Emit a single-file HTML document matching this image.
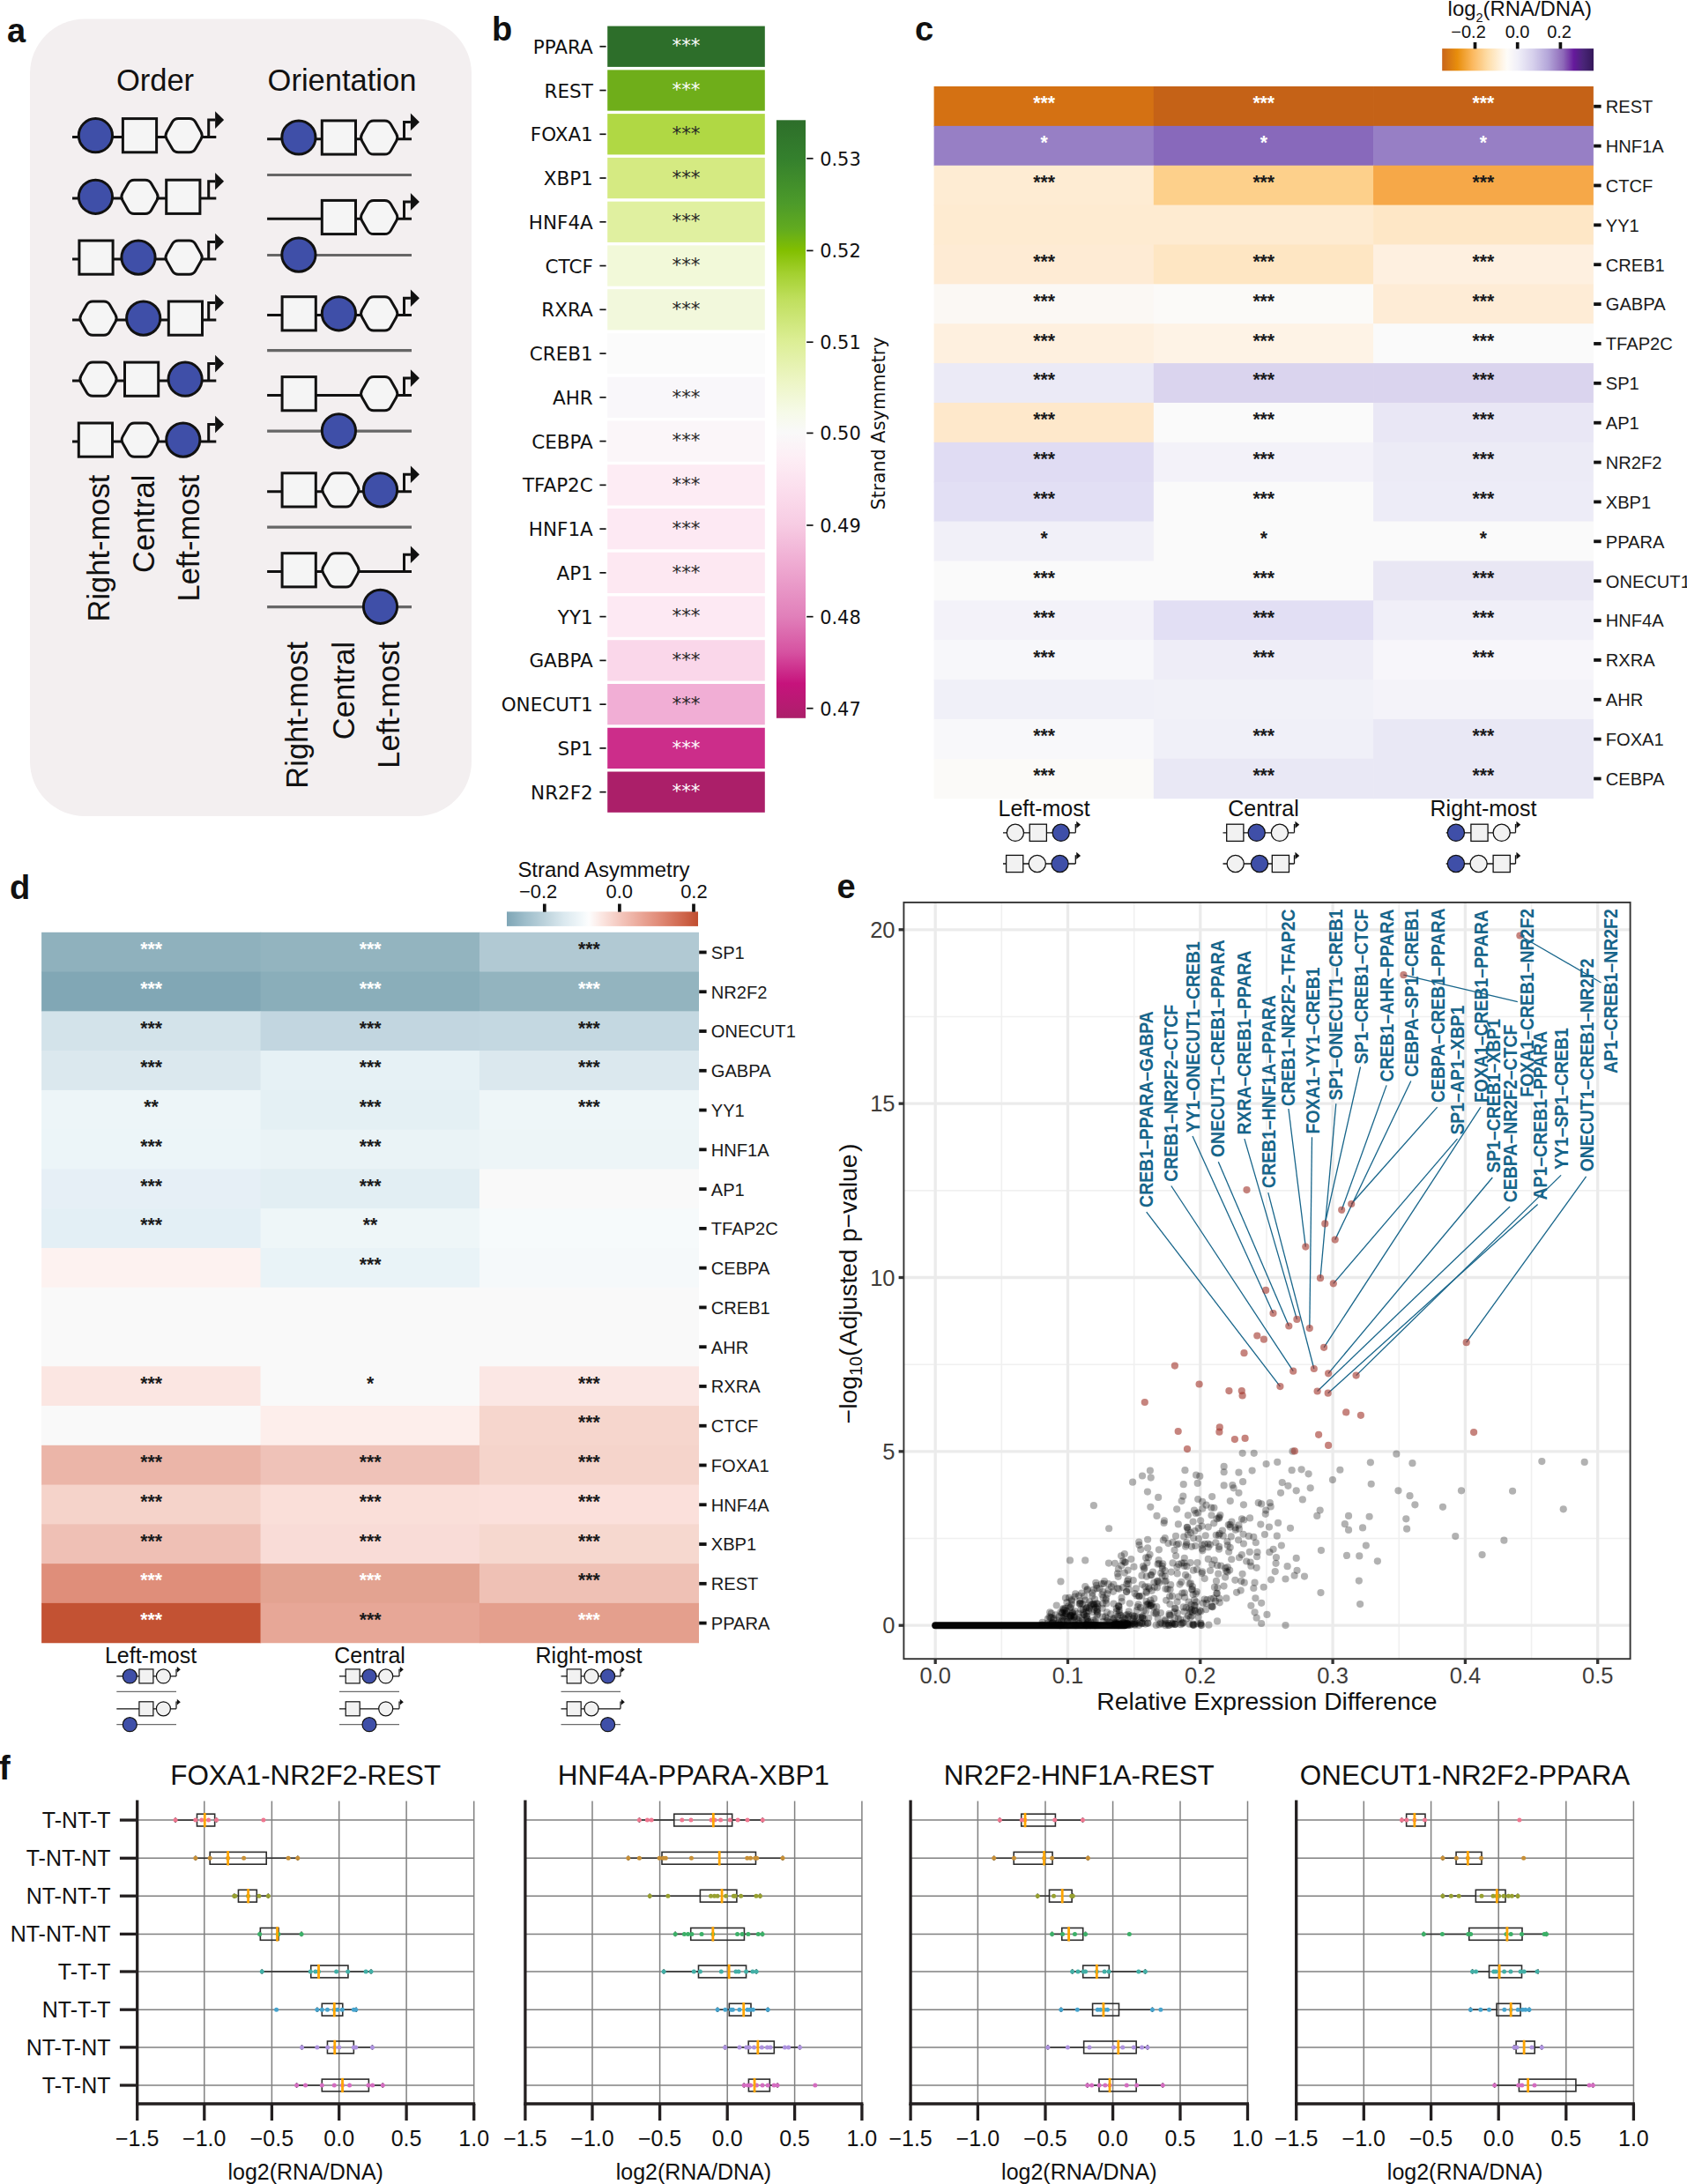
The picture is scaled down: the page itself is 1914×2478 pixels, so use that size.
<!DOCTYPE html>
<html lang="en"><head><meta charset="utf-8"><title>Figure</title>
<style>
html,body{margin:0;padding:0;background:#fff;}
svg{display:block;}
text{white-space:pre;}
</style></head><body>
<svg width="1914" height="2478" viewBox="0 0 1914 2478">
<rect width="1914" height="2478" fill="#fff"/>
<g id="panel_a">
<rect x="34" y="21.5" width="501" height="904.5" fill="#f3eff0" rx="62" ry="62"/>
<text x="8" y="47.8" font-size="38" font-family='"Liberation Sans", Arial, Helvetica, sans-serif' font-weight="bold" fill="#111">a</text>
<text x="176" y="103" font-size="34.5" font-family='"Liberation Sans", Arial, Helvetica, sans-serif' text-anchor="middle" fill="#111">Order</text>
<text x="388" y="103" font-size="34.5" font-family='"Liberation Sans", Arial, Helvetica, sans-serif' text-anchor="middle" fill="#111">Orientation</text>
<line x1="82" y1="155.5" x2="245.3" y2="155.5" stroke="#111" stroke-width="3"/><circle cx="108.4" cy="153.7" r="19.1" fill="#3f4fa8" stroke="#111" stroke-width="3"/><rect x="139.4" y="134.6" width="38.2" height="38.2" fill="#f5f5f5" stroke="#111" stroke-width="3"/><path d="M189.1 157.68 Q186.83 153.7 189.1 149.72 L195.44 138.58 Q197.71 134.6 202.3 134.6 L214.9 134.6 Q219.49 134.6 221.76 138.58 L228.1 149.72 Q230.37 153.7 228.1 157.68 L221.76 168.82 Q219.49 172.8 214.9 172.8 L202.3 172.8 Q197.71 172.8 195.44 168.82 Z" fill="#f5f5f5" stroke="#111" stroke-width="3" stroke-linejoin="round"/><path d="M236.7 155.5 V136.1 H244.1" fill="none" stroke="#111" stroke-width="3"/><path d="M244.1 126.3 L254.1 136.1 L244.1 145.9Z" fill="#111"/>
<line x1="82" y1="225.1" x2="245.3" y2="225.1" stroke="#111" stroke-width="3"/><circle cx="108.4" cy="223.3" r="19.1" fill="#3f4fa8" stroke="#111" stroke-width="3"/><path d="M139 227.28 Q136.73 223.3 139 219.32 L145.34 208.18 Q147.61 204.2 152.2 204.2 L164.8 204.2 Q169.39 204.2 171.66 208.18 L178 219.32 Q180.27 223.3 178 227.28 L171.66 238.42 Q169.39 242.4 164.8 242.4 L152.2 242.4 Q147.61 242.4 145.34 238.42 Z" fill="#f5f5f5" stroke="#111" stroke-width="3" stroke-linejoin="round"/><rect x="188.7" y="204.2" width="38.2" height="38.2" fill="#f5f5f5" stroke="#111" stroke-width="3"/><path d="M236.7 225.1 V205.7 H244.1" fill="none" stroke="#111" stroke-width="3"/><path d="M244.1 195.9 L254.1 205.7 L244.1 215.5Z" fill="#111"/>
<line x1="82" y1="293.9" x2="245.3" y2="293.9" stroke="#111" stroke-width="3"/><rect x="89.9" y="273" width="38.2" height="38.2" fill="#f5f5f5" stroke="#111" stroke-width="3"/><circle cx="157" cy="292.1" r="19.1" fill="#3f4fa8" stroke="#111" stroke-width="3"/><path d="M189.1 296.08 Q186.83 292.1 189.1 288.12 L195.44 276.98 Q197.71 273 202.3 273 L214.9 273 Q219.49 273 221.76 276.98 L228.1 288.12 Q230.37 292.1 228.1 296.08 L221.76 307.22 Q219.49 311.2 214.9 311.2 L202.3 311.2 Q197.71 311.2 195.44 307.22 Z" fill="#f5f5f5" stroke="#111" stroke-width="3" stroke-linejoin="round"/><path d="M236.7 293.9 V274.5 H244.1" fill="none" stroke="#111" stroke-width="3"/><path d="M244.1 264.7 L254.1 274.5 L244.1 284.3Z" fill="#111"/>
<line x1="82" y1="362.9" x2="245.3" y2="362.9" stroke="#111" stroke-width="3"/><path d="M92 365.08 Q89.73 361.1 92 357.12 L98.34 345.98 Q100.61 342 105.2 342 L117.8 342 Q122.39 342 124.66 345.98 L131 357.12 Q133.27 361.1 131 365.08 L124.66 376.22 Q122.39 380.2 117.8 380.2 L105.2 380.2 Q100.61 380.2 98.34 376.22 Z" fill="#f5f5f5" stroke="#111" stroke-width="3" stroke-linejoin="round"/><circle cx="162.7" cy="361.1" r="19.1" fill="#3f4fa8" stroke="#111" stroke-width="3"/><rect x="191.3" y="342" width="38.2" height="38.2" fill="#f5f5f5" stroke="#111" stroke-width="3"/><path d="M236.7 362.9 V343.5 H244.1" fill="none" stroke="#111" stroke-width="3"/><path d="M244.1 333.7 L254.1 343.5 L244.1 353.3Z" fill="#111"/>
<line x1="82" y1="432" x2="245.3" y2="432" stroke="#111" stroke-width="3"/><path d="M92 434.18 Q89.73 430.2 92 426.22 L98.34 415.08 Q100.61 411.1 105.2 411.1 L117.8 411.1 Q122.39 411.1 124.66 415.08 L131 426.22 Q133.27 430.2 131 434.18 L124.66 445.32 Q122.39 449.3 117.8 449.3 L105.2 449.3 Q100.61 449.3 98.34 445.32 Z" fill="#f5f5f5" stroke="#111" stroke-width="3" stroke-linejoin="round"/><rect x="141.5" y="411.1" width="38.2" height="38.2" fill="#f5f5f5" stroke="#111" stroke-width="3"/><circle cx="210.1" cy="430.2" r="19.1" fill="#3f4fa8" stroke="#111" stroke-width="3"/><path d="M236.7 432 V412.6 H244.1" fill="none" stroke="#111" stroke-width="3"/><path d="M244.1 402.8 L254.1 412.6 L244.1 422.4Z" fill="#111"/>
<line x1="82" y1="500.9" x2="245.3" y2="500.9" stroke="#111" stroke-width="3"/><rect x="89.3" y="480" width="38.2" height="38.2" fill="#f5f5f5" stroke="#111" stroke-width="3"/><path d="M139.3 503.08 Q137.03 499.1 139.3 495.12 L145.64 483.98 Q147.91 480 152.5 480 L165.1 480 Q169.69 480 171.96 483.98 L178.3 495.12 Q180.57 499.1 178.3 503.08 L171.96 514.22 Q169.69 518.2 165.1 518.2 L152.5 518.2 Q147.91 518.2 145.64 514.22 Z" fill="#f5f5f5" stroke="#111" stroke-width="3" stroke-linejoin="round"/><circle cx="207.8" cy="499.1" r="19.1" fill="#3f4fa8" stroke="#111" stroke-width="3"/><path d="M236.7 500.9 V481.5 H244.1" fill="none" stroke="#111" stroke-width="3"/><path d="M244.1 471.7 L254.1 481.5 L244.1 491.3Z" fill="#111"/>
<line x1="303.1" y1="157.8" x2="467" y2="157.8" stroke="#111" stroke-width="3"/><circle cx="338.9" cy="156" r="19.1" fill="#3f4fa8" stroke="#111" stroke-width="3"/><rect x="365.3" y="136.9" width="38.2" height="38.2" fill="#f5f5f5" stroke="#111" stroke-width="3"/><path d="M410.7 159.98 Q408.43 156 410.7 152.02 L417.04 140.88 Q419.31 136.9 423.9 136.9 L436.5 136.9 Q441.09 136.9 443.36 140.88 L449.7 152.02 Q451.97 156 449.7 159.98 L443.36 171.12 Q441.09 175.1 436.5 175.1 L423.9 175.1 Q419.31 175.1 417.04 171.12 Z" fill="#f5f5f5" stroke="#111" stroke-width="3" stroke-linejoin="round"/><path d="M458.5 157.8 V138.4 H465.9" fill="none" stroke="#111" stroke-width="3"/><path d="M465.9 128.6 L475.9 138.4 L465.9 148.2Z" fill="#111"/>
<line x1="303.1" y1="198.5" x2="467" y2="198.5" stroke="#666" stroke-width="3.2"/>
<line x1="303.1" y1="248.3" x2="467" y2="248.3" stroke="#111" stroke-width="3"/><rect x="365.3" y="227.4" width="38.2" height="38.2" fill="#f5f5f5" stroke="#111" stroke-width="3"/><path d="M410.7 250.48 Q408.43 246.5 410.7 242.52 L417.04 231.38 Q419.31 227.4 423.9 227.4 L436.5 227.4 Q441.09 227.4 443.36 231.38 L449.7 242.52 Q451.97 246.5 449.7 250.48 L443.36 261.62 Q441.09 265.6 436.5 265.6 L423.9 265.6 Q419.31 265.6 417.04 261.62 Z" fill="#f5f5f5" stroke="#111" stroke-width="3" stroke-linejoin="round"/><path d="M458.5 248.3 V228.9 H465.9" fill="none" stroke="#111" stroke-width="3"/><path d="M465.9 219.1 L475.9 228.9 L465.9 238.7Z" fill="#111"/>
<line x1="303.1" y1="289.5" x2="467" y2="289.5" stroke="#666" stroke-width="3.2"/><circle cx="338.9" cy="289.1" r="19.1" fill="#3f4fa8" stroke="#111" stroke-width="3"/>
<line x1="303.1" y1="357.6" x2="467" y2="357.6" stroke="#111" stroke-width="3"/><rect x="320.1" y="336.7" width="38.2" height="38.2" fill="#f5f5f5" stroke="#111" stroke-width="3"/><circle cx="384.4" cy="355.8" r="19.1" fill="#3f4fa8" stroke="#111" stroke-width="3"/><path d="M410.7 359.78 Q408.43 355.8 410.7 351.82 L417.04 340.68 Q419.31 336.7 423.9 336.7 L436.5 336.7 Q441.09 336.7 443.36 340.68 L449.7 351.82 Q451.97 355.8 449.7 359.78 L443.36 370.92 Q441.09 374.9 436.5 374.9 L423.9 374.9 Q419.31 374.9 417.04 370.92 Z" fill="#f5f5f5" stroke="#111" stroke-width="3" stroke-linejoin="round"/><path d="M458.5 357.6 V338.2 H465.9" fill="none" stroke="#111" stroke-width="3"/><path d="M465.9 328.4 L475.9 338.2 L465.9 348Z" fill="#111"/>
<line x1="303.1" y1="397.7" x2="467" y2="397.7" stroke="#666" stroke-width="3.2"/>
<line x1="303.1" y1="448.5" x2="467" y2="448.5" stroke="#111" stroke-width="3"/><rect x="320.1" y="427.6" width="38.2" height="38.2" fill="#f5f5f5" stroke="#111" stroke-width="3"/><path d="M410.7 450.68 Q408.43 446.7 410.7 442.72 L417.04 431.58 Q419.31 427.6 423.9 427.6 L436.5 427.6 Q441.09 427.6 443.36 431.58 L449.7 442.72 Q451.97 446.7 449.7 450.68 L443.36 461.82 Q441.09 465.8 436.5 465.8 L423.9 465.8 Q419.31 465.8 417.04 461.82 Z" fill="#f5f5f5" stroke="#111" stroke-width="3" stroke-linejoin="round"/><path d="M458.5 448.5 V429.1 H465.9" fill="none" stroke="#111" stroke-width="3"/><path d="M465.9 419.3 L475.9 429.1 L465.9 438.9Z" fill="#111"/>
<line x1="303.1" y1="489.2" x2="467" y2="489.2" stroke="#666" stroke-width="3.2"/><circle cx="384.4" cy="488.8" r="19.1" fill="#3f4fa8" stroke="#111" stroke-width="3"/>
<line x1="303.1" y1="557.7" x2="467" y2="557.7" stroke="#111" stroke-width="3"/><rect x="320.1" y="536.8" width="38.2" height="38.2" fill="#f5f5f5" stroke="#111" stroke-width="3"/><path d="M366.9 559.88 Q364.63 555.9 366.9 551.92 L373.24 540.78 Q375.51 536.8 380.1 536.8 L392.7 536.8 Q397.29 536.8 399.56 540.78 L405.9 551.92 Q408.17 555.9 405.9 559.88 L399.56 571.02 Q397.29 575 392.7 575 L380.1 575 Q375.51 575 373.24 571.02 Z" fill="#f5f5f5" stroke="#111" stroke-width="3" stroke-linejoin="round"/><circle cx="431.5" cy="555.9" r="19.1" fill="#3f4fa8" stroke="#111" stroke-width="3"/><path d="M458.5 557.7 V538.3 H465.9" fill="none" stroke="#111" stroke-width="3"/><path d="M465.9 528.5 L475.9 538.3 L465.9 548.1Z" fill="#111"/>
<line x1="303.1" y1="598.1" x2="467" y2="598.1" stroke="#666" stroke-width="3.2"/>
<line x1="303.1" y1="648.6" x2="467" y2="648.6" stroke="#111" stroke-width="3"/><rect x="320.1" y="627.7" width="38.2" height="38.2" fill="#f5f5f5" stroke="#111" stroke-width="3"/><path d="M366.9 650.78 Q364.63 646.8 366.9 642.82 L373.24 631.68 Q375.51 627.7 380.1 627.7 L392.7 627.7 Q397.29 627.7 399.56 631.68 L405.9 642.82 Q408.17 646.8 405.9 650.78 L399.56 661.92 Q397.29 665.9 392.7 665.9 L380.1 665.9 Q375.51 665.9 373.24 661.92 Z" fill="#f5f5f5" stroke="#111" stroke-width="3" stroke-linejoin="round"/><path d="M458.5 648.6 V629.2 H465.9" fill="none" stroke="#111" stroke-width="3"/><path d="M465.9 619.4 L475.9 629.2 L465.9 639Z" fill="#111"/>
<line x1="303.1" y1="688.7" x2="467" y2="688.7" stroke="#666" stroke-width="3.2"/><circle cx="431.5" cy="688.3" r="19.1" fill="#3f4fa8" stroke="#111" stroke-width="3"/>
<text x="124.4" y="538.7" font-size="34.5" font-family='"Liberation Sans", Arial, Helvetica, sans-serif' text-anchor="end" fill="#111" transform="rotate(-90 124.4 538.7)">Right-most</text>
<text x="175" y="538.7" font-size="34.5" font-family='"Liberation Sans", Arial, Helvetica, sans-serif' text-anchor="end" fill="#111" transform="rotate(-90 175 538.7)">Central</text>
<text x="225.7" y="538.7" font-size="34.5" font-family='"Liberation Sans", Arial, Helvetica, sans-serif' text-anchor="end" fill="#111" transform="rotate(-90 225.7 538.7)">Left-most</text>
<text x="349.5" y="727.9" font-size="34.5" font-family='"Liberation Sans", Arial, Helvetica, sans-serif' text-anchor="end" fill="#111" transform="rotate(-90 349.5 727.9)">Right-most</text>
<text x="401.7" y="727.9" font-size="34.5" font-family='"Liberation Sans", Arial, Helvetica, sans-serif' text-anchor="end" fill="#111" transform="rotate(-90 401.7 727.9)">Central</text>
<text x="453.1" y="727.9" font-size="34.5" font-family='"Liberation Sans", Arial, Helvetica, sans-serif' text-anchor="end" fill="#111" transform="rotate(-90 453.1 727.9)">Left-most</text>
</g>
<g id="panel_b">
<text x="558" y="45.5" font-size="38" font-family='"Liberation Sans", Arial, Helvetica, sans-serif' font-weight="bold" fill="#111">b</text>
<rect x="689.2" y="29.6" width="178.6" height="46.3" fill="#2d6e2a"/>
<line x1="680.4" y1="52.75" x2="687.6" y2="52.75" stroke="#111" stroke-width="1.7"/>
<text x="672.8" y="60.85" font-size="21.5" font-family='"DejaVu Sans", "Liberation Sans", sans-serif' text-anchor="end" fill="#111">PPARA</text>
<text x="778.5" y="59.45" font-size="21.3" font-family='"DejaVu Sans", "Liberation Sans", sans-serif' text-anchor="middle" fill="#fff">***</text>
<rect x="689.2" y="79.36" width="178.6" height="46.3" fill="#6fae1a"/>
<line x1="680.4" y1="102.51" x2="687.6" y2="102.51" stroke="#111" stroke-width="1.7"/>
<text x="672.8" y="110.61" font-size="21.5" font-family='"DejaVu Sans", "Liberation Sans", sans-serif' text-anchor="end" fill="#111">REST</text>
<text x="778.5" y="109.21" font-size="21.3" font-family='"DejaVu Sans", "Liberation Sans", sans-serif' text-anchor="middle" fill="#fff">***</text>
<rect x="689.2" y="129.12" width="178.6" height="46.3" fill="#b0d844"/>
<line x1="680.4" y1="152.27" x2="687.6" y2="152.27" stroke="#111" stroke-width="1.7"/>
<text x="672.8" y="160.37" font-size="21.5" font-family='"DejaVu Sans", "Liberation Sans", sans-serif' text-anchor="end" fill="#111">FOXA1</text>
<text x="778.5" y="158.97" font-size="21.3" font-family='"DejaVu Sans", "Liberation Sans", sans-serif' text-anchor="middle" fill="#262626">***</text>
<rect x="689.2" y="178.88" width="178.6" height="46.3" fill="#d5ea82"/>
<line x1="680.4" y1="202.03" x2="687.6" y2="202.03" stroke="#111" stroke-width="1.7"/>
<text x="672.8" y="210.13" font-size="21.5" font-family='"DejaVu Sans", "Liberation Sans", sans-serif' text-anchor="end" fill="#111">XBP1</text>
<text x="778.5" y="208.73" font-size="21.3" font-family='"DejaVu Sans", "Liberation Sans", sans-serif' text-anchor="middle" fill="#262626">***</text>
<rect x="689.2" y="228.64" width="178.6" height="46.3" fill="#e0f0a0"/>
<line x1="680.4" y1="251.79" x2="687.6" y2="251.79" stroke="#111" stroke-width="1.7"/>
<text x="672.8" y="259.89" font-size="21.5" font-family='"DejaVu Sans", "Liberation Sans", sans-serif' text-anchor="end" fill="#111">HNF4A</text>
<text x="778.5" y="258.49" font-size="21.3" font-family='"DejaVu Sans", "Liberation Sans", sans-serif' text-anchor="middle" fill="#262626">***</text>
<rect x="689.2" y="278.4" width="178.6" height="46.3" fill="#f2f9d9"/>
<line x1="680.4" y1="301.55" x2="687.6" y2="301.55" stroke="#111" stroke-width="1.7"/>
<text x="672.8" y="309.65" font-size="21.5" font-family='"DejaVu Sans", "Liberation Sans", sans-serif' text-anchor="end" fill="#111">CTCF</text>
<text x="778.5" y="308.25" font-size="21.3" font-family='"DejaVu Sans", "Liberation Sans", sans-serif' text-anchor="middle" fill="#262626">***</text>
<rect x="689.2" y="328.16" width="178.6" height="46.3" fill="#f2f8dc"/>
<line x1="680.4" y1="351.31" x2="687.6" y2="351.31" stroke="#111" stroke-width="1.7"/>
<text x="672.8" y="359.41" font-size="21.5" font-family='"DejaVu Sans", "Liberation Sans", sans-serif' text-anchor="end" fill="#111">RXRA</text>
<text x="778.5" y="358.01" font-size="21.3" font-family='"DejaVu Sans", "Liberation Sans", sans-serif' text-anchor="middle" fill="#262626">***</text>
<rect x="689.2" y="377.92" width="178.6" height="46.3" fill="#fbfbfb"/>
<line x1="680.4" y1="401.07" x2="687.6" y2="401.07" stroke="#111" stroke-width="1.7"/>
<text x="672.8" y="409.17" font-size="21.5" font-family='"DejaVu Sans", "Liberation Sans", sans-serif' text-anchor="end" fill="#111">CREB1</text>
<rect x="689.2" y="427.68" width="178.6" height="46.3" fill="#f9f7fa"/>
<line x1="680.4" y1="450.83" x2="687.6" y2="450.83" stroke="#111" stroke-width="1.7"/>
<text x="672.8" y="458.93" font-size="21.5" font-family='"DejaVu Sans", "Liberation Sans", sans-serif' text-anchor="end" fill="#111">AHR</text>
<text x="778.5" y="457.53" font-size="21.3" font-family='"DejaVu Sans", "Liberation Sans", sans-serif' text-anchor="middle" fill="#262626">***</text>
<rect x="689.2" y="477.44" width="178.6" height="46.3" fill="#fbf6f9"/>
<line x1="680.4" y1="500.59" x2="687.6" y2="500.59" stroke="#111" stroke-width="1.7"/>
<text x="672.8" y="508.69" font-size="21.5" font-family='"DejaVu Sans", "Liberation Sans", sans-serif' text-anchor="end" fill="#111">CEBPA</text>
<text x="778.5" y="507.29" font-size="21.3" font-family='"DejaVu Sans", "Liberation Sans", sans-serif' text-anchor="middle" fill="#262626">***</text>
<rect x="689.2" y="527.2" width="178.6" height="46.3" fill="#fdecf4"/>
<line x1="680.4" y1="550.35" x2="687.6" y2="550.35" stroke="#111" stroke-width="1.7"/>
<text x="672.8" y="558.45" font-size="21.5" font-family='"DejaVu Sans", "Liberation Sans", sans-serif' text-anchor="end" fill="#111">TFAP2C</text>
<text x="778.5" y="557.05" font-size="21.3" font-family='"DejaVu Sans", "Liberation Sans", sans-serif' text-anchor="middle" fill="#262626">***</text>
<rect x="689.2" y="576.96" width="178.6" height="46.3" fill="#fde9f3"/>
<line x1="680.4" y1="600.11" x2="687.6" y2="600.11" stroke="#111" stroke-width="1.7"/>
<text x="672.8" y="608.21" font-size="21.5" font-family='"DejaVu Sans", "Liberation Sans", sans-serif' text-anchor="end" fill="#111">HNF1A</text>
<text x="778.5" y="606.81" font-size="21.3" font-family='"DejaVu Sans", "Liberation Sans", sans-serif' text-anchor="middle" fill="#262626">***</text>
<rect x="689.2" y="626.72" width="178.6" height="46.3" fill="#fde8f2"/>
<line x1="680.4" y1="649.87" x2="687.6" y2="649.87" stroke="#111" stroke-width="1.7"/>
<text x="672.8" y="657.97" font-size="21.5" font-family='"DejaVu Sans", "Liberation Sans", sans-serif' text-anchor="end" fill="#111">AP1</text>
<text x="778.5" y="656.57" font-size="21.3" font-family='"DejaVu Sans", "Liberation Sans", sans-serif' text-anchor="middle" fill="#262626">***</text>
<rect x="689.2" y="676.48" width="178.6" height="46.3" fill="#fde9f3"/>
<line x1="680.4" y1="699.63" x2="687.6" y2="699.63" stroke="#111" stroke-width="1.7"/>
<text x="672.8" y="707.73" font-size="21.5" font-family='"DejaVu Sans", "Liberation Sans", sans-serif' text-anchor="end" fill="#111">YY1</text>
<text x="778.5" y="706.33" font-size="21.3" font-family='"DejaVu Sans", "Liberation Sans", sans-serif' text-anchor="middle" fill="#262626">***</text>
<rect x="689.2" y="726.24" width="178.6" height="46.3" fill="#fad7ea"/>
<line x1="680.4" y1="749.39" x2="687.6" y2="749.39" stroke="#111" stroke-width="1.7"/>
<text x="672.8" y="757.49" font-size="21.5" font-family='"DejaVu Sans", "Liberation Sans", sans-serif' text-anchor="end" fill="#111">GABPA</text>
<text x="778.5" y="756.09" font-size="21.3" font-family='"DejaVu Sans", "Liberation Sans", sans-serif' text-anchor="middle" fill="#262626">***</text>
<rect x="689.2" y="776" width="178.6" height="46.3" fill="#f1aed5"/>
<line x1="680.4" y1="799.15" x2="687.6" y2="799.15" stroke="#111" stroke-width="1.7"/>
<text x="672.8" y="807.25" font-size="21.5" font-family='"DejaVu Sans", "Liberation Sans", sans-serif' text-anchor="end" fill="#111">ONECUT1</text>
<text x="778.5" y="805.85" font-size="21.3" font-family='"DejaVu Sans", "Liberation Sans", sans-serif' text-anchor="middle" fill="#262626">***</text>
<rect x="689.2" y="825.76" width="178.6" height="46.3" fill="#cc2d8a"/>
<line x1="680.4" y1="848.91" x2="687.6" y2="848.91" stroke="#111" stroke-width="1.7"/>
<text x="672.8" y="857.01" font-size="21.5" font-family='"DejaVu Sans", "Liberation Sans", sans-serif' text-anchor="end" fill="#111">SP1</text>
<text x="778.5" y="855.61" font-size="21.3" font-family='"DejaVu Sans", "Liberation Sans", sans-serif' text-anchor="middle" fill="#fff">***</text>
<rect x="689.2" y="875.52" width="178.6" height="46.3" fill="#ab1f69"/>
<line x1="680.4" y1="898.67" x2="687.6" y2="898.67" stroke="#111" stroke-width="1.7"/>
<text x="672.8" y="906.77" font-size="21.5" font-family='"DejaVu Sans", "Liberation Sans", sans-serif' text-anchor="end" fill="#111">NR2F2</text>
<text x="778.5" y="905.37" font-size="21.3" font-family='"DejaVu Sans", "Liberation Sans", sans-serif' text-anchor="middle" fill="#fff">***</text>
<defs><linearGradient id="gb" gradientUnits="userSpaceOnUse" x1="0" y1="136.3" x2="0" y2="814.8"><stop offset="0%" stop-color="#2d6e2a"/><stop offset="6.29%" stop-color="#34802d"/><stop offset="13.81%" stop-color="#4c9a2a"/><stop offset="18.23%" stop-color="#62ab1f"/><stop offset="21.77%" stop-color="#82bf00"/><stop offset="25.6%" stop-color="#a3d02f"/><stop offset="30.02%" stop-color="#c0df5e"/><stop offset="36.95%" stop-color="#dcee95"/><stop offset="43.29%" stop-color="#ecf5c2"/><stop offset="48.89%" stop-color="#f6fae8"/><stop offset="52.22%" stop-color="#f9f9f9"/><stop offset="56.55%" stop-color="#fdeef5"/><stop offset="62.45%" stop-color="#fbdcec"/><stop offset="67.61%" stop-color="#f7cce3"/><stop offset="74.24%" stop-color="#efabd2"/><stop offset="82.93%" stop-color="#e180ba"/><stop offset="88.98%" stop-color="#d652a1"/><stop offset="94.22%" stop-color="#c6137c"/><stop offset="98.26%" stop-color="#b41c70"/><stop offset="100%" stop-color="#ab1f69"/></linearGradient></defs>
<rect x="880.9" y="136.3" width="33.1" height="678.5" fill="url(#gb)"/>
<line x1="915.2" y1="179.8" x2="922.6" y2="179.8" stroke="#111" stroke-width="1.7"/>
<text x="930.2" y="187.7" font-size="20.9" font-family='"DejaVu Sans", "Liberation Sans", sans-serif' fill="#111">0.53</text>
<line x1="915.2" y1="284.4" x2="922.6" y2="284.4" stroke="#111" stroke-width="1.7"/>
<text x="930.2" y="292.3" font-size="20.9" font-family='"DejaVu Sans", "Liberation Sans", sans-serif' fill="#111">0.52</text>
<line x1="915.2" y1="388.2" x2="922.6" y2="388.2" stroke="#111" stroke-width="1.7"/>
<text x="930.2" y="396.1" font-size="20.9" font-family='"DejaVu Sans", "Liberation Sans", sans-serif' fill="#111">0.51</text>
<line x1="915.2" y1="491.4" x2="922.6" y2="491.4" stroke="#111" stroke-width="1.7"/>
<text x="930.2" y="499.3" font-size="20.9" font-family='"DejaVu Sans", "Liberation Sans", sans-serif' fill="#111">0.50</text>
<line x1="915.2" y1="596" x2="922.6" y2="596" stroke="#111" stroke-width="1.7"/>
<text x="930.2" y="603.9" font-size="20.9" font-family='"DejaVu Sans", "Liberation Sans", sans-serif' fill="#111">0.49</text>
<line x1="915.2" y1="699.7" x2="922.6" y2="699.7" stroke="#111" stroke-width="1.7"/>
<text x="930.2" y="707.6" font-size="20.9" font-family='"DejaVu Sans", "Liberation Sans", sans-serif' fill="#111">0.48</text>
<line x1="915.2" y1="803.7" x2="922.6" y2="803.7" stroke="#111" stroke-width="1.7"/>
<text x="930.2" y="811.6" font-size="20.9" font-family='"DejaVu Sans", "Liberation Sans", sans-serif' fill="#111">0.47</text>
<text x="1003.5" y="480.5" font-size="20.9" font-family='"DejaVu Sans", "Liberation Sans", sans-serif' text-anchor="middle" fill="#111" transform="rotate(-90 1003.5 480.5)">Strand Asymmetry</text>
</g>
<g id="panel_c">
<text x="1038" y="46" font-size="38" font-family='"Liberation Sans", Arial, Helvetica, sans-serif' font-weight="bold" fill="#111">c</text>
<rect x="1059.6" y="98" width="249.83" height="45.47" fill="#d47113"/>
<rect x="1308.83" y="98" width="249.83" height="45.47" fill="#c56217"/>
<rect x="1558.06" y="98" width="249.83" height="45.47" fill="#c56217"/>
<rect x="1059.6" y="142.87" width="249.83" height="45.47" fill="#977fc5"/>
<rect x="1308.83" y="142.87" width="249.83" height="45.47" fill="#8869bb"/>
<rect x="1558.06" y="142.87" width="249.83" height="45.47" fill="#977fc5"/>
<rect x="1059.6" y="187.74" width="249.83" height="45.47" fill="#feecd3"/>
<rect x="1308.83" y="187.74" width="249.83" height="45.47" fill="#fdd08b"/>
<rect x="1558.06" y="187.74" width="249.83" height="45.47" fill="#f6a848"/>
<rect x="1059.6" y="232.61" width="249.83" height="45.47" fill="#feebd1"/>
<rect x="1308.83" y="232.61" width="249.83" height="45.47" fill="#feebd1"/>
<rect x="1558.06" y="232.61" width="249.83" height="45.47" fill="#fee7c6"/>
<rect x="1059.6" y="277.48" width="249.83" height="45.47" fill="#feebd4"/>
<rect x="1308.83" y="277.48" width="249.83" height="45.47" fill="#fee6c3"/>
<rect x="1558.06" y="277.48" width="249.83" height="45.47" fill="#fef0e0"/>
<rect x="1059.6" y="322.35" width="249.83" height="45.47" fill="#fbf8f4"/>
<rect x="1308.83" y="322.35" width="249.83" height="45.47" fill="#fbfaf8"/>
<rect x="1558.06" y="322.35" width="249.83" height="45.47" fill="#feecd6"/>
<rect x="1059.6" y="367.22" width="249.83" height="45.47" fill="#fef0df"/>
<rect x="1308.83" y="367.22" width="249.83" height="45.47" fill="#fef3e6"/>
<rect x="1558.06" y="367.22" width="249.83" height="45.47" fill="#fafafa"/>
<rect x="1059.6" y="412.09" width="249.83" height="45.47" fill="#ebeaf6"/>
<rect x="1308.83" y="412.09" width="249.83" height="45.47" fill="#dad4ee"/>
<rect x="1558.06" y="412.09" width="249.83" height="45.47" fill="#dad4ee"/>
<rect x="1059.6" y="456.96" width="249.83" height="45.47" fill="#fee8cb"/>
<rect x="1308.83" y="456.96" width="249.83" height="45.47" fill="#fafafa"/>
<rect x="1558.06" y="456.96" width="249.83" height="45.47" fill="#e9e7f5"/>
<rect x="1059.6" y="501.83" width="249.83" height="45.47" fill="#e0dcf3"/>
<rect x="1308.83" y="501.83" width="249.83" height="45.47" fill="#f3f2f9"/>
<rect x="1558.06" y="501.83" width="249.83" height="45.47" fill="#ecebf6"/>
<rect x="1059.6" y="546.7" width="249.83" height="45.47" fill="#e2dff4"/>
<rect x="1308.83" y="546.7" width="249.83" height="45.47" fill="#fafafa"/>
<rect x="1558.06" y="546.7" width="249.83" height="45.47" fill="#edecf7"/>
<rect x="1059.6" y="591.57" width="249.83" height="45.47" fill="#f1f0f8"/>
<rect x="1308.83" y="591.57" width="249.83" height="45.47" fill="#fafafa"/>
<rect x="1558.06" y="591.57" width="249.83" height="45.47" fill="#fafafa"/>
<rect x="1059.6" y="636.44" width="249.83" height="45.47" fill="#fafafa"/>
<rect x="1308.83" y="636.44" width="249.83" height="45.47" fill="#fafafa"/>
<rect x="1558.06" y="636.44" width="249.83" height="45.47" fill="#e9e7f4"/>
<rect x="1059.6" y="681.31" width="249.83" height="45.47" fill="#f3f2f9"/>
<rect x="1308.83" y="681.31" width="249.83" height="45.47" fill="#e2dff4"/>
<rect x="1558.06" y="681.31" width="249.83" height="45.47" fill="#f0eff8"/>
<rect x="1059.6" y="726.18" width="249.83" height="45.47" fill="#f7f7fa"/>
<rect x="1308.83" y="726.18" width="249.83" height="45.47" fill="#eeedf7"/>
<rect x="1558.06" y="726.18" width="249.83" height="45.47" fill="#f7f6fa"/>
<rect x="1059.6" y="771.05" width="249.83" height="45.47" fill="#f0f0f8"/>
<rect x="1308.83" y="771.05" width="249.83" height="45.47" fill="#f1f1f8"/>
<rect x="1558.06" y="771.05" width="249.83" height="45.47" fill="#f4f3f9"/>
<rect x="1059.6" y="815.92" width="249.83" height="45.47" fill="#f8f8fa"/>
<rect x="1308.83" y="815.92" width="249.83" height="45.47" fill="#f0f0f8"/>
<rect x="1558.06" y="815.92" width="249.83" height="45.47" fill="#e9e8f5"/>
<rect x="1059.6" y="860.79" width="249.83" height="45.47" fill="#fbfaf8"/>
<rect x="1308.83" y="860.79" width="249.83" height="45.47" fill="#e9e8f5"/>
<rect x="1558.06" y="860.79" width="249.83" height="45.47" fill="#e9e8f5"/>
<text x="1184.52" y="124.33" font-size="21.2" font-family='"Liberation Sans", Arial, Helvetica, sans-serif' text-anchor="middle" font-weight="bold" fill="#fff">***</text>
<text x="1433.75" y="124.33" font-size="21.2" font-family='"Liberation Sans", Arial, Helvetica, sans-serif' text-anchor="middle" font-weight="bold" fill="#fff">***</text>
<text x="1682.97" y="124.33" font-size="21.2" font-family='"Liberation Sans", Arial, Helvetica, sans-serif' text-anchor="middle" font-weight="bold" fill="#fff">***</text>
<line x1="1808.2" y1="120.73" x2="1816.6" y2="120.73" stroke="#111" stroke-width="3.8"/>
<text x="1821.8" y="128.13" font-size="20.1" font-family='"Liberation Sans", Arial, Helvetica, sans-serif' fill="#1a1a1a">REST</text>
<text x="1184.52" y="169.2" font-size="21.2" font-family='"Liberation Sans", Arial, Helvetica, sans-serif' text-anchor="middle" font-weight="bold" fill="#fff">*</text>
<text x="1433.75" y="169.2" font-size="21.2" font-family='"Liberation Sans", Arial, Helvetica, sans-serif' text-anchor="middle" font-weight="bold" fill="#fff">*</text>
<text x="1682.97" y="169.2" font-size="21.2" font-family='"Liberation Sans", Arial, Helvetica, sans-serif' text-anchor="middle" font-weight="bold" fill="#fff">*</text>
<line x1="1808.2" y1="165.6" x2="1816.6" y2="165.6" stroke="#111" stroke-width="3.8"/>
<text x="1821.8" y="173" font-size="20.1" font-family='"Liberation Sans", Arial, Helvetica, sans-serif' fill="#1a1a1a">HNF1A</text>
<text x="1184.52" y="214.07" font-size="21.2" font-family='"Liberation Sans", Arial, Helvetica, sans-serif' text-anchor="middle" font-weight="bold" fill="#1a1a1a">***</text>
<text x="1433.75" y="214.07" font-size="21.2" font-family='"Liberation Sans", Arial, Helvetica, sans-serif' text-anchor="middle" font-weight="bold" fill="#1a1a1a">***</text>
<text x="1682.97" y="214.07" font-size="21.2" font-family='"Liberation Sans", Arial, Helvetica, sans-serif' text-anchor="middle" font-weight="bold" fill="#1a1a1a">***</text>
<line x1="1808.2" y1="210.47" x2="1816.6" y2="210.47" stroke="#111" stroke-width="3.8"/>
<text x="1821.8" y="217.88" font-size="20.1" font-family='"Liberation Sans", Arial, Helvetica, sans-serif' fill="#1a1a1a">CTCF</text>
<line x1="1808.2" y1="255.34" x2="1816.6" y2="255.34" stroke="#111" stroke-width="3.8"/>
<text x="1821.8" y="262.74" font-size="20.1" font-family='"Liberation Sans", Arial, Helvetica, sans-serif' fill="#1a1a1a">YY1</text>
<text x="1184.52" y="303.81" font-size="21.2" font-family='"Liberation Sans", Arial, Helvetica, sans-serif' text-anchor="middle" font-weight="bold" fill="#1a1a1a">***</text>
<text x="1433.75" y="303.81" font-size="21.2" font-family='"Liberation Sans", Arial, Helvetica, sans-serif' text-anchor="middle" font-weight="bold" fill="#1a1a1a">***</text>
<text x="1682.97" y="303.81" font-size="21.2" font-family='"Liberation Sans", Arial, Helvetica, sans-serif' text-anchor="middle" font-weight="bold" fill="#1a1a1a">***</text>
<line x1="1808.2" y1="300.21" x2="1816.6" y2="300.21" stroke="#111" stroke-width="3.8"/>
<text x="1821.8" y="307.61" font-size="20.1" font-family='"Liberation Sans", Arial, Helvetica, sans-serif' fill="#1a1a1a">CREB1</text>
<text x="1184.52" y="348.69" font-size="21.2" font-family='"Liberation Sans", Arial, Helvetica, sans-serif' text-anchor="middle" font-weight="bold" fill="#1a1a1a">***</text>
<text x="1433.75" y="348.69" font-size="21.2" font-family='"Liberation Sans", Arial, Helvetica, sans-serif' text-anchor="middle" font-weight="bold" fill="#1a1a1a">***</text>
<text x="1682.97" y="348.69" font-size="21.2" font-family='"Liberation Sans", Arial, Helvetica, sans-serif' text-anchor="middle" font-weight="bold" fill="#1a1a1a">***</text>
<line x1="1808.2" y1="345.08" x2="1816.6" y2="345.08" stroke="#111" stroke-width="3.8"/>
<text x="1821.8" y="352.48" font-size="20.1" font-family='"Liberation Sans", Arial, Helvetica, sans-serif' fill="#1a1a1a">GABPA</text>
<text x="1184.52" y="393.56" font-size="21.2" font-family='"Liberation Sans", Arial, Helvetica, sans-serif' text-anchor="middle" font-weight="bold" fill="#1a1a1a">***</text>
<text x="1433.75" y="393.56" font-size="21.2" font-family='"Liberation Sans", Arial, Helvetica, sans-serif' text-anchor="middle" font-weight="bold" fill="#1a1a1a">***</text>
<text x="1682.97" y="393.56" font-size="21.2" font-family='"Liberation Sans", Arial, Helvetica, sans-serif' text-anchor="middle" font-weight="bold" fill="#1a1a1a">***</text>
<line x1="1808.2" y1="389.95" x2="1816.6" y2="389.95" stroke="#111" stroke-width="3.8"/>
<text x="1821.8" y="397.35" font-size="20.1" font-family='"Liberation Sans", Arial, Helvetica, sans-serif' fill="#1a1a1a">TFAP2C</text>
<text x="1184.52" y="438.43" font-size="21.2" font-family='"Liberation Sans", Arial, Helvetica, sans-serif' text-anchor="middle" font-weight="bold" fill="#1a1a1a">***</text>
<text x="1433.75" y="438.43" font-size="21.2" font-family='"Liberation Sans", Arial, Helvetica, sans-serif' text-anchor="middle" font-weight="bold" fill="#1a1a1a">***</text>
<text x="1682.97" y="438.43" font-size="21.2" font-family='"Liberation Sans", Arial, Helvetica, sans-serif' text-anchor="middle" font-weight="bold" fill="#1a1a1a">***</text>
<line x1="1808.2" y1="434.82" x2="1816.6" y2="434.82" stroke="#111" stroke-width="3.8"/>
<text x="1821.8" y="442.22" font-size="20.1" font-family='"Liberation Sans", Arial, Helvetica, sans-serif' fill="#1a1a1a">SP1</text>
<text x="1184.52" y="483.3" font-size="21.2" font-family='"Liberation Sans", Arial, Helvetica, sans-serif' text-anchor="middle" font-weight="bold" fill="#1a1a1a">***</text>
<text x="1433.75" y="483.3" font-size="21.2" font-family='"Liberation Sans", Arial, Helvetica, sans-serif' text-anchor="middle" font-weight="bold" fill="#1a1a1a">***</text>
<text x="1682.97" y="483.3" font-size="21.2" font-family='"Liberation Sans", Arial, Helvetica, sans-serif' text-anchor="middle" font-weight="bold" fill="#1a1a1a">***</text>
<line x1="1808.2" y1="479.69" x2="1816.6" y2="479.69" stroke="#111" stroke-width="3.8"/>
<text x="1821.8" y="487.09" font-size="20.1" font-family='"Liberation Sans", Arial, Helvetica, sans-serif' fill="#1a1a1a">AP1</text>
<text x="1184.52" y="528.16" font-size="21.2" font-family='"Liberation Sans", Arial, Helvetica, sans-serif' text-anchor="middle" font-weight="bold" fill="#1a1a1a">***</text>
<text x="1433.75" y="528.16" font-size="21.2" font-family='"Liberation Sans", Arial, Helvetica, sans-serif' text-anchor="middle" font-weight="bold" fill="#1a1a1a">***</text>
<text x="1682.97" y="528.16" font-size="21.2" font-family='"Liberation Sans", Arial, Helvetica, sans-serif' text-anchor="middle" font-weight="bold" fill="#1a1a1a">***</text>
<line x1="1808.2" y1="524.56" x2="1816.6" y2="524.56" stroke="#111" stroke-width="3.8"/>
<text x="1821.8" y="531.96" font-size="20.1" font-family='"Liberation Sans", Arial, Helvetica, sans-serif' fill="#1a1a1a">NR2F2</text>
<text x="1184.52" y="573.03" font-size="21.2" font-family='"Liberation Sans", Arial, Helvetica, sans-serif' text-anchor="middle" font-weight="bold" fill="#1a1a1a">***</text>
<text x="1433.75" y="573.03" font-size="21.2" font-family='"Liberation Sans", Arial, Helvetica, sans-serif' text-anchor="middle" font-weight="bold" fill="#1a1a1a">***</text>
<text x="1682.97" y="573.03" font-size="21.2" font-family='"Liberation Sans", Arial, Helvetica, sans-serif' text-anchor="middle" font-weight="bold" fill="#1a1a1a">***</text>
<line x1="1808.2" y1="569.43" x2="1816.6" y2="569.43" stroke="#111" stroke-width="3.8"/>
<text x="1821.8" y="576.83" font-size="20.1" font-family='"Liberation Sans", Arial, Helvetica, sans-serif' fill="#1a1a1a">XBP1</text>
<text x="1184.52" y="617.9" font-size="21.2" font-family='"Liberation Sans", Arial, Helvetica, sans-serif' text-anchor="middle" font-weight="bold" fill="#1a1a1a">*</text>
<text x="1433.75" y="617.9" font-size="21.2" font-family='"Liberation Sans", Arial, Helvetica, sans-serif' text-anchor="middle" font-weight="bold" fill="#1a1a1a">*</text>
<text x="1682.97" y="617.9" font-size="21.2" font-family='"Liberation Sans", Arial, Helvetica, sans-serif' text-anchor="middle" font-weight="bold" fill="#1a1a1a">*</text>
<line x1="1808.2" y1="614.3" x2="1816.6" y2="614.3" stroke="#111" stroke-width="3.8"/>
<text x="1821.8" y="621.7" font-size="20.1" font-family='"Liberation Sans", Arial, Helvetica, sans-serif' fill="#1a1a1a">PPARA</text>
<text x="1184.52" y="662.77" font-size="21.2" font-family='"Liberation Sans", Arial, Helvetica, sans-serif' text-anchor="middle" font-weight="bold" fill="#1a1a1a">***</text>
<text x="1433.75" y="662.77" font-size="21.2" font-family='"Liberation Sans", Arial, Helvetica, sans-serif' text-anchor="middle" font-weight="bold" fill="#1a1a1a">***</text>
<text x="1682.97" y="662.77" font-size="21.2" font-family='"Liberation Sans", Arial, Helvetica, sans-serif' text-anchor="middle" font-weight="bold" fill="#1a1a1a">***</text>
<line x1="1808.2" y1="659.17" x2="1816.6" y2="659.17" stroke="#111" stroke-width="3.8"/>
<text x="1821.8" y="666.57" font-size="20.1" font-family='"Liberation Sans", Arial, Helvetica, sans-serif' fill="#1a1a1a">ONECUT1</text>
<text x="1184.52" y="707.64" font-size="21.2" font-family='"Liberation Sans", Arial, Helvetica, sans-serif' text-anchor="middle" font-weight="bold" fill="#1a1a1a">***</text>
<text x="1433.75" y="707.64" font-size="21.2" font-family='"Liberation Sans", Arial, Helvetica, sans-serif' text-anchor="middle" font-weight="bold" fill="#1a1a1a">***</text>
<text x="1682.97" y="707.64" font-size="21.2" font-family='"Liberation Sans", Arial, Helvetica, sans-serif' text-anchor="middle" font-weight="bold" fill="#1a1a1a">***</text>
<line x1="1808.2" y1="704.04" x2="1816.6" y2="704.04" stroke="#111" stroke-width="3.8"/>
<text x="1821.8" y="711.44" font-size="20.1" font-family='"Liberation Sans", Arial, Helvetica, sans-serif' fill="#1a1a1a">HNF4A</text>
<text x="1184.52" y="752.51" font-size="21.2" font-family='"Liberation Sans", Arial, Helvetica, sans-serif' text-anchor="middle" font-weight="bold" fill="#1a1a1a">***</text>
<text x="1433.75" y="752.51" font-size="21.2" font-family='"Liberation Sans", Arial, Helvetica, sans-serif' text-anchor="middle" font-weight="bold" fill="#1a1a1a">***</text>
<text x="1682.97" y="752.51" font-size="21.2" font-family='"Liberation Sans", Arial, Helvetica, sans-serif' text-anchor="middle" font-weight="bold" fill="#1a1a1a">***</text>
<line x1="1808.2" y1="748.91" x2="1816.6" y2="748.91" stroke="#111" stroke-width="3.8"/>
<text x="1821.8" y="756.31" font-size="20.1" font-family='"Liberation Sans", Arial, Helvetica, sans-serif' fill="#1a1a1a">RXRA</text>
<line x1="1808.2" y1="793.78" x2="1816.6" y2="793.78" stroke="#111" stroke-width="3.8"/>
<text x="1821.8" y="801.18" font-size="20.1" font-family='"Liberation Sans", Arial, Helvetica, sans-serif' fill="#1a1a1a">AHR</text>
<text x="1184.52" y="842.25" font-size="21.2" font-family='"Liberation Sans", Arial, Helvetica, sans-serif' text-anchor="middle" font-weight="bold" fill="#1a1a1a">***</text>
<text x="1433.75" y="842.25" font-size="21.2" font-family='"Liberation Sans", Arial, Helvetica, sans-serif' text-anchor="middle" font-weight="bold" fill="#1a1a1a">***</text>
<text x="1682.97" y="842.25" font-size="21.2" font-family='"Liberation Sans", Arial, Helvetica, sans-serif' text-anchor="middle" font-weight="bold" fill="#1a1a1a">***</text>
<line x1="1808.2" y1="838.65" x2="1816.6" y2="838.65" stroke="#111" stroke-width="3.8"/>
<text x="1821.8" y="846.05" font-size="20.1" font-family='"Liberation Sans", Arial, Helvetica, sans-serif' fill="#1a1a1a">FOXA1</text>
<text x="1184.52" y="887.12" font-size="21.2" font-family='"Liberation Sans", Arial, Helvetica, sans-serif' text-anchor="middle" font-weight="bold" fill="#1a1a1a">***</text>
<text x="1433.75" y="887.12" font-size="21.2" font-family='"Liberation Sans", Arial, Helvetica, sans-serif' text-anchor="middle" font-weight="bold" fill="#1a1a1a">***</text>
<text x="1682.97" y="887.12" font-size="21.2" font-family='"Liberation Sans", Arial, Helvetica, sans-serif' text-anchor="middle" font-weight="bold" fill="#1a1a1a">***</text>
<line x1="1808.2" y1="883.52" x2="1816.6" y2="883.52" stroke="#111" stroke-width="3.8"/>
<text x="1821.8" y="890.92" font-size="20.1" font-family='"Liberation Sans", Arial, Helvetica, sans-serif' fill="#1a1a1a">CEBPA</text>
<defs><linearGradient id="gc" x1="0" y1="0" x2="1" y2="0"><stop offset="0%" stop-color="#c8651a"/><stop offset="10%" stop-color="#e88e0c"/><stop offset="20%" stop-color="#fbb85e"/><stop offset="30%" stop-color="#fedda8"/><stop offset="40%" stop-color="#fff6e8"/><stop offset="43%" stop-color="#fefcf8"/><stop offset="50%" stop-color="#f0eff8"/><stop offset="60%" stop-color="#d6d0ec"/><stop offset="70%" stop-color="#b4a6d9"/><stop offset="80%" stop-color="#8d68b8"/><stop offset="87%" stop-color="#66199c"/><stop offset="93%" stop-color="#4a2579"/><stop offset="100%" stop-color="#35185a"/></linearGradient></defs>
<rect x="1636.2" y="55.1" width="171.8" height="25.2" fill="url(#gc)"/>
<line x1="1673.5" y1="47.9" x2="1673.5" y2="55.4" stroke="#111" stroke-width="3.7"/>
<line x1="1721.7" y1="47.9" x2="1721.7" y2="55.4" stroke="#111" stroke-width="3.7"/>
<line x1="1770.4" y1="47.9" x2="1770.4" y2="55.4" stroke="#111" stroke-width="3.7"/>
<text x="1685.8" y="43" font-size="20" font-family='"Liberation Sans", Arial, Helvetica, sans-serif' text-anchor="end" fill="#111">−0.2</text>
<text x="1721.6" y="43" font-size="20" font-family='"Liberation Sans", Arial, Helvetica, sans-serif' text-anchor="middle" fill="#111">0.0</text>
<text x="1769.1" y="43" font-size="20" font-family='"Liberation Sans", Arial, Helvetica, sans-serif' text-anchor="middle" fill="#111">0.2</text>
<text x="1642.6" y="17.5" font-size="23.9" font-family='"Liberation Sans", Arial, Helvetica, sans-serif' fill="#111">log<tspan font-size="14.5" dy="7.6">2</tspan><tspan dy="-7.6">(RNA/DNA)</tspan></text>
<text x="1184.6" y="926" font-size="25" font-family='"Liberation Sans", Arial, Helvetica, sans-serif' text-anchor="middle" fill="#111">Left-most</text>
<text x="1433.5" y="926" font-size="25" font-family='"Liberation Sans", Arial, Helvetica, sans-serif' text-anchor="middle" fill="#111">Central</text>
<text x="1683" y="926" font-size="25" font-family='"Liberation Sans", Arial, Helvetica, sans-serif' text-anchor="middle" fill="#111">Right-most</text>
<line x1="1138" y1="944.8" x2="1220.3" y2="944.8" stroke="#111" stroke-width="1.3"/><circle cx="1151.9" cy="944.8" r="9.6" fill="#f2f2f2" stroke="#111" stroke-width="1.3"/><rect x="1168.2" y="935.2" width="19.2" height="19.2" fill="#f2f2f2" stroke="#111" stroke-width="1.3"/><circle cx="1203.7" cy="944.8" r="9.6" fill="#3f4fa8" stroke="#111" stroke-width="1.3"/><path d="M1220.3 944.8 V935.68 H1221.26" fill="none" stroke="#111" stroke-width="1.3"/><path d="M1221.26 931.65 L1226.06 935.68 L1221.26 939.71Z" fill="#111"/>
<line x1="1138" y1="980" x2="1220.3" y2="980" stroke="#111" stroke-width="1.3"/><rect x="1141.6" y="970.4" width="19.2" height="19.2" fill="#f2f2f2" stroke="#111" stroke-width="1.3"/><circle cx="1176.8" cy="980" r="9.6" fill="#f2f2f2" stroke="#111" stroke-width="1.3"/><circle cx="1202.5" cy="980" r="9.6" fill="#3f4fa8" stroke="#111" stroke-width="1.3"/><path d="M1220.3 980 V970.88 H1221.26" fill="none" stroke="#111" stroke-width="1.3"/><path d="M1221.26 966.85 L1226.06 970.88 L1221.26 974.91Z" fill="#111"/>
<line x1="1387.5" y1="944.8" x2="1468.5" y2="944.8" stroke="#111" stroke-width="1.3"/><rect x="1391.7" y="935.2" width="19.2" height="19.2" fill="#f2f2f2" stroke="#111" stroke-width="1.3"/><circle cx="1425.7" cy="944.8" r="9.6" fill="#3f4fa8" stroke="#111" stroke-width="1.3"/><circle cx="1451.9" cy="944.8" r="9.6" fill="#f2f2f2" stroke="#111" stroke-width="1.3"/><path d="M1468.5 944.8 V935.68 H1469.46" fill="none" stroke="#111" stroke-width="1.3"/><path d="M1469.46 931.65 L1474.26 935.68 L1469.46 939.71Z" fill="#111"/>
<line x1="1387.5" y1="980" x2="1468.5" y2="980" stroke="#111" stroke-width="1.3"/><circle cx="1401.7" cy="980" r="9.6" fill="#f2f2f2" stroke="#111" stroke-width="1.3"/><circle cx="1429" cy="980" r="9.6" fill="#3f4fa8" stroke="#111" stroke-width="1.3"/><rect x="1443.3" y="970.4" width="19.2" height="19.2" fill="#f2f2f2" stroke="#111" stroke-width="1.3"/><path d="M1468.5 980 V970.88 H1469.46" fill="none" stroke="#111" stroke-width="1.3"/><path d="M1469.46 966.85 L1474.26 970.88 L1469.46 974.91Z" fill="#111"/>
<line x1="1640.7" y1="944.8" x2="1719.5" y2="944.8" stroke="#111" stroke-width="1.3"/><circle cx="1651.9" cy="944.8" r="9.6" fill="#3f4fa8" stroke="#111" stroke-width="1.3"/><rect x="1668.9" y="935.2" width="19.2" height="19.2" fill="#f2f2f2" stroke="#111" stroke-width="1.3"/><circle cx="1703.7" cy="944.8" r="9.6" fill="#f2f2f2" stroke="#111" stroke-width="1.3"/><path d="M1719.5 944.8 V935.68 H1720.46" fill="none" stroke="#111" stroke-width="1.3"/><path d="M1720.46 931.65 L1725.26 935.68 L1720.46 939.71Z" fill="#111"/>
<line x1="1640.7" y1="980" x2="1719.5" y2="980" stroke="#111" stroke-width="1.3"/><circle cx="1651.9" cy="980" r="9.6" fill="#3f4fa8" stroke="#111" stroke-width="1.3"/><circle cx="1677.6" cy="980" r="9.6" fill="#f2f2f2" stroke="#111" stroke-width="1.3"/><rect x="1694.1" y="970.4" width="19.2" height="19.2" fill="#f2f2f2" stroke="#111" stroke-width="1.3"/><path d="M1719.5 980 V970.88 H1720.46" fill="none" stroke="#111" stroke-width="1.3"/><path d="M1720.46 966.85 L1725.26 970.88 L1720.46 974.91Z" fill="#111"/>
</g>
<g id="panel_d">
<text x="11" y="1020" font-size="38" font-family='"Liberation Sans", Arial, Helvetica, sans-serif' font-weight="bold" fill="#111">d</text>
<rect x="47.1" y="1057.8" width="249.03" height="45.37" fill="#8fb1bd"/>
<rect x="295.53" y="1057.8" width="249.03" height="45.37" fill="#93b4bf"/>
<rect x="543.96" y="1057.8" width="249.03" height="45.37" fill="#b1c9d3"/>
<rect x="47.1" y="1102.57" width="249.03" height="45.37" fill="#81a7b5"/>
<rect x="295.53" y="1102.57" width="249.03" height="45.37" fill="#8aaeba"/>
<rect x="543.96" y="1102.57" width="249.03" height="45.37" fill="#93b4bf"/>
<rect x="47.1" y="1147.34" width="249.03" height="45.37" fill="#d3e3ea"/>
<rect x="295.53" y="1147.34" width="249.03" height="45.37" fill="#c2d6e0"/>
<rect x="543.96" y="1147.34" width="249.03" height="45.37" fill="#c4d8e1"/>
<rect x="47.1" y="1192.11" width="249.03" height="45.37" fill="#dbe8ee"/>
<rect x="295.53" y="1192.11" width="249.03" height="45.37" fill="#e6f1f5"/>
<rect x="543.96" y="1192.11" width="249.03" height="45.37" fill="#dbe8ee"/>
<rect x="47.1" y="1236.88" width="249.03" height="45.37" fill="#edf5f8"/>
<rect x="295.53" y="1236.88" width="249.03" height="45.37" fill="#e4f0f4"/>
<rect x="543.96" y="1236.88" width="249.03" height="45.37" fill="#eef6f8"/>
<rect x="47.1" y="1281.65" width="249.03" height="45.37" fill="#ecf5f8"/>
<rect x="295.53" y="1281.65" width="249.03" height="45.37" fill="#eaf3f6"/>
<rect x="543.96" y="1281.65" width="249.03" height="45.37" fill="#edf5f7"/>
<rect x="47.1" y="1326.42" width="249.03" height="45.37" fill="#e6eff6"/>
<rect x="295.53" y="1326.42" width="249.03" height="45.37" fill="#e2eef3"/>
<rect x="543.96" y="1326.42" width="249.03" height="45.37" fill="#f9f9f9"/>
<rect x="47.1" y="1371.19" width="249.03" height="45.37" fill="#e3eff5"/>
<rect x="295.53" y="1371.19" width="249.03" height="45.37" fill="#eef6f8"/>
<rect x="543.96" y="1371.19" width="249.03" height="45.37" fill="#f6fafb"/>
<rect x="47.1" y="1415.96" width="249.03" height="45.37" fill="#fdf2f0"/>
<rect x="295.53" y="1415.96" width="249.03" height="45.37" fill="#e9f3f7"/>
<rect x="543.96" y="1415.96" width="249.03" height="45.37" fill="#f5f9fa"/>
<rect x="47.1" y="1460.73" width="249.03" height="45.37" fill="#f9f9f9"/>
<rect x="295.53" y="1460.73" width="249.03" height="45.37" fill="#f9f9f9"/>
<rect x="543.96" y="1460.73" width="249.03" height="45.37" fill="#f9f9f9"/>
<rect x="47.1" y="1505.5" width="249.03" height="45.37" fill="#f9f9f9"/>
<rect x="295.53" y="1505.5" width="249.03" height="45.37" fill="#f9f9f9"/>
<rect x="543.96" y="1505.5" width="249.03" height="45.37" fill="#f9f9f9"/>
<rect x="47.1" y="1550.27" width="249.03" height="45.37" fill="#fbe6e2"/>
<rect x="295.53" y="1550.27" width="249.03" height="45.37" fill="#f9f9f9"/>
<rect x="543.96" y="1550.27" width="249.03" height="45.37" fill="#fbe7e4"/>
<rect x="47.1" y="1595.04" width="249.03" height="45.37" fill="#f9f9f9"/>
<rect x="295.53" y="1595.04" width="249.03" height="45.37" fill="#fdeeeb"/>
<rect x="543.96" y="1595.04" width="249.03" height="45.37" fill="#f6d6cd"/>
<rect x="47.1" y="1639.81" width="249.03" height="45.37" fill="#ebb5a8"/>
<rect x="295.53" y="1639.81" width="249.03" height="45.37" fill="#efc2b8"/>
<rect x="543.96" y="1639.81" width="249.03" height="45.37" fill="#f5d4cb"/>
<rect x="47.1" y="1684.58" width="249.03" height="45.37" fill="#f5d3ca"/>
<rect x="295.53" y="1684.58" width="249.03" height="45.37" fill="#fadfd9"/>
<rect x="543.96" y="1684.58" width="249.03" height="45.37" fill="#fbe0db"/>
<rect x="47.1" y="1729.35" width="249.03" height="45.37" fill="#efc0b5"/>
<rect x="295.53" y="1729.35" width="249.03" height="45.37" fill="#f9dcd7"/>
<rect x="543.96" y="1729.35" width="249.03" height="45.37" fill="#f6d8cf"/>
<rect x="47.1" y="1774.12" width="249.03" height="45.37" fill="#df8e7a"/>
<rect x="295.53" y="1774.12" width="249.03" height="45.37" fill="#e3a391"/>
<rect x="543.96" y="1774.12" width="249.03" height="45.37" fill="#efc1b5"/>
<rect x="47.1" y="1818.89" width="249.03" height="45.37" fill="#c35233"/>
<rect x="295.53" y="1818.89" width="249.03" height="45.37" fill="#e7a797"/>
<rect x="543.96" y="1818.89" width="249.03" height="45.37" fill="#e49f8d"/>
<text x="171.62" y="1084.08" font-size="21.2" font-family='"Liberation Sans", Arial, Helvetica, sans-serif' text-anchor="middle" font-weight="bold" fill="#fff">***</text>
<text x="420.04" y="1084.08" font-size="21.2" font-family='"Liberation Sans", Arial, Helvetica, sans-serif' text-anchor="middle" font-weight="bold" fill="#fff">***</text>
<text x="668.48" y="1084.08" font-size="21.2" font-family='"Liberation Sans", Arial, Helvetica, sans-serif' text-anchor="middle" font-weight="bold" fill="#1a1a1a">***</text>
<line x1="793.2" y1="1080.48" x2="801.6" y2="1080.48" stroke="#111" stroke-width="3.8"/>
<text x="806.8" y="1087.88" font-size="20.1" font-family='"Liberation Sans", Arial, Helvetica, sans-serif' fill="#1a1a1a">SP1</text>
<text x="171.62" y="1128.85" font-size="21.2" font-family='"Liberation Sans", Arial, Helvetica, sans-serif' text-anchor="middle" font-weight="bold" fill="#fff">***</text>
<text x="420.04" y="1128.85" font-size="21.2" font-family='"Liberation Sans", Arial, Helvetica, sans-serif' text-anchor="middle" font-weight="bold" fill="#fff">***</text>
<text x="668.48" y="1128.85" font-size="21.2" font-family='"Liberation Sans", Arial, Helvetica, sans-serif' text-anchor="middle" font-weight="bold" fill="#fff">***</text>
<line x1="793.2" y1="1125.25" x2="801.6" y2="1125.25" stroke="#111" stroke-width="3.8"/>
<text x="806.8" y="1132.65" font-size="20.1" font-family='"Liberation Sans", Arial, Helvetica, sans-serif' fill="#1a1a1a">NR2F2</text>
<text x="171.62" y="1173.62" font-size="21.2" font-family='"Liberation Sans", Arial, Helvetica, sans-serif' text-anchor="middle" font-weight="bold" fill="#1a1a1a">***</text>
<text x="420.04" y="1173.62" font-size="21.2" font-family='"Liberation Sans", Arial, Helvetica, sans-serif' text-anchor="middle" font-weight="bold" fill="#1a1a1a">***</text>
<text x="668.48" y="1173.62" font-size="21.2" font-family='"Liberation Sans", Arial, Helvetica, sans-serif' text-anchor="middle" font-weight="bold" fill="#1a1a1a">***</text>
<line x1="793.2" y1="1170.02" x2="801.6" y2="1170.02" stroke="#111" stroke-width="3.8"/>
<text x="806.8" y="1177.42" font-size="20.1" font-family='"Liberation Sans", Arial, Helvetica, sans-serif' fill="#1a1a1a">ONECUT1</text>
<text x="171.62" y="1218.39" font-size="21.2" font-family='"Liberation Sans", Arial, Helvetica, sans-serif' text-anchor="middle" font-weight="bold" fill="#1a1a1a">***</text>
<text x="420.04" y="1218.39" font-size="21.2" font-family='"Liberation Sans", Arial, Helvetica, sans-serif' text-anchor="middle" font-weight="bold" fill="#1a1a1a">***</text>
<text x="668.48" y="1218.39" font-size="21.2" font-family='"Liberation Sans", Arial, Helvetica, sans-serif' text-anchor="middle" font-weight="bold" fill="#1a1a1a">***</text>
<line x1="793.2" y1="1214.79" x2="801.6" y2="1214.79" stroke="#111" stroke-width="3.8"/>
<text x="806.8" y="1222.19" font-size="20.1" font-family='"Liberation Sans", Arial, Helvetica, sans-serif' fill="#1a1a1a">GABPA</text>
<text x="171.62" y="1263.16" font-size="21.2" font-family='"Liberation Sans", Arial, Helvetica, sans-serif' text-anchor="middle" font-weight="bold" fill="#1a1a1a">**</text>
<text x="420.04" y="1263.16" font-size="21.2" font-family='"Liberation Sans", Arial, Helvetica, sans-serif' text-anchor="middle" font-weight="bold" fill="#1a1a1a">***</text>
<text x="668.48" y="1263.16" font-size="21.2" font-family='"Liberation Sans", Arial, Helvetica, sans-serif' text-anchor="middle" font-weight="bold" fill="#1a1a1a">***</text>
<line x1="793.2" y1="1259.56" x2="801.6" y2="1259.56" stroke="#111" stroke-width="3.8"/>
<text x="806.8" y="1266.96" font-size="20.1" font-family='"Liberation Sans", Arial, Helvetica, sans-serif' fill="#1a1a1a">YY1</text>
<text x="171.62" y="1307.93" font-size="21.2" font-family='"Liberation Sans", Arial, Helvetica, sans-serif' text-anchor="middle" font-weight="bold" fill="#1a1a1a">***</text>
<text x="420.04" y="1307.93" font-size="21.2" font-family='"Liberation Sans", Arial, Helvetica, sans-serif' text-anchor="middle" font-weight="bold" fill="#1a1a1a">***</text>
<line x1="793.2" y1="1304.33" x2="801.6" y2="1304.33" stroke="#111" stroke-width="3.8"/>
<text x="806.8" y="1311.73" font-size="20.1" font-family='"Liberation Sans", Arial, Helvetica, sans-serif' fill="#1a1a1a">HNF1A</text>
<text x="171.62" y="1352.7" font-size="21.2" font-family='"Liberation Sans", Arial, Helvetica, sans-serif' text-anchor="middle" font-weight="bold" fill="#1a1a1a">***</text>
<text x="420.04" y="1352.7" font-size="21.2" font-family='"Liberation Sans", Arial, Helvetica, sans-serif' text-anchor="middle" font-weight="bold" fill="#1a1a1a">***</text>
<line x1="793.2" y1="1349.1" x2="801.6" y2="1349.1" stroke="#111" stroke-width="3.8"/>
<text x="806.8" y="1356.5" font-size="20.1" font-family='"Liberation Sans", Arial, Helvetica, sans-serif' fill="#1a1a1a">AP1</text>
<text x="171.62" y="1397.47" font-size="21.2" font-family='"Liberation Sans", Arial, Helvetica, sans-serif' text-anchor="middle" font-weight="bold" fill="#1a1a1a">***</text>
<text x="420.04" y="1397.47" font-size="21.2" font-family='"Liberation Sans", Arial, Helvetica, sans-serif' text-anchor="middle" font-weight="bold" fill="#1a1a1a">**</text>
<line x1="793.2" y1="1393.88" x2="801.6" y2="1393.88" stroke="#111" stroke-width="3.8"/>
<text x="806.8" y="1401.28" font-size="20.1" font-family='"Liberation Sans", Arial, Helvetica, sans-serif' fill="#1a1a1a">TFAP2C</text>
<text x="420.04" y="1442.24" font-size="21.2" font-family='"Liberation Sans", Arial, Helvetica, sans-serif' text-anchor="middle" font-weight="bold" fill="#1a1a1a">***</text>
<line x1="793.2" y1="1438.64" x2="801.6" y2="1438.64" stroke="#111" stroke-width="3.8"/>
<text x="806.8" y="1446.05" font-size="20.1" font-family='"Liberation Sans", Arial, Helvetica, sans-serif' fill="#1a1a1a">CEBPA</text>
<line x1="793.2" y1="1483.41" x2="801.6" y2="1483.41" stroke="#111" stroke-width="3.8"/>
<text x="806.8" y="1490.82" font-size="20.1" font-family='"Liberation Sans", Arial, Helvetica, sans-serif' fill="#1a1a1a">CREB1</text>
<line x1="793.2" y1="1528.18" x2="801.6" y2="1528.18" stroke="#111" stroke-width="3.8"/>
<text x="806.8" y="1535.59" font-size="20.1" font-family='"Liberation Sans", Arial, Helvetica, sans-serif' fill="#1a1a1a">AHR</text>
<text x="171.62" y="1576.55" font-size="21.2" font-family='"Liberation Sans", Arial, Helvetica, sans-serif' text-anchor="middle" font-weight="bold" fill="#1a1a1a">***</text>
<text x="420.04" y="1576.55" font-size="21.2" font-family='"Liberation Sans", Arial, Helvetica, sans-serif' text-anchor="middle" font-weight="bold" fill="#1a1a1a">*</text>
<text x="668.48" y="1576.55" font-size="21.2" font-family='"Liberation Sans", Arial, Helvetica, sans-serif' text-anchor="middle" font-weight="bold" fill="#1a1a1a">***</text>
<line x1="793.2" y1="1572.95" x2="801.6" y2="1572.95" stroke="#111" stroke-width="3.8"/>
<text x="806.8" y="1580.36" font-size="20.1" font-family='"Liberation Sans", Arial, Helvetica, sans-serif' fill="#1a1a1a">RXRA</text>
<text x="668.48" y="1621.32" font-size="21.2" font-family='"Liberation Sans", Arial, Helvetica, sans-serif' text-anchor="middle" font-weight="bold" fill="#1a1a1a">***</text>
<line x1="793.2" y1="1617.72" x2="801.6" y2="1617.72" stroke="#111" stroke-width="3.8"/>
<text x="806.8" y="1625.12" font-size="20.1" font-family='"Liberation Sans", Arial, Helvetica, sans-serif' fill="#1a1a1a">CTCF</text>
<text x="171.62" y="1666.09" font-size="21.2" font-family='"Liberation Sans", Arial, Helvetica, sans-serif' text-anchor="middle" font-weight="bold" fill="#1a1a1a">***</text>
<text x="420.04" y="1666.09" font-size="21.2" font-family='"Liberation Sans", Arial, Helvetica, sans-serif' text-anchor="middle" font-weight="bold" fill="#1a1a1a">***</text>
<text x="668.48" y="1666.09" font-size="21.2" font-family='"Liberation Sans", Arial, Helvetica, sans-serif' text-anchor="middle" font-weight="bold" fill="#1a1a1a">***</text>
<line x1="793.2" y1="1662.49" x2="801.6" y2="1662.49" stroke="#111" stroke-width="3.8"/>
<text x="806.8" y="1669.89" font-size="20.1" font-family='"Liberation Sans", Arial, Helvetica, sans-serif' fill="#1a1a1a">FOXA1</text>
<text x="171.62" y="1710.87" font-size="21.2" font-family='"Liberation Sans", Arial, Helvetica, sans-serif' text-anchor="middle" font-weight="bold" fill="#1a1a1a">***</text>
<text x="420.04" y="1710.87" font-size="21.2" font-family='"Liberation Sans", Arial, Helvetica, sans-serif' text-anchor="middle" font-weight="bold" fill="#1a1a1a">***</text>
<text x="668.48" y="1710.87" font-size="21.2" font-family='"Liberation Sans", Arial, Helvetica, sans-serif' text-anchor="middle" font-weight="bold" fill="#1a1a1a">***</text>
<line x1="793.2" y1="1707.27" x2="801.6" y2="1707.27" stroke="#111" stroke-width="3.8"/>
<text x="806.8" y="1714.67" font-size="20.1" font-family='"Liberation Sans", Arial, Helvetica, sans-serif' fill="#1a1a1a">HNF4A</text>
<text x="171.62" y="1755.63" font-size="21.2" font-family='"Liberation Sans", Arial, Helvetica, sans-serif' text-anchor="middle" font-weight="bold" fill="#1a1a1a">***</text>
<text x="420.04" y="1755.63" font-size="21.2" font-family='"Liberation Sans", Arial, Helvetica, sans-serif' text-anchor="middle" font-weight="bold" fill="#1a1a1a">***</text>
<text x="668.48" y="1755.63" font-size="21.2" font-family='"Liberation Sans", Arial, Helvetica, sans-serif' text-anchor="middle" font-weight="bold" fill="#1a1a1a">***</text>
<line x1="793.2" y1="1752.04" x2="801.6" y2="1752.04" stroke="#111" stroke-width="3.8"/>
<text x="806.8" y="1759.44" font-size="20.1" font-family='"Liberation Sans", Arial, Helvetica, sans-serif' fill="#1a1a1a">XBP1</text>
<text x="171.62" y="1800.4" font-size="21.2" font-family='"Liberation Sans", Arial, Helvetica, sans-serif' text-anchor="middle" font-weight="bold" fill="#fff">***</text>
<text x="420.04" y="1800.4" font-size="21.2" font-family='"Liberation Sans", Arial, Helvetica, sans-serif' text-anchor="middle" font-weight="bold" fill="#fff">***</text>
<text x="668.48" y="1800.4" font-size="21.2" font-family='"Liberation Sans", Arial, Helvetica, sans-serif' text-anchor="middle" font-weight="bold" fill="#1a1a1a">***</text>
<line x1="793.2" y1="1796.81" x2="801.6" y2="1796.81" stroke="#111" stroke-width="3.8"/>
<text x="806.8" y="1804.21" font-size="20.1" font-family='"Liberation Sans", Arial, Helvetica, sans-serif' fill="#1a1a1a">REST</text>
<text x="171.62" y="1845.17" font-size="21.2" font-family='"Liberation Sans", Arial, Helvetica, sans-serif' text-anchor="middle" font-weight="bold" fill="#fff">***</text>
<text x="420.04" y="1845.17" font-size="21.2" font-family='"Liberation Sans", Arial, Helvetica, sans-serif' text-anchor="middle" font-weight="bold" fill="#1a1a1a">***</text>
<text x="668.48" y="1845.17" font-size="21.2" font-family='"Liberation Sans", Arial, Helvetica, sans-serif' text-anchor="middle" font-weight="bold" fill="#fff">***</text>
<line x1="793.2" y1="1841.58" x2="801.6" y2="1841.58" stroke="#111" stroke-width="3.8"/>
<text x="806.8" y="1848.98" font-size="20.1" font-family='"Liberation Sans", Arial, Helvetica, sans-serif' fill="#1a1a1a">PPARA</text>
<defs><linearGradient id="gd" x1="0" y1="0" x2="1" y2="0"><stop offset="0%" stop-color="#7fa6b6"/><stop offset="10%" stop-color="#9fbecb"/><stop offset="20%" stop-color="#bdd3dc"/><stop offset="30%" stop-color="#dbe9ef"/><stop offset="40%" stop-color="#f4f9fb"/><stop offset="43%" stop-color="#fdfdfd"/><stop offset="50%" stop-color="#fbe5e0"/><stop offset="60%" stop-color="#f3c5bb"/><stop offset="70%" stop-color="#eaa798"/><stop offset="80%" stop-color="#e08a76"/><stop offset="90%" stop-color="#d26c53"/><stop offset="100%" stop-color="#c04e30"/></linearGradient></defs>
<rect x="575" y="1034.4" width="217" height="16.5" fill="url(#gd)"/>
<line x1="617.8" y1="1025.5" x2="617.8" y2="1034.7" stroke="#111" stroke-width="3.7"/>
<line x1="702.9" y1="1025.5" x2="702.9" y2="1034.7" stroke="#111" stroke-width="3.7"/>
<line x1="787" y1="1025.5" x2="787" y2="1034.7" stroke="#111" stroke-width="3.7"/>
<text x="632.2" y="1019.2" font-size="21.9" font-family='"Liberation Sans", Arial, Helvetica, sans-serif' text-anchor="end" fill="#111">−0.2</text>
<text x="702.8" y="1019.2" font-size="21.9" font-family='"Liberation Sans", Arial, Helvetica, sans-serif' text-anchor="middle" fill="#111">0.0</text>
<text x="787.4" y="1019.2" font-size="21.9" font-family='"Liberation Sans", Arial, Helvetica, sans-serif' text-anchor="middle" fill="#111">0.2</text>
<text x="685" y="995.1" font-size="23.9" font-family='"Liberation Sans", Arial, Helvetica, sans-serif' text-anchor="middle" fill="#111">Strand Asymmetry</text>
<text x="171" y="1887.2" font-size="25" font-family='"Liberation Sans", Arial, Helvetica, sans-serif' text-anchor="middle" fill="#111">Left-most</text>
<text x="419.6" y="1887.2" font-size="25" font-family='"Liberation Sans", Arial, Helvetica, sans-serif' text-anchor="middle" fill="#111">Central</text>
<text x="668" y="1887.2" font-size="25" font-family='"Liberation Sans", Arial, Helvetica, sans-serif' text-anchor="middle" fill="#111">Right-most</text>
<line x1="132.3" y1="1901.9" x2="200" y2="1901.9" stroke="#111" stroke-width="1.2"/><circle cx="147.3" cy="1901.9" r="8" fill="#3f4fa8" stroke="#111" stroke-width="1.2"/><rect x="157.9" y="1893.9" width="16" height="16" fill="#f2f2f2" stroke="#111" stroke-width="1.2"/><circle cx="185.4" cy="1901.9" r="8" fill="#f2f2f2" stroke="#111" stroke-width="1.2"/><path d="M200 1901.9 V1894.3 H200.8" fill="none" stroke="#111" stroke-width="1.2"/><path d="M200.8 1890.94 L204.8 1894.3 L200.8 1897.66Z" fill="#111"/>
<line x1="132.3" y1="1919.3" x2="200" y2="1919.3" stroke="#6b6b6b" stroke-width="1.2"/>
<line x1="132.3" y1="1938.8" x2="200" y2="1938.8" stroke="#111" stroke-width="1.2"/><rect x="157.9" y="1930.8" width="16" height="16" fill="#f2f2f2" stroke="#111" stroke-width="1.2"/><circle cx="185.4" cy="1938.8" r="8" fill="#f2f2f2" stroke="#111" stroke-width="1.2"/><path d="M200 1938.8 V1931.2 H200.8" fill="none" stroke="#111" stroke-width="1.2"/><path d="M200.8 1927.84 L204.8 1931.2 L200.8 1934.56Z" fill="#111"/>
<line x1="132.3" y1="1956.7" x2="200" y2="1956.7" stroke="#6b6b6b" stroke-width="1.2"/><circle cx="147.3" cy="1956.7" r="8" fill="#3f4fa8" stroke="#111" stroke-width="1.2"/>
<line x1="385" y1="1901.9" x2="453" y2="1901.9" stroke="#111" stroke-width="1.2"/><rect x="392.2" y="1893.9" width="16" height="16" fill="#f2f2f2" stroke="#111" stroke-width="1.2"/><circle cx="419" cy="1901.9" r="8" fill="#3f4fa8" stroke="#111" stroke-width="1.2"/><circle cx="437.7" cy="1901.9" r="8" fill="#f2f2f2" stroke="#111" stroke-width="1.2"/><path d="M453 1901.9 V1894.3 H453.8" fill="none" stroke="#111" stroke-width="1.2"/><path d="M453.8 1890.94 L457.8 1894.3 L453.8 1897.66Z" fill="#111"/>
<line x1="385" y1="1919.3" x2="453" y2="1919.3" stroke="#6b6b6b" stroke-width="1.2"/>
<line x1="385" y1="1938.8" x2="453" y2="1938.8" stroke="#111" stroke-width="1.2"/><rect x="392.2" y="1930.8" width="16" height="16" fill="#f2f2f2" stroke="#111" stroke-width="1.2"/><circle cx="437.7" cy="1938.8" r="8" fill="#f2f2f2" stroke="#111" stroke-width="1.2"/><path d="M453 1938.8 V1931.2 H453.8" fill="none" stroke="#111" stroke-width="1.2"/><path d="M453.8 1927.84 L457.8 1931.2 L453.8 1934.56Z" fill="#111"/>
<line x1="385" y1="1956.7" x2="453" y2="1956.7" stroke="#6b6b6b" stroke-width="1.2"/><circle cx="419" cy="1956.7" r="8" fill="#3f4fa8" stroke="#111" stroke-width="1.2"/>
<line x1="636.5" y1="1901.9" x2="704" y2="1901.9" stroke="#111" stroke-width="1.2"/><rect x="643.2" y="1893.9" width="16" height="16" fill="#f2f2f2" stroke="#111" stroke-width="1.2"/><circle cx="671" cy="1901.9" r="8" fill="#f2f2f2" stroke="#111" stroke-width="1.2"/><circle cx="689.6" cy="1901.9" r="8" fill="#3f4fa8" stroke="#111" stroke-width="1.2"/><path d="M704 1901.9 V1894.3 H704.8" fill="none" stroke="#111" stroke-width="1.2"/><path d="M704.8 1890.94 L708.8 1894.3 L704.8 1897.66Z" fill="#111"/>
<line x1="636.5" y1="1919.3" x2="704" y2="1919.3" stroke="#6b6b6b" stroke-width="1.2"/>
<line x1="636.5" y1="1938.8" x2="704" y2="1938.8" stroke="#111" stroke-width="1.2"/><rect x="643.2" y="1930.8" width="16" height="16" fill="#f2f2f2" stroke="#111" stroke-width="1.2"/><circle cx="671" cy="1938.8" r="8" fill="#f2f2f2" stroke="#111" stroke-width="1.2"/><path d="M704 1938.8 V1931.2 H704.8" fill="none" stroke="#111" stroke-width="1.2"/><path d="M704.8 1927.84 L708.8 1931.2 L704.8 1934.56Z" fill="#111"/>
<line x1="636.5" y1="1956.7" x2="704" y2="1956.7" stroke="#6b6b6b" stroke-width="1.2"/><circle cx="689.6" cy="1956.7" r="8" fill="#3f4fa8" stroke="#111" stroke-width="1.2"/>
</g>
<g id="panel_e">
<text x="949.5" y="1018.5" font-size="38" font-family='"Liberation Sans", Arial, Helvetica, sans-serif' font-weight="bold" fill="#111">e</text>
<line x1="1136.35" y1="1023.9" x2="1136.35" y2="1882.2" stroke="#f0f0f0" stroke-width="1.6"/><line x1="1286.65" y1="1023.9" x2="1286.65" y2="1882.2" stroke="#f0f0f0" stroke-width="1.6"/><line x1="1436.95" y1="1023.9" x2="1436.95" y2="1882.2" stroke="#f0f0f0" stroke-width="1.6"/><line x1="1587.25" y1="1023.9" x2="1587.25" y2="1882.2" stroke="#f0f0f0" stroke-width="1.6"/><line x1="1737.55" y1="1023.9" x2="1737.55" y2="1882.2" stroke="#f0f0f0" stroke-width="1.6"/><line x1="1025.4" y1="1745.53" x2="1849.6" y2="1745.53" stroke="#f0f0f0" stroke-width="1.6"/><line x1="1025.4" y1="1548.18" x2="1849.6" y2="1548.18" stroke="#f0f0f0" stroke-width="1.6"/><line x1="1025.4" y1="1350.83" x2="1849.6" y2="1350.83" stroke="#f0f0f0" stroke-width="1.6"/><line x1="1025.4" y1="1153.47" x2="1849.6" y2="1153.47" stroke="#f0f0f0" stroke-width="1.6"/><line x1="1061.2" y1="1023.9" x2="1061.2" y2="1882.2" stroke="#ebebeb" stroke-width="3.3"/><line x1="1211.5" y1="1023.9" x2="1211.5" y2="1882.2" stroke="#ebebeb" stroke-width="3.3"/><line x1="1361.8" y1="1023.9" x2="1361.8" y2="1882.2" stroke="#ebebeb" stroke-width="3.3"/><line x1="1512.1" y1="1023.9" x2="1512.1" y2="1882.2" stroke="#ebebeb" stroke-width="3.3"/><line x1="1662.4" y1="1023.9" x2="1662.4" y2="1882.2" stroke="#ebebeb" stroke-width="3.3"/><line x1="1812.7" y1="1023.9" x2="1812.7" y2="1882.2" stroke="#ebebeb" stroke-width="3.3"/><line x1="1025.4" y1="1844.2" x2="1849.6" y2="1844.2" stroke="#ebebeb" stroke-width="3.3"/><line x1="1025.4" y1="1646.85" x2="1849.6" y2="1646.85" stroke="#ebebeb" stroke-width="3.3"/><line x1="1025.4" y1="1449.5" x2="1849.6" y2="1449.5" stroke="#ebebeb" stroke-width="3.3"/><line x1="1025.4" y1="1252.15" x2="1849.6" y2="1252.15" stroke="#ebebeb" stroke-width="3.3"/><line x1="1025.4" y1="1054.8" x2="1849.6" y2="1054.8" stroke="#ebebeb" stroke-width="3.3"/>
<line x1="1061.2" y1="1844.2" x2="1276.13" y2="1844.2" stroke="#050505" stroke-width="8" stroke-linecap="round"/>
<g fill="#000" fill-opacity="0.3"><circle cx="1484.6" cy="1672.37" r="4.1"/><circle cx="1486.7" cy="1688.37" r="4.1"/><circle cx="1511.95" cy="1679.11" r="4.1"/><circle cx="1520.37" cy="1667.74" r="4.1"/><circle cx="1554.88" cy="1659.33" r="4.1"/><circle cx="1584.34" cy="1649.65" r="4.1"/><circle cx="1602.44" cy="1660.17" r="4.1"/><circle cx="1555.72" cy="1683.74" r="4.1"/><circle cx="1586.45" cy="1691.31" r="4.1"/><circle cx="1599.49" cy="1697.21" r="4.1"/><circle cx="1605.39" cy="1707.31" r="4.1"/><circle cx="1636.95" cy="1709.83" r="4.1"/><circle cx="1658" cy="1691.31" r="4.1"/><circle cx="1716.08" cy="1691.73" r="4.1"/><circle cx="1749.33" cy="1658.06" r="4.1"/><circle cx="1797.73" cy="1658.91" r="4.1"/><circle cx="1773.74" cy="1712.36" r="4.1"/><circle cx="1497.64" cy="1713.62" r="4.1"/><circle cx="1494.28" cy="1719.93" r="4.1"/><circle cx="1530.05" cy="1719.93" r="4.1"/><circle cx="1553.62" cy="1720.77" r="4.1"/><circle cx="1525.84" cy="1729.19" r="4.1"/><circle cx="1530.05" cy="1735.93" r="4.1"/><circle cx="1546.04" cy="1733.4" r="4.1"/><circle cx="1595.29" cy="1723.3" r="4.1"/><circle cx="1596.13" cy="1734.66" r="4.1"/><circle cx="1651.26" cy="1743.08" r="4.1"/><circle cx="1706.4" cy="1747.71" r="4.1"/><circle cx="1681.57" cy="1764.12" r="4.1"/><circle cx="1498.91" cy="1759.07" r="4.1"/><circle cx="1549.83" cy="1753.6" r="4.1"/><circle cx="1527.95" cy="1764.97" r="4.1"/><circle cx="1542.26" cy="1765.39" r="4.1"/><circle cx="1562.88" cy="1771.28" r="4.1"/><circle cx="1541.84" cy="1793.59" r="4.1"/><circle cx="1498.48" cy="1807.05" r="4.1"/><circle cx="1543.1" cy="1820.1" r="4.1"/><circle cx="1458.5" cy="1844.09" r="4.1"/><circle cx="1437.46" cy="1831.89" r="4.1"/><circle cx="1431.14" cy="1841.99" r="4.1"/><circle cx="1425.67" cy="1835.67" r="4.1"/><circle cx="1423.57" cy="1829.36" r="4.1"/><circle cx="1419.36" cy="1821.78" r="4.1"/><circle cx="1240.91" cy="1708.15" r="4.1"/><circle cx="1258.16" cy="1734.24" r="4.1"/><circle cx="1213.97" cy="1770.44" r="4.1"/><circle cx="1231.23" cy="1770.44" r="4.1"/><circle cx="1203.45" cy="1794.43" r="4.1"/><circle cx="1285.1" cy="1681.63" r="4.1"/><circle cx="1296.04" cy="1674.48" r="4.1"/><circle cx="1304.88" cy="1668.59" r="4.1"/><circle cx="1305.72" cy="1676.58" r="4.1"/><circle cx="1301.94" cy="1692.58" r="4.1"/><circle cx="1314.14" cy="1698.89" r="4.1"/><circle cx="1305.3" cy="1709.83" r="4.1"/><circle cx="1312.46" cy="1719.93" r="4.1"/><circle cx="1344.44" cy="1668.16" r="4.1"/><circle cx="1357.07" cy="1673.64" r="4.1"/><circle cx="1361.28" cy="1674.9" r="4.1"/><circle cx="1342.76" cy="1684.16" r="4.1"/><circle cx="1358.75" cy="1682.9" r="4.1"/><circle cx="1388.64" cy="1663.96" r="4.1"/><circle cx="1388.64" cy="1670.27" r="4.1"/><circle cx="1405.47" cy="1670.69" r="4.1"/><circle cx="1420.62" cy="1668.59" r="4.1"/><circle cx="1436.62" cy="1661.01" r="4.1"/><circle cx="1449.24" cy="1658.91" r="4.1"/><circle cx="1409.68" cy="1648.8" r="4.1"/><circle cx="1422.73" cy="1648.8" r="4.1"/><circle cx="1466.5" cy="1646.7" r="4.1"/><circle cx="1465.66" cy="1668.16" r="4.1"/><circle cx="1476.6" cy="1667.32" r="4.1"/><circle cx="1454.71" cy="1682.05" r="4.1"/><circle cx="1461.45" cy="1685.84" r="4.1"/><circle cx="1453.03" cy="1693.84" r="4.1"/><circle cx="1470.71" cy="1691.31" r="4.1"/><circle cx="1477.86" cy="1701.41" r="4.1"/><circle cx="1410.1" cy="1681.21" r="4.1"/><circle cx="1398.32" cy="1685" r="4.1"/><circle cx="1388.64" cy="1685.42" r="4.1"/><circle cx="1399.58" cy="1688.37" r="4.1"/><circle cx="1405.47" cy="1693.84" r="4.1"/><circle cx="1375.17" cy="1698.05" r="4.1"/><circle cx="1342.34" cy="1697.63" r="4.1"/><circle cx="1340.66" cy="1703.1" r="4.1"/><circle cx="1335.19" cy="1712.36" r="4.1"/><circle cx="1359.18" cy="1700.99" r="4.1"/><circle cx="1364.23" cy="1703.94" r="4.1"/><circle cx="1354.97" cy="1713.62" r="4.1"/><circle cx="1356.65" cy="1716.99" r="4.1"/><circle cx="1374.33" cy="1710.67" r="4.1"/><circle cx="1384.43" cy="1719.09" r="4.1"/><circle cx="1380.64" cy="1723.3" r="4.1"/><circle cx="1377.27" cy="1728.35" r="4.1"/><circle cx="1395.79" cy="1703.1" r="4.1"/><circle cx="1410.94" cy="1707.31" r="4.1"/><circle cx="1427.78" cy="1705.2" r="4.1"/><circle cx="1431.14" cy="1706.46" r="4.1"/><circle cx="1440.82" cy="1705.2" r="4.1"/><circle cx="1441.67" cy="1709.41" r="4.1"/><circle cx="1436.2" cy="1713.62" r="4.1"/><circle cx="1435.77" cy="1717.83" r="4.1"/><circle cx="1418.1" cy="1722.46" r="4.1"/><circle cx="1397.47" cy="1726.67" r="4.1"/><circle cx="1405.47" cy="1730.45" r="4.1"/><circle cx="1405.89" cy="1734.66" r="4.1"/><circle cx="1430.3" cy="1729.61" r="4.1"/><circle cx="1439.98" cy="1732.56" r="4.1"/><circle cx="1450.08" cy="1727.93" r="4.1"/><circle cx="1463.97" cy="1733.82" r="4.1"/><circle cx="1448.82" cy="1742.66" r="4.1"/><circle cx="1434.93" cy="1740.98" r="4.1"/><circle cx="1422.31" cy="1743.92" r="4.1"/><circle cx="1424.83" cy="1750.24" r="4.1"/><circle cx="1405.05" cy="1747.29" r="4.1"/><circle cx="1410.94" cy="1751.5" r="4.1"/><circle cx="1387.79" cy="1742.66" r="4.1"/><circle cx="1379.38" cy="1750.24" r="4.1"/><circle cx="1363.8" cy="1752.76" r="4.1"/><circle cx="1356.23" cy="1754.02" r="4.1"/><circle cx="1352.02" cy="1754.87" r="4.1"/><circle cx="1453.87" cy="1753.6" r="4.1"/><circle cx="1444.61" cy="1757.81" r="4.1"/><circle cx="1440.4" cy="1761.18" r="4.1"/><circle cx="1426.52" cy="1761.18" r="4.1"/><circle cx="1426.09" cy="1766.23" r="4.1"/><circle cx="1447.98" cy="1767.07" r="4.1"/><circle cx="1447.56" cy="1773.8" r="4.1"/><circle cx="1470.71" cy="1767.91" r="4.1"/><circle cx="1460.61" cy="1777.17" r="4.1"/><circle cx="1471.55" cy="1781.8" r="4.1"/><circle cx="1468.6" cy="1787.69" r="4.1"/><circle cx="1479.97" cy="1788.54" r="4.1"/><circle cx="1458.5" cy="1791.48" r="4.1"/><circle cx="1442.09" cy="1792.32" r="4.1"/><circle cx="1446.72" cy="1783.06" r="4.1"/><circle cx="1425.67" cy="1778.86" r="4.1"/><circle cx="1419.36" cy="1776.75" r="4.1"/><circle cx="1423.57" cy="1795.69" r="4.1"/><circle cx="1422.31" cy="1802" r="4.1"/><circle cx="1433.67" cy="1800.74" r="4.1"/><circle cx="1424.41" cy="1813.37" r="4.1"/><circle cx="1431.14" cy="1818.84" r="4.1"/><circle cx="1381.06" cy="1839.46" r="4.1"/><circle cx="1371.38" cy="1843.67" r="4.1"/><circle cx="1354.12" cy="1843.67" r="4.1"/><circle cx="1195.39" cy="1837.48" r="4.1"/><circle cx="1380.28" cy="1807.81" r="4.1"/><circle cx="1276.83" cy="1772.85" r="4.1"/><circle cx="1251.09" cy="1834.52" r="4.1"/><circle cx="1377.7" cy="1770.02" r="4.1"/><circle cx="1345.06" cy="1786.92" r="4.1"/><circle cx="1250.68" cy="1824.76" r="4.1"/><circle cx="1363.52" cy="1785.02" r="4.1"/><circle cx="1319.24" cy="1774.23" r="4.1"/><circle cx="1295.45" cy="1787.64" r="4.1"/><circle cx="1391" cy="1782.51" r="4.1"/><circle cx="1411.76" cy="1795.71" r="4.1"/><circle cx="1323.11" cy="1815.76" r="4.1"/><circle cx="1220.47" cy="1844.2" r="4.1"/><circle cx="1297.79" cy="1827.37" r="4.1"/><circle cx="1245.11" cy="1843.94" r="4.1"/><circle cx="1216.69" cy="1829.39" r="4.1"/><circle cx="1234.46" cy="1839.74" r="4.1"/><circle cx="1355.74" cy="1827.74" r="4.1"/><circle cx="1239.28" cy="1829.04" r="4.1"/><circle cx="1309.33" cy="1813.78" r="4.1"/><circle cx="1315.01" cy="1795.7" r="4.1"/><circle cx="1383.44" cy="1813.55" r="4.1"/><circle cx="1287.76" cy="1842.55" r="4.1"/><circle cx="1262.99" cy="1805.83" r="4.1"/><circle cx="1206.64" cy="1824.8" r="4.1"/><circle cx="1318.66" cy="1842.41" r="4.1"/><circle cx="1346.94" cy="1732.87" r="4.1"/><circle cx="1334.01" cy="1742.85" r="4.1"/><circle cx="1238.78" cy="1843.6" r="4.1"/><circle cx="1364.08" cy="1783.39" r="4.1"/><circle cx="1224.22" cy="1838.84" r="4.1"/><circle cx="1300.48" cy="1805.7" r="4.1"/><circle cx="1346.83" cy="1733.21" r="4.1"/><circle cx="1265.02" cy="1842.92" r="4.1"/><circle cx="1359.61" cy="1829.35" r="4.1"/><circle cx="1342.69" cy="1823.43" r="4.1"/><circle cx="1255.88" cy="1829.26" r="4.1"/><circle cx="1295.58" cy="1810.77" r="4.1"/><circle cx="1182.63" cy="1840.79" r="4.1"/><circle cx="1353.62" cy="1809.06" r="4.1"/><circle cx="1355.58" cy="1737.02" r="4.1"/><circle cx="1357.92" cy="1780.87" r="4.1"/><circle cx="1348.17" cy="1833.16" r="4.1"/><circle cx="1345.13" cy="1754.65" r="4.1"/><circle cx="1242.09" cy="1814.64" r="4.1"/><circle cx="1336.01" cy="1830.28" r="4.1"/><circle cx="1232.11" cy="1825.21" r="4.1"/><circle cx="1410.55" cy="1740.76" r="4.1"/><circle cx="1289.84" cy="1827.02" r="4.1"/><circle cx="1257.45" cy="1797.19" r="4.1"/><circle cx="1383.23" cy="1721.4" r="4.1"/><circle cx="1352.91" cy="1803.61" r="4.1"/><circle cx="1268.18" cy="1843.34" r="4.1"/><circle cx="1245.34" cy="1830.69" r="4.1"/><circle cx="1313.52" cy="1774.71" r="4.1"/><circle cx="1244.01" cy="1819.36" r="4.1"/><circle cx="1276.28" cy="1837.13" r="4.1"/><circle cx="1289.65" cy="1841.85" r="4.1"/><circle cx="1263.67" cy="1835.82" r="4.1"/><circle cx="1272.07" cy="1833.23" r="4.1"/><circle cx="1414.15" cy="1771.52" r="4.1"/><circle cx="1332.85" cy="1824.88" r="4.1"/><circle cx="1391.35" cy="1813.41" r="4.1"/><circle cx="1241.19" cy="1825.96" r="4.1"/><circle cx="1254.49" cy="1815.64" r="4.1"/><circle cx="1349.43" cy="1797.16" r="4.1"/><circle cx="1321.61" cy="1794.61" r="4.1"/><circle cx="1350.9" cy="1796.39" r="4.1"/><circle cx="1343.63" cy="1776.72" r="4.1"/><circle cx="1359.19" cy="1716.42" r="4.1"/><circle cx="1256.4" cy="1836.33" r="4.1"/><circle cx="1364.32" cy="1711.77" r="4.1"/><circle cx="1300.66" cy="1820.51" r="4.1"/><circle cx="1341.43" cy="1807.58" r="4.1"/><circle cx="1232.65" cy="1843.45" r="4.1"/><circle cx="1272.49" cy="1838.76" r="4.1"/><circle cx="1411.22" cy="1724.51" r="4.1"/><circle cx="1269.03" cy="1821.86" r="4.1"/><circle cx="1191.22" cy="1829.3" r="4.1"/><circle cx="1257.55" cy="1804.35" r="4.1"/><circle cx="1408.27" cy="1793.97" r="4.1"/><circle cx="1300.11" cy="1767.41" r="4.1"/><circle cx="1327.47" cy="1820.05" r="4.1"/><circle cx="1369.56" cy="1815.12" r="4.1"/><circle cx="1362.49" cy="1828.35" r="4.1"/><circle cx="1352.13" cy="1803.44" r="4.1"/><circle cx="1229.34" cy="1841.45" r="4.1"/><circle cx="1338.55" cy="1797.55" r="4.1"/><circle cx="1401.33" cy="1792.82" r="4.1"/><circle cx="1321.69" cy="1744.98" r="4.1"/><circle cx="1408.86" cy="1764.04" r="4.1"/><circle cx="1325.59" cy="1844.02" r="4.1"/><circle cx="1260.14" cy="1831.28" r="4.1"/><circle cx="1313.74" cy="1836.46" r="4.1"/><circle cx="1348.67" cy="1817.63" r="4.1"/><circle cx="1283.34" cy="1769.05" r="4.1"/><circle cx="1292.28" cy="1811.1" r="4.1"/><circle cx="1335.51" cy="1777.85" r="4.1"/><circle cx="1270.62" cy="1832.43" r="4.1"/><circle cx="1306.77" cy="1804.81" r="4.1"/><circle cx="1379.73" cy="1741.77" r="4.1"/><circle cx="1380.84" cy="1807.96" r="4.1"/><circle cx="1397.22" cy="1769.23" r="4.1"/><circle cx="1363.59" cy="1731.53" r="4.1"/><circle cx="1288.88" cy="1802.39" r="4.1"/><circle cx="1224.62" cy="1842.06" r="4.1"/><circle cx="1272.31" cy="1776.3" r="4.1"/><circle cx="1377.43" cy="1710.87" r="4.1"/><circle cx="1219.62" cy="1811.68" r="4.1"/><circle cx="1258.17" cy="1840.28" r="4.1"/><circle cx="1396.77" cy="1743.4" r="4.1"/><circle cx="1320.93" cy="1725.41" r="4.1"/><circle cx="1223.95" cy="1810.49" r="4.1"/><circle cx="1322.33" cy="1844.19" r="4.1"/><circle cx="1321.78" cy="1788.35" r="4.1"/><circle cx="1240.02" cy="1819.82" r="4.1"/><circle cx="1278.1" cy="1805.86" r="4.1"/><circle cx="1241.2" cy="1820.13" r="4.1"/><circle cx="1279.07" cy="1793.84" r="4.1"/><circle cx="1290.25" cy="1834.69" r="4.1"/><circle cx="1233.62" cy="1836.52" r="4.1"/><circle cx="1355.7" cy="1821.63" r="4.1"/><circle cx="1216.21" cy="1816.26" r="4.1"/><circle cx="1264.37" cy="1843.59" r="4.1"/><circle cx="1395.78" cy="1732.62" r="4.1"/><circle cx="1207.2" cy="1843.99" r="4.1"/><circle cx="1250.55" cy="1809.36" r="4.1"/><circle cx="1353.57" cy="1726.49" r="4.1"/><circle cx="1350.9" cy="1739.02" r="4.1"/><circle cx="1203.3" cy="1844.2" r="4.1"/><circle cx="1373.05" cy="1782.01" r="4.1"/><circle cx="1264.93" cy="1773.73" r="4.1"/><circle cx="1395.57" cy="1729.83" r="4.1"/><circle cx="1272.66" cy="1817.01" r="4.1"/><circle cx="1336.86" cy="1836.66" r="4.1"/><circle cx="1350.54" cy="1828.6" r="4.1"/><circle cx="1220.14" cy="1808.46" r="4.1"/><circle cx="1335.72" cy="1785.41" r="4.1"/><circle cx="1352.94" cy="1800.03" r="4.1"/><circle cx="1343.82" cy="1767.73" r="4.1"/><circle cx="1299.24" cy="1800.29" r="4.1"/><circle cx="1280.12" cy="1791.78" r="4.1"/><circle cx="1275.83" cy="1763" r="4.1"/><circle cx="1266.92" cy="1828.11" r="4.1"/><circle cx="1349.36" cy="1825.25" r="4.1"/><circle cx="1294.26" cy="1758.06" r="4.1"/><circle cx="1252.22" cy="1796.78" r="4.1"/><circle cx="1266.75" cy="1825.21" r="4.1"/><circle cx="1242.41" cy="1844.19" r="4.1"/><circle cx="1355.02" cy="1815.39" r="4.1"/><circle cx="1386.92" cy="1736.57" r="4.1"/><circle cx="1339.18" cy="1837.66" r="4.1"/><circle cx="1237.63" cy="1840.57" r="4.1"/><circle cx="1383.16" cy="1754.89" r="4.1"/><circle cx="1245.05" cy="1825.81" r="4.1"/><circle cx="1195.5" cy="1836.22" r="4.1"/><circle cx="1297.99" cy="1780.38" r="4.1"/><circle cx="1366.75" cy="1791.09" r="4.1"/><circle cx="1334.1" cy="1765.3" r="4.1"/><circle cx="1193.39" cy="1842.42" r="4.1"/><circle cx="1364.85" cy="1818.8" r="4.1"/><circle cx="1406.01" cy="1767.25" r="4.1"/><circle cx="1295.78" cy="1797.84" r="4.1"/><circle cx="1232.49" cy="1844.18" r="4.1"/><circle cx="1202.64" cy="1844.11" r="4.1"/><circle cx="1292.2" cy="1749.61" r="4.1"/><circle cx="1353.91" cy="1781.63" r="4.1"/><circle cx="1377.99" cy="1800.9" r="4.1"/><circle cx="1350.56" cy="1773.05" r="4.1"/><circle cx="1375.62" cy="1823.18" r="4.1"/><circle cx="1346.08" cy="1836.43" r="4.1"/><circle cx="1314.59" cy="1770.07" r="4.1"/><circle cx="1296.05" cy="1835.69" r="4.1"/><circle cx="1370.78" cy="1768.88" r="4.1"/><circle cx="1264.39" cy="1843.69" r="4.1"/><circle cx="1298.39" cy="1778.84" r="4.1"/><circle cx="1242.52" cy="1840.32" r="4.1"/><circle cx="1210.28" cy="1827.94" r="4.1"/><circle cx="1275.98" cy="1772.37" r="4.1"/><circle cx="1382.77" cy="1741.96" r="4.1"/><circle cx="1211.29" cy="1840.07" r="4.1"/><circle cx="1215.86" cy="1820.52" r="4.1"/><circle cx="1395.16" cy="1781.53" r="4.1"/><circle cx="1332.55" cy="1758.86" r="4.1"/><circle cx="1296.28" cy="1833.61" r="4.1"/><circle cx="1216.24" cy="1832.92" r="4.1"/><circle cx="1257.93" cy="1773.57" r="4.1"/><circle cx="1232.22" cy="1837.62" r="4.1"/><circle cx="1416.78" cy="1742.92" r="4.1"/><circle cx="1263.42" cy="1797.78" r="4.1"/><circle cx="1318.84" cy="1780.08" r="4.1"/><circle cx="1352.57" cy="1833.34" r="4.1"/><circle cx="1327.79" cy="1832.91" r="4.1"/><circle cx="1321.62" cy="1782.13" r="4.1"/><circle cx="1279.59" cy="1781.67" r="4.1"/><circle cx="1296.06" cy="1835.39" r="4.1"/><circle cx="1362.12" cy="1725.28" r="4.1"/><circle cx="1225.3" cy="1816.36" r="4.1"/><circle cx="1301.86" cy="1820.5" r="4.1"/><circle cx="1385.28" cy="1776.51" r="4.1"/><circle cx="1269.08" cy="1822.55" r="4.1"/><circle cx="1302.83" cy="1767.18" r="4.1"/><circle cx="1394.18" cy="1760.74" r="4.1"/><circle cx="1245.35" cy="1819.77" r="4.1"/><circle cx="1254.89" cy="1813.4" r="4.1"/><circle cx="1217.13" cy="1838.66" r="4.1"/><circle cx="1279.21" cy="1842.03" r="4.1"/><circle cx="1318.56" cy="1776.91" r="4.1"/><circle cx="1294.22" cy="1834.78" r="4.1"/><circle cx="1249.93" cy="1797.2" r="4.1"/><circle cx="1287.23" cy="1833.76" r="4.1"/><circle cx="1401.41" cy="1733.32" r="4.1"/><circle cx="1291.56" cy="1820.28" r="4.1"/><circle cx="1314.99" cy="1774.01" r="4.1"/><circle cx="1288.22" cy="1839.54" r="4.1"/><circle cx="1319.82" cy="1747.52" r="4.1"/><circle cx="1283.99" cy="1843.08" r="4.1"/><circle cx="1305.83" cy="1821.1" r="4.1"/><circle cx="1344.12" cy="1812.3" r="4.1"/><circle cx="1308.93" cy="1823.52" r="4.1"/><circle cx="1302.86" cy="1800.41" r="4.1"/><circle cx="1370.85" cy="1755.48" r="4.1"/><circle cx="1322.41" cy="1802.8" r="4.1"/><circle cx="1280.3" cy="1797.1" r="4.1"/><circle cx="1207.09" cy="1833.84" r="4.1"/><circle cx="1375.41" cy="1823.11" r="4.1"/><circle cx="1366.75" cy="1751.77" r="4.1"/><circle cx="1266.53" cy="1841.98" r="4.1"/><circle cx="1330.58" cy="1749.93" r="4.1"/><circle cx="1300.61" cy="1816.99" r="4.1"/><circle cx="1354.22" cy="1745.31" r="4.1"/><circle cx="1297.93" cy="1836.31" r="4.1"/><circle cx="1251.35" cy="1819.5" r="4.1"/><circle cx="1274.17" cy="1840.68" r="4.1"/><circle cx="1240.34" cy="1838.29" r="4.1"/><circle cx="1218.93" cy="1838.09" r="4.1"/><circle cx="1382.24" cy="1785.63" r="4.1"/><circle cx="1272.08" cy="1765.26" r="4.1"/><circle cx="1212.93" cy="1812.83" r="4.1"/><circle cx="1322.74" cy="1793.73" r="4.1"/><circle cx="1232.55" cy="1824.01" r="4.1"/><circle cx="1256.18" cy="1839.22" r="4.1"/><circle cx="1268.37" cy="1842.81" r="4.1"/><circle cx="1256.29" cy="1808.38" r="4.1"/><circle cx="1388.56" cy="1799.62" r="4.1"/><circle cx="1266.12" cy="1841.02" r="4.1"/><circle cx="1352.8" cy="1829.08" r="4.1"/><circle cx="1346.01" cy="1752.51" r="4.1"/><circle cx="1368.17" cy="1826.21" r="4.1"/><circle cx="1192.83" cy="1830.58" r="4.1"/><circle cx="1361.21" cy="1827.39" r="4.1"/><circle cx="1212.14" cy="1822.26" r="4.1"/><circle cx="1375.2" cy="1774.98" r="4.1"/><circle cx="1312.24" cy="1823.19" r="4.1"/><circle cx="1280.43" cy="1840.17" r="4.1"/><circle cx="1351.45" cy="1820.89" r="4.1"/><circle cx="1364.33" cy="1759.37" r="4.1"/><circle cx="1381.32" cy="1801.58" r="4.1"/><circle cx="1268.13" cy="1833.91" r="4.1"/><circle cx="1268.73" cy="1844.11" r="4.1"/><circle cx="1241.9" cy="1843.93" r="4.1"/><circle cx="1359.95" cy="1745.86" r="4.1"/><circle cx="1270.24" cy="1843.41" r="4.1"/><circle cx="1300.33" cy="1827.97" r="4.1"/><circle cx="1227.33" cy="1807.54" r="4.1"/><circle cx="1305.2" cy="1815.71" r="4.1"/><circle cx="1316.92" cy="1841.41" r="4.1"/><circle cx="1330.51" cy="1773.46" r="4.1"/><circle cx="1337.12" cy="1751.62" r="4.1"/><circle cx="1235.92" cy="1824.83" r="4.1"/><circle cx="1367.81" cy="1742.26" r="4.1"/><circle cx="1379.99" cy="1793.89" r="4.1"/><circle cx="1191.9" cy="1835.47" r="4.1"/><circle cx="1374.55" cy="1719.24" r="4.1"/><circle cx="1343.82" cy="1807.25" r="4.1"/><circle cx="1208.75" cy="1824.82" r="4.1"/><circle cx="1225.99" cy="1818.74" r="4.1"/><circle cx="1409.6" cy="1785.83" r="4.1"/><circle cx="1373.93" cy="1814.2" r="4.1"/><circle cx="1275.84" cy="1784.56" r="4.1"/><circle cx="1293.93" cy="1824.03" r="4.1"/><circle cx="1333.69" cy="1825" r="4.1"/><circle cx="1303.82" cy="1802.24" r="4.1"/><circle cx="1269.76" cy="1829.68" r="4.1"/><circle cx="1254.16" cy="1834.42" r="4.1"/><circle cx="1390.25" cy="1779.01" r="4.1"/><circle cx="1243.37" cy="1837.3" r="4.1"/><circle cx="1263.48" cy="1819.63" r="4.1"/><circle cx="1278.91" cy="1842.88" r="4.1"/><circle cx="1243.25" cy="1795.84" r="4.1"/><circle cx="1317.1" cy="1784.75" r="4.1"/><circle cx="1355.58" cy="1827.05" r="4.1"/><circle cx="1215.75" cy="1815.05" r="4.1"/><circle cx="1261" cy="1800.38" r="4.1"/><circle cx="1407.72" cy="1804.55" r="4.1"/><circle cx="1268.61" cy="1788.84" r="4.1"/><circle cx="1203.06" cy="1843.8" r="4.1"/><circle cx="1302.13" cy="1756.41" r="4.1"/><circle cx="1269.36" cy="1802.81" r="4.1"/><circle cx="1403.03" cy="1806.82" r="4.1"/><circle cx="1368.56" cy="1707.72" r="4.1"/><circle cx="1301.42" cy="1773.23" r="4.1"/><circle cx="1207.36" cy="1826.79" r="4.1"/><circle cx="1278.08" cy="1806.17" r="4.1"/><circle cx="1332.25" cy="1829.16" r="4.1"/><circle cx="1285.76" cy="1793.02" r="4.1"/><circle cx="1233.53" cy="1804.4" r="4.1"/><circle cx="1395.7" cy="1755.8" r="4.1"/><circle cx="1393.75" cy="1730.1" r="4.1"/><circle cx="1253.01" cy="1794.01" r="4.1"/><circle cx="1358.44" cy="1773.06" r="4.1"/><circle cx="1237.14" cy="1844.03" r="4.1"/><circle cx="1392.72" cy="1778.1" r="4.1"/><circle cx="1214.1" cy="1824.35" r="4.1"/><circle cx="1357.33" cy="1817.5" r="4.1"/><circle cx="1279.59" cy="1844.09" r="4.1"/><circle cx="1274.12" cy="1770.97" r="4.1"/><circle cx="1239.34" cy="1807.38" r="4.1"/><circle cx="1336.84" cy="1729.47" r="4.1"/><circle cx="1272.54" cy="1812.87" r="4.1"/><circle cx="1328.81" cy="1783.62" r="4.1"/><circle cx="1377.04" cy="1813.41" r="4.1"/><circle cx="1390.12" cy="1789.54" r="4.1"/><circle cx="1306.81" cy="1819.15" r="4.1"/><circle cx="1363.92" cy="1757.29" r="4.1"/><circle cx="1269.68" cy="1826.87" r="4.1"/><circle cx="1263.23" cy="1837.8" r="4.1"/><circle cx="1318.65" cy="1788.01" r="4.1"/><circle cx="1247.47" cy="1802.38" r="4.1"/><circle cx="1330.02" cy="1810.89" r="4.1"/><circle cx="1269.74" cy="1823.09" r="4.1"/><circle cx="1337.32" cy="1811.65" r="4.1"/><circle cx="1320.61" cy="1728" r="4.1"/><circle cx="1292.58" cy="1811.24" r="4.1"/><circle cx="1342.65" cy="1841" r="4.1"/><circle cx="1366.58" cy="1814.49" r="4.1"/><circle cx="1199.99" cy="1843.37" r="4.1"/><circle cx="1244.53" cy="1802.22" r="4.1"/><circle cx="1243.26" cy="1824.07" r="4.1"/><circle cx="1279.78" cy="1831.84" r="4.1"/><circle cx="1372.88" cy="1752.52" r="4.1"/><circle cx="1392.6" cy="1783.61" r="4.1"/><circle cx="1198.74" cy="1821.49" r="4.1"/><circle cx="1343.49" cy="1828.49" r="4.1"/><circle cx="1383.04" cy="1722.65" r="4.1"/><circle cx="1231.2" cy="1815.54" r="4.1"/><circle cx="1346.39" cy="1777.11" r="4.1"/><circle cx="1237.39" cy="1821.68" r="4.1"/><circle cx="1383.76" cy="1740.21" r="4.1"/><circle cx="1235.15" cy="1827.75" r="4.1"/><circle cx="1208.94" cy="1813.08" r="4.1"/><circle cx="1308.01" cy="1783.61" r="4.1"/><circle cx="1300.85" cy="1807.02" r="4.1"/><circle cx="1311.47" cy="1830.99" r="4.1"/><circle cx="1236.07" cy="1817.28" r="4.1"/><circle cx="1240.93" cy="1803.68" r="4.1"/><circle cx="1324.67" cy="1803.03" r="4.1"/><circle cx="1204.82" cy="1830.56" r="4.1"/><circle cx="1296.93" cy="1777.14" r="4.1"/><circle cx="1209.72" cy="1831.33" r="4.1"/><circle cx="1303.31" cy="1819.72" r="4.1"/><circle cx="1230.37" cy="1810.89" r="4.1"/><circle cx="1302.11" cy="1746.75" r="4.1"/><circle cx="1218.39" cy="1835.11" r="4.1"/><circle cx="1417.82" cy="1760.91" r="4.1"/><circle cx="1347.81" cy="1741.41" r="4.1"/><circle cx="1292.49" cy="1753.09" r="4.1"/><circle cx="1280.51" cy="1834.12" r="4.1"/><circle cx="1357.89" cy="1806.01" r="4.1"/><circle cx="1215.2" cy="1837.67" r="4.1"/><circle cx="1370.61" cy="1751.49" r="4.1"/><circle cx="1343.22" cy="1743.52" r="4.1"/><circle cx="1408.92" cy="1723.27" r="4.1"/><circle cx="1370.81" cy="1732.61" r="4.1"/><circle cx="1346.25" cy="1750" r="4.1"/><circle cx="1182.52" cy="1843.63" r="4.1"/><circle cx="1326.87" cy="1832.51" r="4.1"/><circle cx="1251.69" cy="1812.78" r="4.1"/><circle cx="1210.47" cy="1818.14" r="4.1"/><circle cx="1328.19" cy="1798.16" r="4.1"/><circle cx="1381.19" cy="1776.21" r="4.1"/><circle cx="1290.76" cy="1823.22" r="4.1"/><circle cx="1340.44" cy="1794.97" r="4.1"/><circle cx="1268.91" cy="1780.41" r="4.1"/><circle cx="1356.72" cy="1808.33" r="4.1"/><circle cx="1347.58" cy="1789.42" r="4.1"/><circle cx="1392.44" cy="1749" r="4.1"/><circle cx="1222.48" cy="1837.58" r="4.1"/><circle cx="1274.15" cy="1835.56" r="4.1"/><circle cx="1368.69" cy="1819.21" r="4.1"/><circle cx="1243.9" cy="1798.73" r="4.1"/><circle cx="1245.29" cy="1822.6" r="4.1"/><circle cx="1280.69" cy="1828.37" r="4.1"/><circle cx="1347.86" cy="1719.31" r="4.1"/><circle cx="1213.56" cy="1835.04" r="4.1"/><circle cx="1383.06" cy="1757.72" r="4.1"/><circle cx="1392.74" cy="1753.28" r="4.1"/><circle cx="1350.68" cy="1835.1" r="4.1"/><circle cx="1326.53" cy="1831.21" r="4.1"/><circle cx="1267.94" cy="1785.41" r="4.1"/><circle cx="1214.81" cy="1833.95" r="4.1"/><circle cx="1314.89" cy="1758.34" r="4.1"/><circle cx="1233.83" cy="1803.16" r="4.1"/><circle cx="1188.77" cy="1836.91" r="4.1"/><circle cx="1304.59" cy="1763.81" r="4.1"/><circle cx="1418.61" cy="1772.52" r="4.1"/><circle cx="1351.8" cy="1826.27" r="4.1"/><circle cx="1278.32" cy="1797.39" r="4.1"/><circle cx="1305.58" cy="1787.2" r="4.1"/><circle cx="1355.19" cy="1821.87" r="4.1"/><circle cx="1332.99" cy="1836.47" r="4.1"/><circle cx="1333.48" cy="1842.75" r="4.1"/><circle cx="1206.01" cy="1826.16" r="4.1"/><circle cx="1379.09" cy="1816.66" r="4.1"/><circle cx="1316.93" cy="1830.02" r="4.1"/><circle cx="1286.47" cy="1777.65" r="4.1"/><circle cx="1383.77" cy="1818.28" r="4.1"/><circle cx="1309.9" cy="1800.66" r="4.1"/><circle cx="1335.22" cy="1752.49" r="4.1"/><circle cx="1343.26" cy="1773.39" r="4.1"/><circle cx="1347.86" cy="1735.48" r="4.1"/><circle cx="1325.5" cy="1751.05" r="4.1"/><circle cx="1359.78" cy="1733.88" r="4.1"/><circle cx="1374.48" cy="1822.39" r="4.1"/><circle cx="1239.26" cy="1810.97" r="4.1"/><circle cx="1226.39" cy="1826.16" r="4.1"/><circle cx="1401.8" cy="1735.8" r="4.1"/><circle cx="1251.41" cy="1806.16" r="4.1"/><circle cx="1231.25" cy="1800.12" r="4.1"/><circle cx="1205.21" cy="1829.57" r="4.1"/><circle cx="1335.58" cy="1817.48" r="4.1"/><circle cx="1214.51" cy="1823.48" r="4.1"/><circle cx="1321.84" cy="1839.19" r="4.1"/><circle cx="1208.6" cy="1833.03" r="4.1"/><circle cx="1312.83" cy="1801.31" r="4.1"/><circle cx="1340.74" cy="1773.61" r="4.1"/><circle cx="1232.62" cy="1834.14" r="4.1"/><circle cx="1245.03" cy="1829.07" r="4.1"/><circle cx="1232.12" cy="1843.6" r="4.1"/><circle cx="1280.91" cy="1803.4" r="4.1"/><circle cx="1204.45" cy="1839.35" r="4.1"/><circle cx="1345.64" cy="1824.18" r="4.1"/><circle cx="1219.42" cy="1828.22" r="4.1"/><circle cx="1233.4" cy="1824.01" r="4.1"/><circle cx="1225.12" cy="1819.43" r="4.1"/><circle cx="1200.01" cy="1843.98" r="4.1"/><circle cx="1251.44" cy="1840.04" r="4.1"/><circle cx="1321.95" cy="1837.51" r="4.1"/><circle cx="1241.36" cy="1821.73" r="4.1"/><circle cx="1194.26" cy="1841.36" r="4.1"/><circle cx="1190.65" cy="1834.23" r="4.1"/><circle cx="1216.27" cy="1831.33" r="4.1"/><circle cx="1303.24" cy="1835.74" r="4.1"/><circle cx="1287.41" cy="1840.82" r="4.1"/><circle cx="1191.52" cy="1842.72" r="4.1"/><circle cx="1313.86" cy="1794.21" r="4.1"/><circle cx="1232.45" cy="1829.13" r="4.1"/><circle cx="1208.22" cy="1829.48" r="4.1"/><circle cx="1238.26" cy="1820.28" r="4.1"/><circle cx="1227.67" cy="1838.34" r="4.1"/><circle cx="1255.36" cy="1819.47" r="4.1"/><circle cx="1197.7" cy="1832.47" r="4.1"/><circle cx="1229.54" cy="1832.12" r="4.1"/><circle cx="1208.98" cy="1830.81" r="4.1"/><circle cx="1205.16" cy="1835.96" r="4.1"/><circle cx="1219" cy="1834.04" r="4.1"/><circle cx="1209.4" cy="1837.34" r="4.1"/><circle cx="1284.85" cy="1832.84" r="4.1"/><circle cx="1337.24" cy="1774.95" r="4.1"/><circle cx="1279.67" cy="1835.86" r="4.1"/><circle cx="1203.31" cy="1829.03" r="4.1"/><circle cx="1201.82" cy="1839.19" r="4.1"/><circle cx="1224.45" cy="1835.02" r="4.1"/><circle cx="1272.19" cy="1843.7" r="4.1"/><circle cx="1193.18" cy="1835.24" r="4.1"/><circle cx="1281.79" cy="1819.35" r="4.1"/><circle cx="1228.17" cy="1819.87" r="4.1"/><circle cx="1203.12" cy="1843.61" r="4.1"/><circle cx="1264.84" cy="1836.04" r="4.1"/><circle cx="1306.34" cy="1787.07" r="4.1"/><circle cx="1229.25" cy="1830.16" r="4.1"/><circle cx="1267.87" cy="1802.03" r="4.1"/><circle cx="1244.57" cy="1832.55" r="4.1"/><circle cx="1304.53" cy="1821.96" r="4.1"/><circle cx="1188.98" cy="1841.54" r="4.1"/><circle cx="1311.97" cy="1829.14" r="4.1"/><circle cx="1214.73" cy="1833.09" r="4.1"/><circle cx="1198.79" cy="1841.77" r="4.1"/><circle cx="1206.95" cy="1839" r="4.1"/><circle cx="1277.59" cy="1832.5" r="4.1"/><circle cx="1287.53" cy="1808.05" r="4.1"/><circle cx="1233.14" cy="1833.54" r="4.1"/><circle cx="1201.65" cy="1834.4" r="4.1"/><circle cx="1327.16" cy="1811.35" r="4.1"/><circle cx="1300.88" cy="1788.69" r="4.1"/><circle cx="1224.76" cy="1819.65" r="4.1"/><circle cx="1211" cy="1839.97" r="4.1"/><circle cx="1234.94" cy="1840.14" r="4.1"/><circle cx="1259.15" cy="1841.08" r="4.1"/><circle cx="1219.28" cy="1843.79" r="4.1"/><circle cx="1305.79" cy="1822.02" r="4.1"/><circle cx="1223.23" cy="1830.89" r="4.1"/><circle cx="1201.06" cy="1841.52" r="4.1"/><circle cx="1309.24" cy="1830.06" r="4.1"/><circle cx="1359.59" cy="1834.73" r="4.1"/><circle cx="1214.64" cy="1833.11" r="4.1"/><circle cx="1244.29" cy="1827.99" r="4.1"/><circle cx="1233.64" cy="1841.74" r="4.1"/><circle cx="1217.04" cy="1830.32" r="4.1"/><circle cx="1309.36" cy="1795.49" r="4.1"/><circle cx="1273.96" cy="1801.04" r="4.1"/><circle cx="1285.81" cy="1836.27" r="4.1"/><circle cx="1312.89" cy="1793.96" r="4.1"/><circle cx="1327.58" cy="1803.59" r="4.1"/><circle cx="1228.92" cy="1826.08" r="4.1"/><circle cx="1286.62" cy="1834.21" r="4.1"/><circle cx="1289.64" cy="1810.52" r="4.1"/><circle cx="1230.6" cy="1832.34" r="4.1"/><circle cx="1194.3" cy="1841.42" r="4.1"/><circle cx="1278.69" cy="1842.18" r="4.1"/><circle cx="1322.37" cy="1842.26" r="4.1"/><circle cx="1353.28" cy="1843.55" r="4.1"/><circle cx="1280.35" cy="1842.11" r="4.1"/><circle cx="1276.35" cy="1843.7" r="4.1"/><circle cx="1273.87" cy="1841.76" r="4.1"/><circle cx="1341.74" cy="1841.94" r="4.1"/><circle cx="1362.45" cy="1841.69" r="4.1"/><circle cx="1280.23" cy="1843.2" r="4.1"/><circle cx="1326.47" cy="1844.02" r="4.1"/><circle cx="1311.71" cy="1843.92" r="4.1"/><circle cx="1264.95" cy="1842.58" r="4.1"/><circle cx="1269.23" cy="1841.26" r="4.1"/><circle cx="1349.43" cy="1842.74" r="4.1"/><circle cx="1271.97" cy="1843.82" r="4.1"/><circle cx="1299.57" cy="1842.55" r="4.1"/><circle cx="1284.88" cy="1841.94" r="4.1"/><circle cx="1302.12" cy="1841.75" r="4.1"/><circle cx="1267.02" cy="1843.98" r="4.1"/><circle cx="1287.14" cy="1842.67" r="4.1"/><circle cx="1275.75" cy="1842.09" r="4.1"/><circle cx="1273.56" cy="1843.2" r="4.1"/><circle cx="1296.28" cy="1841.95" r="4.1"/><circle cx="1333.4" cy="1843.03" r="4.1"/><circle cx="1293.1" cy="1841.27" r="4.1"/><circle cx="1358.41" cy="1842.25" r="4.1"/><circle cx="1266.96" cy="1842.76" r="4.1"/><circle cx="1315.21" cy="1843.32" r="4.1"/><circle cx="1264.65" cy="1841.1" r="4.1"/><circle cx="1354.52" cy="1843.79" r="4.1"/><circle cx="1295.1" cy="1842.24" r="4.1"/><circle cx="1279.43" cy="1843.98" r="4.1"/><circle cx="1330.6" cy="1841.77" r="4.1"/><circle cx="1292.12" cy="1843.93" r="4.1"/><circle cx="1287.8" cy="1843.9" r="4.1"/><circle cx="1363.24" cy="1844.04" r="4.1"/><circle cx="1278.47" cy="1841.78" r="4.1"/><circle cx="1268.38" cy="1843.86" r="4.1"/><circle cx="1265.62" cy="1843.68" r="4.1"/><circle cx="1302.42" cy="1841.57" r="4.1"/><circle cx="1270.23" cy="1843.65" r="4.1"/><circle cx="1332.64" cy="1842.86" r="4.1"/><circle cx="1282.66" cy="1843.81" r="4.1"/><circle cx="1275.03" cy="1841.13" r="4.1"/><circle cx="1267.5" cy="1843.38" r="4.1"/><circle cx="1329.18" cy="1841.38" r="4.1"/><circle cx="1353.67" cy="1842.71" r="4.1"/><circle cx="1362.07" cy="1842.29" r="4.1"/><circle cx="1278.52" cy="1842.73" r="4.1"/><circle cx="1325.76" cy="1841.88" r="4.1"/><circle cx="1268.11" cy="1843.59" r="4.1"/><circle cx="1362.37" cy="1843.86" r="4.1"/><circle cx="1339.71" cy="1843.13" r="4.1"/><circle cx="1275.4" cy="1843.39" r="4.1"/><circle cx="1295.46" cy="1841.07" r="4.1"/><circle cx="1269.08" cy="1841.5" r="4.1"/><circle cx="1281.2" cy="1843.65" r="4.1"/><circle cx="1329.76" cy="1843.12" r="4.1"/><circle cx="1271.33" cy="1842.88" r="4.1"/><circle cx="1340.94" cy="1841.47" r="4.1"/></g>
<g stroke="#17658a" stroke-width="1.3"><line x1="1300.7" y1="1375.1" x2="1452.4" y2="1573.1"/><line x1="1328.8" y1="1345.5" x2="1467.2" y2="1555.7"/><line x1="1353" y1="1289" x2="1444.5" y2="1490.1"/><line x1="1382.3" y1="1318.2" x2="1462.3" y2="1504.5"/><line x1="1411.9" y1="1292.1" x2="1471.4" y2="1496.9"/><line x1="1438.8" y1="1353.1" x2="1490.8" y2="1553"/><line x1="1461.9" y1="1258" x2="1481.3" y2="1414.6"/><line x1="1488.5" y1="1290.2" x2="1485.8" y2="1507.1"/><line x1="1515.8" y1="1252.3" x2="1498" y2="1450.2"/><line x1="1543.5" y1="1210.5" x2="1503.3" y2="1388.4"/><line x1="1573.1" y1="1231.4" x2="1522.2" y2="1372.8"/><line x1="1600.8" y1="1226.5" x2="1514.7" y2="1406.6"/><line x1="1630.7" y1="1256.1" x2="1533.2" y2="1366"/><line x1="1653.5" y1="1292.1" x2="1512.8" y2="1456.3"/><line x1="1680" y1="1256.1" x2="1502.1" y2="1528.8"/><line x1="1693.3" y1="1336" x2="1507.1" y2="1558.3"/><line x1="1713.1" y1="1369" x2="1494.6" y2="1578.5"/><line x1="1721.8" y1="1136.6" x2="1592.4" y2="1106.2"/><line x1="1744.6" y1="1366.4" x2="1506.7" y2="1580.7"/><line x1="1771.1" y1="1333.4" x2="1538.6" y2="1560.6"/><line x1="1799.6" y1="1334.9" x2="1663.7" y2="1523.1"/><line x1="1816.6" y1="1115" x2="1724.4" y2="1061.5"/></g>
<g fill="#a3382e" fill-opacity="0.62"><circle cx="1414.5" cy="1350.1" r="4.1"/><circle cx="1533.2" cy="1366" r="4.1"/><circle cx="1522.2" cy="1372.8" r="4.1"/><circle cx="1503.3" cy="1388.4" r="4.1"/><circle cx="1514.7" cy="1406.6" r="4.1"/><circle cx="1481.3" cy="1414.6" r="4.1"/><circle cx="1498" cy="1450.2" r="4.1"/><circle cx="1512.8" cy="1456.3" r="4.1"/><circle cx="1436.1" cy="1463.9" r="4.1"/><circle cx="1444.5" cy="1490.1" r="4.1"/><circle cx="1471.4" cy="1496.9" r="4.1"/><circle cx="1462.3" cy="1504.5" r="4.1"/><circle cx="1485.8" cy="1507.1" r="4.1"/><circle cx="1426.3" cy="1515.5" r="4.1"/><circle cx="1433.9" cy="1519.7" r="4.1"/><circle cx="1502.1" cy="1528.8" r="4.1"/><circle cx="1411.5" cy="1535.2" r="4.1"/><circle cx="1663.7" cy="1523.1" r="4.1"/><circle cx="1332.9" cy="1549.6" r="4.1"/><circle cx="1467.2" cy="1555.7" r="4.1"/><circle cx="1490.8" cy="1553" r="4.1"/><circle cx="1507.1" cy="1558.3" r="4.1"/><circle cx="1538.6" cy="1560.6" r="4.1"/><circle cx="1360.6" cy="1570.5" r="4.1"/><circle cx="1452.4" cy="1573.1" r="4.1"/><circle cx="1494.6" cy="1578.5" r="4.1"/><circle cx="1506.7" cy="1580.7" r="4.1"/><circle cx="1394.4" cy="1578.1" r="4.1"/><circle cx="1408.8" cy="1578.1" r="4.1"/><circle cx="1409.6" cy="1583.4" r="4.1"/><circle cx="1298.8" cy="1591" r="4.1"/><circle cx="1527.2" cy="1602.4" r="4.1"/><circle cx="1543.9" cy="1605.8" r="4.1"/><circle cx="1336.7" cy="1624" r="4.1"/><circle cx="1383.8" cy="1619.4" r="4.1"/><circle cx="1383.4" cy="1624.7" r="4.1"/><circle cx="1400.9" cy="1633.1" r="4.1"/><circle cx="1412.6" cy="1631.9" r="4.1"/><circle cx="1496.1" cy="1627.8" r="4.1"/><circle cx="1507.1" cy="1639.9" r="4.1"/><circle cx="1347" cy="1644.1" r="4.1"/><circle cx="1468.8" cy="1646.4" r="4.1"/><circle cx="1672.1" cy="1625.1" r="4.1"/><circle cx="1592.4" cy="1106.2" r="4.1"/><circle cx="1724.4" cy="1061.5" r="4.1"/></g>
<g font-family='"Liberation Sans", Arial, Helvetica, sans-serif' font-weight="bold" font-size="21.2" fill="#17658a"><text transform="translate(1308.4 1369.9) rotate(-90) scale(0.917 1)">CREB1–PPARA–GABPA</text><text transform="translate(1336.1 1340.7) rotate(-90) scale(0.917 1)">CREB1–NR2F2–CTCF</text><text transform="translate(1360.8 1285.3) rotate(-90) scale(0.917 1)">YY1–ONECUT1–CREB1</text><text transform="translate(1389.2 1313) rotate(-90) scale(0.917 1)">ONECUT1–CREB1–PPARA</text><text transform="translate(1419.2 1287.6) rotate(-90) scale(0.917 1)">RXRA–CREB1–PPARA</text><text transform="translate(1446.5 1347.9) rotate(-90) scale(0.917 1)">CREB1–HNF1A–PPARA</text><text transform="translate(1469.3 1254.9) rotate(-90) scale(0.917 1)">CREB1–NR2F2–TFAP2C</text><text transform="translate(1496.6 1286.4) rotate(-90) scale(0.917 1)">FOXA1–YY1–CREB1</text><text transform="translate(1523.2 1248.5) rotate(-90) scale(0.917 1)">SP1–ONECUT1–CREB1</text><text transform="translate(1551.6 1207.5) rotate(-90) scale(0.917 1)">SP1–CREB1–CTCF</text><text transform="translate(1580.8 1227.6) rotate(-90) scale(0.917 1)">CREB1–AHR–PPARA</text><text transform="translate(1608.5 1221.9) rotate(-90) scale(0.917 1)">CEBPA–SP1–CREB1</text><text transform="translate(1638.5 1251.1) rotate(-90) scale(0.917 1)">CEBPA–CREB1–PPARA</text><text transform="translate(1660.5 1287.6) rotate(-90) scale(0.917 1)">SP1–AP1–XBP1</text><text transform="translate(1687.8 1251.1) rotate(-90) scale(0.917 1)">FOXA1–CREB1–PPARA</text><text transform="translate(1702.2 1330.8) rotate(-90) scale(0.917 1)">SP1–CREB1–XBP1</text><text transform="translate(1721.2 1364.2) rotate(-90) scale(0.917 1)">CEBPA–NR2F2–CTCF</text><text transform="translate(1740.2 1244.7) rotate(-90) scale(0.917 1)">FOXA1–CREB1–NR2F2</text><text transform="translate(1755.3 1361.5) rotate(-90) scale(0.917 1)">AP1–CREB1–PPARA</text><text transform="translate(1779.2 1327) rotate(-90) scale(0.917 1)">YY1–SP1–CREB1</text><text transform="translate(1807.7 1329.3) rotate(-90) scale(0.917 1)">ONECUT1–CREB1–NR2F2</text><text transform="translate(1835 1218.1) rotate(-90) scale(0.917 1)">AP1–CREB1–NR2F2</text></g>
<rect x="1025.4" y="1023.9" width="824.2" height="858.3" fill="none" stroke="#333" stroke-width="1.9"/>
<line x1="1061.2" y1="1882.2" x2="1061.2" y2="1888" stroke="#333" stroke-width="3.3"/>
<text x="1061.2" y="1909.6" font-size="25.5" font-family='"Liberation Sans", Arial, Helvetica, sans-serif' text-anchor="middle" fill="#403d3b">0.0</text>
<line x1="1211.5" y1="1882.2" x2="1211.5" y2="1888" stroke="#333" stroke-width="3.3"/>
<text x="1211.5" y="1909.6" font-size="25.5" font-family='"Liberation Sans", Arial, Helvetica, sans-serif' text-anchor="middle" fill="#403d3b">0.1</text>
<line x1="1361.8" y1="1882.2" x2="1361.8" y2="1888" stroke="#333" stroke-width="3.3"/>
<text x="1361.8" y="1909.6" font-size="25.5" font-family='"Liberation Sans", Arial, Helvetica, sans-serif' text-anchor="middle" fill="#403d3b">0.2</text>
<line x1="1512.1" y1="1882.2" x2="1512.1" y2="1888" stroke="#333" stroke-width="3.3"/>
<text x="1512.1" y="1909.6" font-size="25.5" font-family='"Liberation Sans", Arial, Helvetica, sans-serif' text-anchor="middle" fill="#403d3b">0.3</text>
<line x1="1662.4" y1="1882.2" x2="1662.4" y2="1888" stroke="#333" stroke-width="3.3"/>
<text x="1662.4" y="1909.6" font-size="25.5" font-family='"Liberation Sans", Arial, Helvetica, sans-serif' text-anchor="middle" fill="#403d3b">0.4</text>
<line x1="1812.7" y1="1882.2" x2="1812.7" y2="1888" stroke="#333" stroke-width="3.3"/>
<text x="1812.7" y="1909.6" font-size="25.5" font-family='"Liberation Sans", Arial, Helvetica, sans-serif' text-anchor="middle" fill="#403d3b">0.5</text>
<line x1="1019.6" y1="1844.2" x2="1025.4" y2="1844.2" stroke="#333" stroke-width="3.3"/>
<text x="1015.5" y="1853.4" font-size="25.5" font-family='"Liberation Sans", Arial, Helvetica, sans-serif' text-anchor="end" fill="#403d3b">0</text>
<line x1="1019.6" y1="1646.85" x2="1025.4" y2="1646.85" stroke="#333" stroke-width="3.3"/>
<text x="1015.5" y="1656.05" font-size="25.5" font-family='"Liberation Sans", Arial, Helvetica, sans-serif' text-anchor="end" fill="#403d3b">5</text>
<line x1="1019.6" y1="1449.5" x2="1025.4" y2="1449.5" stroke="#333" stroke-width="3.3"/>
<text x="1015.5" y="1458.7" font-size="25.5" font-family='"Liberation Sans", Arial, Helvetica, sans-serif' text-anchor="end" fill="#403d3b">10</text>
<line x1="1019.6" y1="1252.15" x2="1025.4" y2="1252.15" stroke="#333" stroke-width="3.3"/>
<text x="1015.5" y="1261.35" font-size="25.5" font-family='"Liberation Sans", Arial, Helvetica, sans-serif' text-anchor="end" fill="#403d3b">15</text>
<line x1="1019.6" y1="1054.8" x2="1025.4" y2="1054.8" stroke="#333" stroke-width="3.3"/>
<text x="1015.5" y="1064" font-size="25.5" font-family='"Liberation Sans", Arial, Helvetica, sans-serif' text-anchor="end" fill="#403d3b">20</text>
<text x="1437.4" y="1939.6" font-size="28.3" font-family='"Liberation Sans", Arial, Helvetica, sans-serif' text-anchor="middle" fill="#111">Relative Expression Difference</text>
<text x="972" y="1456.5" font-size="28.3" font-family='"Liberation Sans", Arial, Helvetica, sans-serif' fill="#111" text-anchor="middle" transform="rotate(-90 972 1456.5)">−log<tspan font-size="19.8" dy="5.5">10</tspan><tspan dy="-5.5">( Adjusted p−value )</tspan></text>
</g>
<g id="panel_f">
<text x="-1.1" y="2018.6" font-size="38" font-family='"Liberation Sans", Arial, Helvetica, sans-serif' font-weight="bold" fill="#111">f</text>
<line x1="231.8" y1="2043.4" x2="231.8" y2="2387" stroke="#808080" stroke-width="1.5"/><line x1="308.4" y1="2043.4" x2="308.4" y2="2387" stroke="#808080" stroke-width="1.5"/><line x1="384.7" y1="2043.4" x2="384.7" y2="2387" stroke="#808080" stroke-width="1.5"/><line x1="461.1" y1="2043.4" x2="461.1" y2="2387" stroke="#808080" stroke-width="1.5"/><line x1="537.7" y1="2043.4" x2="537.7" y2="2387" stroke="#808080" stroke-width="1.5"/><line x1="155.7" y1="2065.1" x2="537.7" y2="2065.1" stroke="#808080" stroke-width="1.5"/><line x1="155.7" y1="2108.3" x2="537.7" y2="2108.3" stroke="#808080" stroke-width="1.5"/><line x1="155.7" y1="2151.2" x2="537.7" y2="2151.2" stroke="#808080" stroke-width="1.5"/><line x1="155.7" y1="2194.4" x2="537.7" y2="2194.4" stroke="#808080" stroke-width="1.5"/><line x1="155.7" y1="2237" x2="537.7" y2="2237" stroke="#808080" stroke-width="1.5"/><line x1="155.7" y1="2280.2" x2="537.7" y2="2280.2" stroke="#808080" stroke-width="1.5"/><line x1="155.7" y1="2322.9" x2="537.7" y2="2322.9" stroke="#808080" stroke-width="1.5"/><line x1="155.7" y1="2366" x2="537.7" y2="2366" stroke="#808080" stroke-width="1.5"/>
<line x1="199.08" y1="2065.1" x2="223.5" y2="2065.1" stroke="#2d2d2d" stroke-width="1.5"/><line x1="243.66" y1="2065.1" x2="245.55" y2="2065.1" stroke="#2d2d2d" stroke-width="1.5"/>
<line x1="199.08" y1="2062.3" x2="199.08" y2="2067.9" stroke="#2d2d2d" stroke-width="1.5"/><line x1="245.55" y1="2062.3" x2="245.55" y2="2067.9" stroke="#2d2d2d" stroke-width="1.5"/>
<rect x="223.5" y="2058.2" width="20.15" height="13.8" fill="none" stroke="#2d2d2d" stroke-width="1.6"/>
<g fill="#ef7690"><circle cx="199.08" cy="2065.1" r="2.5"/><circle cx="221.84" cy="2065.1" r="2.5"/><circle cx="228.72" cy="2065.1" r="2.5"/><circle cx="236.54" cy="2065.1" r="2.5"/><circle cx="245.55" cy="2065.1" r="2.5"/><circle cx="298.9" cy="2065.1" r="2.5"/></g>
<line x1="232.28" y1="2056.9" x2="232.28" y2="2073.3" stroke="#ffa500" stroke-width="2.8"/>
<line x1="221.84" y1="2108.3" x2="238.2" y2="2108.3" stroke="#2d2d2d" stroke-width="1.5"/><line x1="302.22" y1="2108.3" x2="337.79" y2="2108.3" stroke="#2d2d2d" stroke-width="1.5"/>
<line x1="221.84" y1="2105.5" x2="221.84" y2="2111.1" stroke="#2d2d2d" stroke-width="1.5"/><line x1="337.79" y1="2105.5" x2="337.79" y2="2111.1" stroke="#2d2d2d" stroke-width="1.5"/>
<rect x="238.2" y="2101.4" width="64.02" height="13.8" fill="none" stroke="#2d2d2d" stroke-width="1.6"/>
<g fill="#c78f36"><circle cx="221.84" cy="2108.3" r="2.5"/><circle cx="238.2" cy="2108.3" r="2.5"/><circle cx="258.6" cy="2108.3" r="2.5"/><circle cx="276.62" cy="2108.3" r="2.5"/><circle cx="327.12" cy="2108.3" r="2.5"/><circle cx="337.79" cy="2108.3" r="2.5"/></g>
<line x1="258.6" y1="2100.1" x2="258.6" y2="2116.5" stroke="#ffa500" stroke-width="2.8"/>
<line x1="265.71" y1="2151.2" x2="270.45" y2="2151.2" stroke="#2d2d2d" stroke-width="1.5"/><line x1="291.32" y1="2151.2" x2="304.36" y2="2151.2" stroke="#2d2d2d" stroke-width="1.5"/>
<line x1="265.71" y1="2148.4" x2="265.71" y2="2154" stroke="#2d2d2d" stroke-width="1.5"/><line x1="304.36" y1="2148.4" x2="304.36" y2="2154" stroke="#2d2d2d" stroke-width="1.5"/>
<rect x="270.45" y="2144.3" width="20.87" height="13.8" fill="none" stroke="#2d2d2d" stroke-width="1.6"/>
<g fill="#97a030"><circle cx="265.71" cy="2151.2" r="2.5"/><circle cx="266.89" cy="2151.2" r="2.5"/><circle cx="281.59" cy="2151.2" r="2.5"/><circle cx="293.92" cy="2151.2" r="2.5"/><circle cx="304.36" cy="2151.2" r="2.5"/></g>
<line x1="281.59" y1="2143" x2="281.59" y2="2159.4" stroke="#ffa500" stroke-width="2.8"/>
<line x1="294.64" y1="2194.4" x2="295.35" y2="2194.4" stroke="#2d2d2d" stroke-width="1.5"/><line x1="315.98" y1="2194.4" x2="342.06" y2="2194.4" stroke="#2d2d2d" stroke-width="1.5"/>
<line x1="294.64" y1="2191.6" x2="294.64" y2="2197.2" stroke="#2d2d2d" stroke-width="1.5"/><line x1="342.06" y1="2191.6" x2="342.06" y2="2197.2" stroke="#2d2d2d" stroke-width="1.5"/>
<rect x="295.35" y="2187.5" width="20.63" height="13.8" fill="none" stroke="#2d2d2d" stroke-width="1.6"/>
<g fill="#3cb068"><circle cx="294.64" cy="2194.4" r="2.5"/><circle cx="315.26" cy="2194.4" r="2.5"/><circle cx="315.98" cy="2194.4" r="2.5"/><circle cx="342.06" cy="2194.4" r="2.5"/></g>
<line x1="314.55" y1="2186.2" x2="314.55" y2="2202.6" stroke="#ffa500" stroke-width="2.8"/>
<line x1="297.24" y1="2237" x2="352.73" y2="2237" stroke="#2d2d2d" stroke-width="1.5"/><line x1="394.93" y1="2237" x2="421.01" y2="2237" stroke="#2d2d2d" stroke-width="1.5"/>
<line x1="297.24" y1="2234.2" x2="297.24" y2="2239.8" stroke="#2d2d2d" stroke-width="1.5"/><line x1="421.01" y1="2234.2" x2="421.01" y2="2239.8" stroke="#2d2d2d" stroke-width="1.5"/>
<rect x="352.73" y="2230.1" width="42.21" height="13.8" fill="none" stroke="#2d2d2d" stroke-width="1.6"/>
<g fill="#42afa6"><circle cx="297.24" cy="2237" r="2.5"/><circle cx="352.25" cy="2237" r="2.5"/><circle cx="357.94" cy="2237" r="2.5"/><circle cx="361.5" cy="2237" r="2.5"/><circle cx="381.65" cy="2237" r="2.5"/><circle cx="394.69" cy="2237" r="2.5"/><circle cx="415.09" cy="2237" r="2.5"/><circle cx="421.01" cy="2237" r="2.5"/></g>
<line x1="361.5" y1="2228.8" x2="361.5" y2="2245.2" stroke="#ffa500" stroke-width="2.8"/>
<line x1="359.84" y1="2280.2" x2="365.29" y2="2280.2" stroke="#2d2d2d" stroke-width="1.5"/><line x1="388.77" y1="2280.2" x2="404.18" y2="2280.2" stroke="#2d2d2d" stroke-width="1.5"/>
<line x1="359.84" y1="2277.4" x2="359.84" y2="2283" stroke="#2d2d2d" stroke-width="1.5"/><line x1="404.18" y1="2277.4" x2="404.18" y2="2283" stroke="#2d2d2d" stroke-width="1.5"/>
<rect x="365.29" y="2273.3" width="23.47" height="13.8" fill="none" stroke="#2d2d2d" stroke-width="1.6"/>
<g fill="#45a3cd"><circle cx="313.6" cy="2280.2" r="2.5"/><circle cx="359.84" cy="2280.2" r="2.5"/><circle cx="365.29" cy="2280.2" r="2.5"/><circle cx="371.46" cy="2280.2" r="2.5"/><circle cx="379.28" cy="2280.2" r="2.5"/><circle cx="382.84" cy="2280.2" r="2.5"/><circle cx="388.29" cy="2280.2" r="2.5"/><circle cx="401.33" cy="2280.2" r="2.5"/><circle cx="403.7" cy="2280.2" r="2.5"/></g>
<line x1="379.28" y1="2272" x2="379.28" y2="2288.4" stroke="#ffa500" stroke-width="2.8"/>
<line x1="342.53" y1="2322.9" x2="371.46" y2="2322.9" stroke="#2d2d2d" stroke-width="1.5"/><line x1="401.33" y1="2322.9" x2="422.44" y2="2322.9" stroke="#2d2d2d" stroke-width="1.5"/>
<line x1="342.53" y1="2320.1" x2="342.53" y2="2325.7" stroke="#2d2d2d" stroke-width="1.5"/><line x1="422.44" y1="2320.1" x2="422.44" y2="2325.7" stroke="#2d2d2d" stroke-width="1.5"/>
<rect x="371.46" y="2316" width="29.88" height="13.8" fill="none" stroke="#2d2d2d" stroke-width="1.6"/>
<g fill="#ad92de"><circle cx="342.53" cy="2322.9" r="2.5"/><circle cx="359.84" cy="2322.9" r="2.5"/><circle cx="371.7" cy="2322.9" r="2.5"/><circle cx="379.52" cy="2322.9" r="2.5"/><circle cx="384.74" cy="2322.9" r="2.5"/><circle cx="401.33" cy="2322.9" r="2.5"/><circle cx="403.7" cy="2322.9" r="2.5"/><circle cx="422.44" cy="2322.9" r="2.5"/></g>
<line x1="379.76" y1="2314.7" x2="379.76" y2="2331.1" stroke="#ffa500" stroke-width="2.8"/>
<line x1="336.6" y1="2366" x2="365.29" y2="2366" stroke="#2d2d2d" stroke-width="1.5"/><line x1="418.41" y1="2366" x2="434.29" y2="2366" stroke="#2d2d2d" stroke-width="1.5"/>
<line x1="336.6" y1="2363.2" x2="336.6" y2="2368.8" stroke="#2d2d2d" stroke-width="1.5"/><line x1="434.29" y1="2363.2" x2="434.29" y2="2368.8" stroke="#2d2d2d" stroke-width="1.5"/>
<rect x="365.29" y="2359.1" width="53.11" height="13.8" fill="none" stroke="#2d2d2d" stroke-width="1.6"/>
<g fill="#d46cc0"><circle cx="336.6" cy="2366" r="2.5"/><circle cx="346.56" cy="2366" r="2.5"/><circle cx="365.29" cy="2366" r="2.5"/><circle cx="379.28" cy="2366" r="2.5"/><circle cx="388.53" cy="2366" r="2.5"/><circle cx="396.59" cy="2366" r="2.5"/><circle cx="417.93" cy="2366" r="2.5"/><circle cx="422.67" cy="2366" r="2.5"/><circle cx="434.29" cy="2366" r="2.5"/></g>
<line x1="388.53" y1="2357.8" x2="388.53" y2="2374.2" stroke="#ffa500" stroke-width="2.8"/>
<line x1="155.7" y1="2042.6" x2="155.7" y2="2388.5" stroke="#231f20" stroke-width="3.3"/>
<line x1="154.2" y1="2387" x2="539.2" y2="2387" stroke="#231f20" stroke-width="3.3"/>
<line x1="155.7" y1="2387" x2="155.7" y2="2406" stroke="#231f20" stroke-width="3.3"/>
<text x="155.7" y="2435.3" font-size="25" font-family='"Liberation Sans", Arial, Helvetica, sans-serif' text-anchor="middle" fill="#111">−1.5</text>
<line x1="231.8" y1="2387" x2="231.8" y2="2406" stroke="#231f20" stroke-width="3.3"/>
<text x="231.8" y="2435.3" font-size="25" font-family='"Liberation Sans", Arial, Helvetica, sans-serif' text-anchor="middle" fill="#111">−1.0</text>
<line x1="308.4" y1="2387" x2="308.4" y2="2406" stroke="#231f20" stroke-width="3.3"/>
<text x="308.4" y="2435.3" font-size="25" font-family='"Liberation Sans", Arial, Helvetica, sans-serif' text-anchor="middle" fill="#111">−0.5</text>
<line x1="384.7" y1="2387" x2="384.7" y2="2406" stroke="#231f20" stroke-width="3.3"/>
<text x="384.7" y="2435.3" font-size="25" font-family='"Liberation Sans", Arial, Helvetica, sans-serif' text-anchor="middle" fill="#111">0.0</text>
<line x1="461.1" y1="2387" x2="461.1" y2="2406" stroke="#231f20" stroke-width="3.3"/>
<text x="461.1" y="2435.3" font-size="25" font-family='"Liberation Sans", Arial, Helvetica, sans-serif' text-anchor="middle" fill="#111">0.5</text>
<line x1="537.7" y1="2387" x2="537.7" y2="2406" stroke="#231f20" stroke-width="3.3"/>
<text x="537.7" y="2435.3" font-size="25" font-family='"Liberation Sans", Arial, Helvetica, sans-serif' text-anchor="middle" fill="#111">1.0</text>
<text x="346.7" y="2025.2" font-size="31.4" font-family='"Liberation Sans", Arial, Helvetica, sans-serif' text-anchor="middle" fill="#111">FOXA1-NR2F2-REST</text>
<text x="346.7" y="2472.6" font-size="25" font-family='"Liberation Sans", Arial, Helvetica, sans-serif' text-anchor="middle" fill="#111">log2(RNA/DNA)</text>
<line x1="135.9" y1="2065.1" x2="155.7" y2="2065.1" stroke="#231f20" stroke-width="3.3"/>
<text x="125.5" y="2074" font-size="25" font-family='"Liberation Sans", Arial, Helvetica, sans-serif' text-anchor="end" fill="#111">T-NT-T</text>
<line x1="135.9" y1="2108.3" x2="155.7" y2="2108.3" stroke="#231f20" stroke-width="3.3"/>
<text x="125.5" y="2117.2" font-size="25" font-family='"Liberation Sans", Arial, Helvetica, sans-serif' text-anchor="end" fill="#111">T-NT-NT</text>
<line x1="135.9" y1="2151.2" x2="155.7" y2="2151.2" stroke="#231f20" stroke-width="3.3"/>
<text x="125.5" y="2160.1" font-size="25" font-family='"Liberation Sans", Arial, Helvetica, sans-serif' text-anchor="end" fill="#111">NT-NT-T</text>
<line x1="135.9" y1="2194.4" x2="155.7" y2="2194.4" stroke="#231f20" stroke-width="3.3"/>
<text x="125.5" y="2203.3" font-size="25" font-family='"Liberation Sans", Arial, Helvetica, sans-serif' text-anchor="end" fill="#111">NT-NT-NT</text>
<line x1="135.9" y1="2237" x2="155.7" y2="2237" stroke="#231f20" stroke-width="3.3"/>
<text x="125.5" y="2245.9" font-size="25" font-family='"Liberation Sans", Arial, Helvetica, sans-serif' text-anchor="end" fill="#111">T-T-T</text>
<line x1="135.9" y1="2280.2" x2="155.7" y2="2280.2" stroke="#231f20" stroke-width="3.3"/>
<text x="125.5" y="2289.1" font-size="25" font-family='"Liberation Sans", Arial, Helvetica, sans-serif' text-anchor="end" fill="#111">NT-T-T</text>
<line x1="135.9" y1="2322.9" x2="155.7" y2="2322.9" stroke="#231f20" stroke-width="3.3"/>
<text x="125.5" y="2331.8" font-size="25" font-family='"Liberation Sans", Arial, Helvetica, sans-serif' text-anchor="end" fill="#111">NT-T-NT</text>
<line x1="135.9" y1="2366" x2="155.7" y2="2366" stroke="#231f20" stroke-width="3.3"/>
<text x="125.5" y="2374.9" font-size="25" font-family='"Liberation Sans", Arial, Helvetica, sans-serif' text-anchor="end" fill="#111">T-T-NT</text>
<line x1="672" y1="2043.4" x2="672" y2="2387" stroke="#808080" stroke-width="1.5"/><line x1="748.6" y1="2043.4" x2="748.6" y2="2387" stroke="#808080" stroke-width="1.5"/><line x1="825.2" y1="2043.4" x2="825.2" y2="2387" stroke="#808080" stroke-width="1.5"/><line x1="901.6" y1="2043.4" x2="901.6" y2="2387" stroke="#808080" stroke-width="1.5"/><line x1="977.9" y1="2043.4" x2="977.9" y2="2387" stroke="#808080" stroke-width="1.5"/><line x1="595.9" y1="2065.1" x2="977.9" y2="2065.1" stroke="#808080" stroke-width="1.5"/><line x1="595.9" y1="2108.3" x2="977.9" y2="2108.3" stroke="#808080" stroke-width="1.5"/><line x1="595.9" y1="2151.2" x2="977.9" y2="2151.2" stroke="#808080" stroke-width="1.5"/><line x1="595.9" y1="2194.4" x2="977.9" y2="2194.4" stroke="#808080" stroke-width="1.5"/><line x1="595.9" y1="2237" x2="977.9" y2="2237" stroke="#808080" stroke-width="1.5"/><line x1="595.9" y1="2280.2" x2="977.9" y2="2280.2" stroke="#808080" stroke-width="1.5"/><line x1="595.9" y1="2322.9" x2="977.9" y2="2322.9" stroke="#808080" stroke-width="1.5"/><line x1="595.9" y1="2366" x2="977.9" y2="2366" stroke="#808080" stroke-width="1.5"/>
<line x1="725.39" y1="2065.1" x2="764.75" y2="2065.1" stroke="#2d2d2d" stroke-width="1.5"/><line x1="830.66" y1="2065.1" x2="865.28" y2="2065.1" stroke="#2d2d2d" stroke-width="1.5"/>
<line x1="725.39" y1="2062.3" x2="725.39" y2="2067.9" stroke="#2d2d2d" stroke-width="1.5"/><line x1="865.28" y1="2062.3" x2="865.28" y2="2067.9" stroke="#2d2d2d" stroke-width="1.5"/>
<rect x="764.75" y="2058.2" width="65.92" height="13.8" fill="none" stroke="#2d2d2d" stroke-width="1.6"/>
<g fill="#ef7690"><circle cx="725.39" cy="2065.1" r="2.5"/><circle cx="734.4" cy="2065.1" r="2.5"/><circle cx="739.14" cy="2065.1" r="2.5"/><circle cx="773.76" cy="2065.1" r="2.5"/><circle cx="783.95" cy="2065.1" r="2.5"/><circle cx="806.95" cy="2065.1" r="2.5"/><circle cx="810.98" cy="2065.1" r="2.5"/><circle cx="817.62" cy="2065.1" r="2.5"/><circle cx="828.29" cy="2065.1" r="2.5"/><circle cx="837.07" cy="2065.1" r="2.5"/><circle cx="847.97" cy="2065.1" r="2.5"/><circle cx="865.28" cy="2065.1" r="2.5"/></g>
<line x1="809.32" y1="2056.9" x2="809.32" y2="2073.3" stroke="#ffa500" stroke-width="2.8"/>
<line x1="712.82" y1="2108.3" x2="751" y2="2108.3" stroke="#2d2d2d" stroke-width="1.5"/><line x1="857.46" y1="2108.3" x2="888.04" y2="2108.3" stroke="#2d2d2d" stroke-width="1.5"/>
<line x1="712.82" y1="2105.5" x2="712.82" y2="2111.1" stroke="#2d2d2d" stroke-width="1.5"/><line x1="888.04" y1="2105.5" x2="888.04" y2="2111.1" stroke="#2d2d2d" stroke-width="1.5"/>
<rect x="751" y="2101.4" width="106.46" height="13.8" fill="none" stroke="#2d2d2d" stroke-width="1.6"/>
<g fill="#c78f36"><circle cx="712.82" cy="2108.3" r="2.5"/><circle cx="725.39" cy="2108.3" r="2.5"/><circle cx="748.15" cy="2108.3" r="2.5"/><circle cx="752.42" cy="2108.3" r="2.5"/><circle cx="755.26" cy="2108.3" r="2.5"/><circle cx="784.43" cy="2108.3" r="2.5"/><circle cx="847.74" cy="2108.3" r="2.5"/><circle cx="851.53" cy="2108.3" r="2.5"/><circle cx="856.75" cy="2108.3" r="2.5"/><circle cx="858.64" cy="2108.3" r="2.5"/><circle cx="888.04" cy="2108.3" r="2.5"/></g>
<line x1="816.2" y1="2100.1" x2="816.2" y2="2116.5" stroke="#ffa500" stroke-width="2.8"/>
<line x1="737.24" y1="2151.2" x2="794.39" y2="2151.2" stroke="#2d2d2d" stroke-width="1.5"/><line x1="835.88" y1="2151.2" x2="862.44" y2="2151.2" stroke="#2d2d2d" stroke-width="1.5"/>
<line x1="737.24" y1="2148.4" x2="737.24" y2="2154" stroke="#2d2d2d" stroke-width="1.5"/><line x1="862.44" y1="2148.4" x2="862.44" y2="2154" stroke="#2d2d2d" stroke-width="1.5"/>
<rect x="794.39" y="2144.3" width="41.49" height="13.8" fill="none" stroke="#2d2d2d" stroke-width="1.6"/>
<g fill="#97a030"><circle cx="737.24" cy="2151.2" r="2.5"/><circle cx="757.87" cy="2151.2" r="2.5"/><circle cx="806.48" cy="2151.2" r="2.5"/><circle cx="810.51" cy="2151.2" r="2.5"/><circle cx="814.07" cy="2151.2" r="2.5"/><circle cx="823.55" cy="2151.2" r="2.5"/><circle cx="832.32" cy="2151.2" r="2.5"/><circle cx="834.22" cy="2151.2" r="2.5"/><circle cx="840.62" cy="2151.2" r="2.5"/><circle cx="857.93" cy="2151.2" r="2.5"/><circle cx="862.44" cy="2151.2" r="2.5"/></g>
<line x1="819.05" y1="2143" x2="819.05" y2="2159.4" stroke="#ffa500" stroke-width="2.8"/>
<line x1="766.17" y1="2194.4" x2="783.72" y2="2194.4" stroke="#2d2d2d" stroke-width="1.5"/><line x1="844.42" y1="2194.4" x2="865.04" y2="2194.4" stroke="#2d2d2d" stroke-width="1.5"/>
<line x1="766.17" y1="2191.6" x2="766.17" y2="2197.2" stroke="#2d2d2d" stroke-width="1.5"/><line x1="865.04" y1="2191.6" x2="865.04" y2="2197.2" stroke="#2d2d2d" stroke-width="1.5"/>
<rect x="783.72" y="2187.5" width="60.7" height="13.8" fill="none" stroke="#2d2d2d" stroke-width="1.6"/>
<g fill="#3cb068"><circle cx="766.17" cy="2194.4" r="2.5"/><circle cx="776.37" cy="2194.4" r="2.5"/><circle cx="780.63" cy="2194.4" r="2.5"/><circle cx="784.9" cy="2194.4" r="2.5"/><circle cx="796.05" cy="2194.4" r="2.5"/><circle cx="808.85" cy="2194.4" r="2.5"/><circle cx="836.59" cy="2194.4" r="2.5"/><circle cx="842.05" cy="2194.4" r="2.5"/><circle cx="848.92" cy="2194.4" r="2.5"/><circle cx="860.3" cy="2194.4" r="2.5"/><circle cx="865.04" cy="2194.4" r="2.5"/></g>
<line x1="808.85" y1="2186.2" x2="808.85" y2="2202.6" stroke="#ffa500" stroke-width="2.8"/>
<line x1="753.13" y1="2237" x2="792.49" y2="2237" stroke="#2d2d2d" stroke-width="1.5"/><line x1="846.55" y1="2237" x2="858.17" y2="2237" stroke="#2d2d2d" stroke-width="1.5"/>
<line x1="753.13" y1="2234.2" x2="753.13" y2="2239.8" stroke="#2d2d2d" stroke-width="1.5"/><line x1="858.17" y1="2234.2" x2="858.17" y2="2239.8" stroke="#2d2d2d" stroke-width="1.5"/>
<rect x="792.49" y="2230.1" width="54.06" height="13.8" fill="none" stroke="#2d2d2d" stroke-width="1.6"/>
<g fill="#42afa6"><circle cx="753.13" cy="2237" r="2.5"/><circle cx="787.27" cy="2237" r="2.5"/><circle cx="794.39" cy="2237" r="2.5"/><circle cx="818.33" cy="2237" r="2.5"/><circle cx="834.93" cy="2237" r="2.5"/><circle cx="838.01" cy="2237" r="2.5"/><circle cx="846.55" cy="2237" r="2.5"/><circle cx="853.9" cy="2237" r="2.5"/><circle cx="858.17" cy="2237" r="2.5"/></g>
<line x1="827.11" y1="2228.8" x2="827.11" y2="2245.2" stroke="#ffa500" stroke-width="2.8"/>
<line x1="814.07" y1="2280.2" x2="827.34" y2="2280.2" stroke="#2d2d2d" stroke-width="1.5"/><line x1="852" y1="2280.2" x2="871.21" y2="2280.2" stroke="#2d2d2d" stroke-width="1.5"/>
<line x1="814.07" y1="2277.4" x2="814.07" y2="2283" stroke="#2d2d2d" stroke-width="1.5"/><line x1="871.21" y1="2277.4" x2="871.21" y2="2283" stroke="#2d2d2d" stroke-width="1.5"/>
<rect x="827.34" y="2273.3" width="24.66" height="13.8" fill="none" stroke="#2d2d2d" stroke-width="1.6"/>
<g fill="#45a3cd"><circle cx="814.07" cy="2280.2" r="2.5"/><circle cx="822.84" cy="2280.2" r="2.5"/><circle cx="829.48" cy="2280.2" r="2.5"/><circle cx="831.38" cy="2280.2" r="2.5"/><circle cx="838.96" cy="2280.2" r="2.5"/><circle cx="847.97" cy="2280.2" r="2.5"/><circle cx="850.82" cy="2280.2" r="2.5"/><circle cx="854.37" cy="2280.2" r="2.5"/><circle cx="871.21" cy="2280.2" r="2.5"/></g>
<line x1="843.7" y1="2272" x2="843.7" y2="2288.4" stroke="#ffa500" stroke-width="2.8"/>
<line x1="822.6" y1="2322.9" x2="849.16" y2="2322.9" stroke="#2d2d2d" stroke-width="1.5"/><line x1="878.32" y1="2322.9" x2="907.49" y2="2322.9" stroke="#2d2d2d" stroke-width="1.5"/>
<line x1="822.6" y1="2320.1" x2="822.6" y2="2325.7" stroke="#2d2d2d" stroke-width="1.5"/><line x1="907.49" y1="2320.1" x2="907.49" y2="2325.7" stroke="#2d2d2d" stroke-width="1.5"/>
<rect x="849.16" y="2316" width="29.16" height="13.8" fill="none" stroke="#2d2d2d" stroke-width="1.6"/>
<g fill="#ad92de"><circle cx="822.6" cy="2322.9" r="2.5"/><circle cx="838.96" cy="2322.9" r="2.5"/><circle cx="846.79" cy="2322.9" r="2.5"/><circle cx="850.11" cy="2322.9" r="2.5"/><circle cx="855.56" cy="2322.9" r="2.5"/><circle cx="864.33" cy="2322.9" r="2.5"/><circle cx="870.5" cy="2322.9" r="2.5"/><circle cx="874.05" cy="2322.9" r="2.5"/><circle cx="890.41" cy="2322.9" r="2.5"/><circle cx="894.68" cy="2322.9" r="2.5"/><circle cx="907.49" cy="2322.9" r="2.5"/></g>
<line x1="859.83" y1="2314.7" x2="859.83" y2="2331.1" stroke="#ffa500" stroke-width="2.8"/>
<line x1="844.18" y1="2366" x2="849.4" y2="2366" stroke="#2d2d2d" stroke-width="1.5"/><line x1="873.34" y1="2366" x2="882.12" y2="2366" stroke="#2d2d2d" stroke-width="1.5"/>
<line x1="844.18" y1="2363.2" x2="844.18" y2="2368.8" stroke="#2d2d2d" stroke-width="1.5"/><line x1="882.12" y1="2363.2" x2="882.12" y2="2368.8" stroke="#2d2d2d" stroke-width="1.5"/>
<rect x="849.4" y="2359.1" width="23.95" height="13.8" fill="none" stroke="#2d2d2d" stroke-width="1.6"/>
<g fill="#d46cc0"><circle cx="844.18" cy="2366" r="2.5"/><circle cx="848.45" cy="2366" r="2.5"/><circle cx="851.53" cy="2366" r="2.5"/><circle cx="858.41" cy="2366" r="2.5"/><circle cx="865.04" cy="2366" r="2.5"/><circle cx="871.21" cy="2366" r="2.5"/><circle cx="878.09" cy="2366" r="2.5"/><circle cx="882.12" cy="2366" r="2.5"/><circle cx="924.8" cy="2366" r="2.5"/></g>
<line x1="856.03" y1="2357.8" x2="856.03" y2="2374.2" stroke="#ffa500" stroke-width="2.8"/>
<line x1="595.9" y1="2042.6" x2="595.9" y2="2388.5" stroke="#231f20" stroke-width="3.3"/>
<line x1="594.4" y1="2387" x2="979.4" y2="2387" stroke="#231f20" stroke-width="3.3"/>
<line x1="595.9" y1="2387" x2="595.9" y2="2406" stroke="#231f20" stroke-width="3.3"/>
<text x="595.9" y="2435.3" font-size="25" font-family='"Liberation Sans", Arial, Helvetica, sans-serif' text-anchor="middle" fill="#111">−1.5</text>
<line x1="672" y1="2387" x2="672" y2="2406" stroke="#231f20" stroke-width="3.3"/>
<text x="672" y="2435.3" font-size="25" font-family='"Liberation Sans", Arial, Helvetica, sans-serif' text-anchor="middle" fill="#111">−1.0</text>
<line x1="748.6" y1="2387" x2="748.6" y2="2406" stroke="#231f20" stroke-width="3.3"/>
<text x="748.6" y="2435.3" font-size="25" font-family='"Liberation Sans", Arial, Helvetica, sans-serif' text-anchor="middle" fill="#111">−0.5</text>
<line x1="825.2" y1="2387" x2="825.2" y2="2406" stroke="#231f20" stroke-width="3.3"/>
<text x="825.2" y="2435.3" font-size="25" font-family='"Liberation Sans", Arial, Helvetica, sans-serif' text-anchor="middle" fill="#111">0.0</text>
<line x1="901.6" y1="2387" x2="901.6" y2="2406" stroke="#231f20" stroke-width="3.3"/>
<text x="901.6" y="2435.3" font-size="25" font-family='"Liberation Sans", Arial, Helvetica, sans-serif' text-anchor="middle" fill="#111">0.5</text>
<line x1="977.9" y1="2387" x2="977.9" y2="2406" stroke="#231f20" stroke-width="3.3"/>
<text x="977.9" y="2435.3" font-size="25" font-family='"Liberation Sans", Arial, Helvetica, sans-serif' text-anchor="middle" fill="#111">1.0</text>
<text x="786.9" y="2025.2" font-size="31.4" font-family='"Liberation Sans", Arial, Helvetica, sans-serif' text-anchor="middle" fill="#111">HNF4A-PPARA-XBP1</text>
<text x="786.9" y="2472.6" font-size="25" font-family='"Liberation Sans", Arial, Helvetica, sans-serif' text-anchor="middle" fill="#111">log2(RNA/DNA)</text>
<line x1="1109.4" y1="2043.4" x2="1109.4" y2="2387" stroke="#808080" stroke-width="1.5"/><line x1="1186" y1="2043.4" x2="1186" y2="2387" stroke="#808080" stroke-width="1.5"/><line x1="1262.6" y1="2043.4" x2="1262.6" y2="2387" stroke="#808080" stroke-width="1.5"/><line x1="1339" y1="2043.4" x2="1339" y2="2387" stroke="#808080" stroke-width="1.5"/><line x1="1415.5" y1="2043.4" x2="1415.5" y2="2387" stroke="#808080" stroke-width="1.5"/><line x1="1033.1" y1="2065.1" x2="1415.5" y2="2065.1" stroke="#808080" stroke-width="1.5"/><line x1="1033.1" y1="2108.3" x2="1415.5" y2="2108.3" stroke="#808080" stroke-width="1.5"/><line x1="1033.1" y1="2151.2" x2="1415.5" y2="2151.2" stroke="#808080" stroke-width="1.5"/><line x1="1033.1" y1="2194.4" x2="1415.5" y2="2194.4" stroke="#808080" stroke-width="1.5"/><line x1="1033.1" y1="2237" x2="1415.5" y2="2237" stroke="#808080" stroke-width="1.5"/><line x1="1033.1" y1="2280.2" x2="1415.5" y2="2280.2" stroke="#808080" stroke-width="1.5"/><line x1="1033.1" y1="2322.9" x2="1415.5" y2="2322.9" stroke="#808080" stroke-width="1.5"/><line x1="1033.1" y1="2366" x2="1415.5" y2="2366" stroke="#808080" stroke-width="1.5"/>
<line x1="1134.33" y1="2065.1" x2="1158.75" y2="2065.1" stroke="#2d2d2d" stroke-width="1.5"/><line x1="1197.4" y1="2065.1" x2="1228.46" y2="2065.1" stroke="#2d2d2d" stroke-width="1.5"/>
<line x1="1134.33" y1="2062.3" x2="1134.33" y2="2067.9" stroke="#2d2d2d" stroke-width="1.5"/><line x1="1228.46" y1="2062.3" x2="1228.46" y2="2067.9" stroke="#2d2d2d" stroke-width="1.5"/>
<rect x="1158.75" y="2058.2" width="38.65" height="13.8" fill="none" stroke="#2d2d2d" stroke-width="1.6"/>
<g fill="#ef7690"><circle cx="1134.33" cy="2065.1" r="2.5"/><circle cx="1159.22" cy="2065.1" r="2.5"/><circle cx="1162.78" cy="2065.1" r="2.5"/><circle cx="1196.69" cy="2065.1" r="2.5"/><circle cx="1228.46" cy="2065.1" r="2.5"/></g>
<line x1="1163.02" y1="2056.9" x2="1163.02" y2="2073.3" stroke="#ffa500" stroke-width="2.8"/>
<line x1="1127.69" y1="2108.3" x2="1150.21" y2="2108.3" stroke="#2d2d2d" stroke-width="1.5"/><line x1="1194.08" y1="2108.3" x2="1234.39" y2="2108.3" stroke="#2d2d2d" stroke-width="1.5"/>
<line x1="1127.69" y1="2105.5" x2="1127.69" y2="2111.1" stroke="#2d2d2d" stroke-width="1.5"/><line x1="1234.39" y1="2105.5" x2="1234.39" y2="2111.1" stroke="#2d2d2d" stroke-width="1.5"/>
<rect x="1150.21" y="2101.4" width="43.86" height="13.8" fill="none" stroke="#2d2d2d" stroke-width="1.6"/>
<g fill="#c78f36"><circle cx="1127.69" cy="2108.3" r="2.5"/><circle cx="1150.45" cy="2108.3" r="2.5"/><circle cx="1184.59" cy="2108.3" r="2.5"/><circle cx="1193.6" cy="2108.3" r="2.5"/><circle cx="1234.39" cy="2108.3" r="2.5"/></g>
<line x1="1184.59" y1="2100.1" x2="1184.59" y2="2116.5" stroke="#ffa500" stroke-width="2.8"/>
<line x1="1177.24" y1="2151.2" x2="1190.52" y2="2151.2" stroke="#2d2d2d" stroke-width="1.5"/><line x1="1216.13" y1="2151.2" x2="1217.31" y2="2151.2" stroke="#2d2d2d" stroke-width="1.5"/>
<line x1="1177.24" y1="2148.4" x2="1177.24" y2="2154" stroke="#2d2d2d" stroke-width="1.5"/><line x1="1217.31" y1="2148.4" x2="1217.31" y2="2154" stroke="#2d2d2d" stroke-width="1.5"/>
<rect x="1190.52" y="2144.3" width="25.61" height="13.8" fill="none" stroke="#2d2d2d" stroke-width="1.6"/>
<g fill="#97a030"><circle cx="1177.24" cy="2151.2" r="2.5"/><circle cx="1195.5" cy="2151.2" r="2.5"/><circle cx="1215.66" cy="2151.2" r="2.5"/><circle cx="1217.31" cy="2151.2" r="2.5"/></g>
<line x1="1205.22" y1="2143" x2="1205.22" y2="2159.4" stroke="#ffa500" stroke-width="2.8"/>
<line x1="1193.6" y1="2194.4" x2="1204.75" y2="2194.4" stroke="#2d2d2d" stroke-width="1.5"/><line x1="1228.7" y1="2194.4" x2="1231.54" y2="2194.4" stroke="#2d2d2d" stroke-width="1.5"/>
<line x1="1193.6" y1="2191.6" x2="1193.6" y2="2197.2" stroke="#2d2d2d" stroke-width="1.5"/><line x1="1231.54" y1="2191.6" x2="1231.54" y2="2197.2" stroke="#2d2d2d" stroke-width="1.5"/>
<rect x="1204.75" y="2187.5" width="23.95" height="13.8" fill="none" stroke="#2d2d2d" stroke-width="1.6"/>
<g fill="#3cb068"><circle cx="1193.6" cy="2194.4" r="2.5"/><circle cx="1205.46" cy="2194.4" r="2.5"/><circle cx="1219.45" cy="2194.4" r="2.5"/><circle cx="1231.54" cy="2194.4" r="2.5"/><circle cx="1281.33" cy="2194.4" r="2.5"/></g>
<line x1="1212.57" y1="2186.2" x2="1212.57" y2="2202.6" stroke="#ffa500" stroke-width="2.8"/>
<line x1="1216.6" y1="2237" x2="1228.7" y2="2237" stroke="#2d2d2d" stroke-width="1.5"/><line x1="1258.33" y1="2237" x2="1299.35" y2="2237" stroke="#2d2d2d" stroke-width="1.5"/>
<line x1="1216.6" y1="2234.2" x2="1216.6" y2="2239.8" stroke="#2d2d2d" stroke-width="1.5"/><line x1="1299.35" y1="2234.2" x2="1299.35" y2="2239.8" stroke="#2d2d2d" stroke-width="1.5"/>
<rect x="1228.7" y="2230.1" width="29.64" height="13.8" fill="none" stroke="#2d2d2d" stroke-width="1.6"/>
<g fill="#42afa6"><circle cx="1216.6" cy="2237" r="2.5"/><circle cx="1223.01" cy="2237" r="2.5"/><circle cx="1229.17" cy="2237" r="2.5"/><circle cx="1231.54" cy="2237" r="2.5"/><circle cx="1244.34" cy="2237" r="2.5"/><circle cx="1253.12" cy="2237" r="2.5"/><circle cx="1258.1" cy="2237" r="2.5"/><circle cx="1291.77" cy="2237" r="2.5"/><circle cx="1299.35" cy="2237" r="2.5"/></g>
<line x1="1244.34" y1="2228.8" x2="1244.34" y2="2245.2" stroke="#ffa500" stroke-width="2.8"/>
<line x1="1203.8" y1="2280.2" x2="1239.6" y2="2280.2" stroke="#2d2d2d" stroke-width="1.5"/><line x1="1269.48" y1="2280.2" x2="1307.42" y2="2280.2" stroke="#2d2d2d" stroke-width="1.5"/>
<line x1="1203.8" y1="2277.4" x2="1203.8" y2="2283" stroke="#2d2d2d" stroke-width="1.5"/><line x1="1307.42" y1="2277.4" x2="1307.42" y2="2283" stroke="#2d2d2d" stroke-width="1.5"/>
<rect x="1239.6" y="2273.3" width="29.88" height="13.8" fill="none" stroke="#2d2d2d" stroke-width="1.6"/>
<g fill="#45a3cd"><circle cx="1203.8" cy="2280.2" r="2.5"/><circle cx="1222.29" cy="2280.2" r="2.5"/><circle cx="1245.29" cy="2280.2" r="2.5"/><circle cx="1248.61" cy="2280.2" r="2.5"/><circle cx="1252.88" cy="2280.2" r="2.5"/><circle cx="1256.44" cy="2280.2" r="2.5"/><circle cx="1307.42" cy="2280.2" r="2.5"/><circle cx="1316.9" cy="2280.2" r="2.5"/></g>
<line x1="1251.93" y1="2272" x2="1251.93" y2="2288.4" stroke="#ffa500" stroke-width="2.8"/>
<line x1="1188.86" y1="2322.9" x2="1229.64" y2="2322.9" stroke="#2d2d2d" stroke-width="1.5"/><line x1="1289.16" y1="2322.9" x2="1301.96" y2="2322.9" stroke="#2d2d2d" stroke-width="1.5"/>
<line x1="1188.86" y1="2320.1" x2="1188.86" y2="2325.7" stroke="#2d2d2d" stroke-width="1.5"/><line x1="1301.96" y1="2320.1" x2="1301.96" y2="2325.7" stroke="#2d2d2d" stroke-width="1.5"/>
<rect x="1229.64" y="2316" width="59.51" height="13.8" fill="none" stroke="#2d2d2d" stroke-width="1.6"/>
<g fill="#ad92de"><circle cx="1188.86" cy="2322.9" r="2.5"/><circle cx="1211.39" cy="2322.9" r="2.5"/><circle cx="1236.05" cy="2322.9" r="2.5"/><circle cx="1263.55" cy="2322.9" r="2.5"/><circle cx="1273.75" cy="2322.9" r="2.5"/><circle cx="1286.31" cy="2322.9" r="2.5"/><circle cx="1295.56" cy="2322.9" r="2.5"/><circle cx="1301.96" cy="2322.9" r="2.5"/></g>
<line x1="1268.77" y1="2314.7" x2="1268.77" y2="2331.1" stroke="#ffa500" stroke-width="2.8"/>
<line x1="1233.68" y1="2366" x2="1246.95" y2="2366" stroke="#2d2d2d" stroke-width="1.5"/><line x1="1289.16" y1="2366" x2="1319.27" y2="2366" stroke="#2d2d2d" stroke-width="1.5"/>
<line x1="1233.68" y1="2363.2" x2="1233.68" y2="2368.8" stroke="#2d2d2d" stroke-width="1.5"/><line x1="1319.27" y1="2363.2" x2="1319.27" y2="2368.8" stroke="#2d2d2d" stroke-width="1.5"/>
<rect x="1246.95" y="2359.1" width="42.21" height="13.8" fill="none" stroke="#2d2d2d" stroke-width="1.6"/>
<g fill="#d46cc0"><circle cx="1233.68" cy="2366" r="2.5"/><circle cx="1238.65" cy="2366" r="2.5"/><circle cx="1247.19" cy="2366" r="2.5"/><circle cx="1253.83" cy="2366" r="2.5"/><circle cx="1259.05" cy="2366" r="2.5"/><circle cx="1278.25" cy="2366" r="2.5"/><circle cx="1289.63" cy="2366" r="2.5"/><circle cx="1319.27" cy="2366" r="2.5"/></g>
<line x1="1259.05" y1="2357.8" x2="1259.05" y2="2374.2" stroke="#ffa500" stroke-width="2.8"/>
<line x1="1033.1" y1="2042.6" x2="1033.1" y2="2388.5" stroke="#231f20" stroke-width="3.3"/>
<line x1="1031.6" y1="2387" x2="1417" y2="2387" stroke="#231f20" stroke-width="3.3"/>
<line x1="1033.1" y1="2387" x2="1033.1" y2="2406" stroke="#231f20" stroke-width="3.3"/>
<text x="1033.1" y="2435.3" font-size="25" font-family='"Liberation Sans", Arial, Helvetica, sans-serif' text-anchor="middle" fill="#111">−1.5</text>
<line x1="1109.4" y1="2387" x2="1109.4" y2="2406" stroke="#231f20" stroke-width="3.3"/>
<text x="1109.4" y="2435.3" font-size="25" font-family='"Liberation Sans", Arial, Helvetica, sans-serif' text-anchor="middle" fill="#111">−1.0</text>
<line x1="1186" y1="2387" x2="1186" y2="2406" stroke="#231f20" stroke-width="3.3"/>
<text x="1186" y="2435.3" font-size="25" font-family='"Liberation Sans", Arial, Helvetica, sans-serif' text-anchor="middle" fill="#111">−0.5</text>
<line x1="1262.6" y1="2387" x2="1262.6" y2="2406" stroke="#231f20" stroke-width="3.3"/>
<text x="1262.6" y="2435.3" font-size="25" font-family='"Liberation Sans", Arial, Helvetica, sans-serif' text-anchor="middle" fill="#111">0.0</text>
<line x1="1339" y1="2387" x2="1339" y2="2406" stroke="#231f20" stroke-width="3.3"/>
<text x="1339" y="2435.3" font-size="25" font-family='"Liberation Sans", Arial, Helvetica, sans-serif' text-anchor="middle" fill="#111">0.5</text>
<line x1="1415.5" y1="2387" x2="1415.5" y2="2406" stroke="#231f20" stroke-width="3.3"/>
<text x="1415.5" y="2435.3" font-size="25" font-family='"Liberation Sans", Arial, Helvetica, sans-serif' text-anchor="middle" fill="#111">1.0</text>
<text x="1224.3" y="2025.2" font-size="31.4" font-family='"Liberation Sans", Arial, Helvetica, sans-serif' text-anchor="middle" fill="#111">NR2F2-HNF1A-REST</text>
<text x="1224.3" y="2472.6" font-size="25" font-family='"Liberation Sans", Arial, Helvetica, sans-serif' text-anchor="middle" fill="#111">log2(RNA/DNA)</text>
<line x1="1547.3" y1="2043.4" x2="1547.3" y2="2387" stroke="#808080" stroke-width="1.5"/><line x1="1623.6" y1="2043.4" x2="1623.6" y2="2387" stroke="#808080" stroke-width="1.5"/><line x1="1700.2" y1="2043.4" x2="1700.2" y2="2387" stroke="#808080" stroke-width="1.5"/><line x1="1776.8" y1="2043.4" x2="1776.8" y2="2387" stroke="#808080" stroke-width="1.5"/><line x1="1853.4" y1="2043.4" x2="1853.4" y2="2387" stroke="#808080" stroke-width="1.5"/><line x1="1470.7" y1="2065.1" x2="1853.4" y2="2065.1" stroke="#808080" stroke-width="1.5"/><line x1="1470.7" y1="2108.3" x2="1853.4" y2="2108.3" stroke="#808080" stroke-width="1.5"/><line x1="1470.7" y1="2151.2" x2="1853.4" y2="2151.2" stroke="#808080" stroke-width="1.5"/><line x1="1470.7" y1="2194.4" x2="1853.4" y2="2194.4" stroke="#808080" stroke-width="1.5"/><line x1="1470.7" y1="2237" x2="1853.4" y2="2237" stroke="#808080" stroke-width="1.5"/><line x1="1470.7" y1="2280.2" x2="1853.4" y2="2280.2" stroke="#808080" stroke-width="1.5"/><line x1="1470.7" y1="2322.9" x2="1853.4" y2="2322.9" stroke="#808080" stroke-width="1.5"/><line x1="1470.7" y1="2366" x2="1853.4" y2="2366" stroke="#808080" stroke-width="1.5"/>
<line x1="1590.41" y1="2065.1" x2="1595.63" y2="2065.1" stroke="#2d2d2d" stroke-width="1.5"/><line x1="1616.97" y1="2065.1" x2="1616.97" y2="2065.1" stroke="#2d2d2d" stroke-width="1.5"/>
<line x1="1590.41" y1="2062.3" x2="1590.41" y2="2067.9" stroke="#2d2d2d" stroke-width="1.5"/><line x1="1616.97" y1="2062.3" x2="1616.97" y2="2067.9" stroke="#2d2d2d" stroke-width="1.5"/>
<rect x="1595.63" y="2058.2" width="21.34" height="13.8" fill="none" stroke="#2d2d2d" stroke-width="1.6"/>
<g fill="#ef7690"><circle cx="1590.41" cy="2065.1" r="2.5"/><circle cx="1595.86" cy="2065.1" r="2.5"/><circle cx="1604.87" cy="2065.1" r="2.5"/><circle cx="1616.49" cy="2065.1" r="2.5"/><circle cx="1723.9" cy="2065.1" r="2.5"/></g>
<line x1="1604.87" y1="2056.9" x2="1604.87" y2="2073.3" stroke="#ffa500" stroke-width="2.8"/>
<line x1="1636.88" y1="2108.3" x2="1652.06" y2="2108.3" stroke="#2d2d2d" stroke-width="1.5"/><line x1="1680.98" y1="2108.3" x2="1680.98" y2="2108.3" stroke="#2d2d2d" stroke-width="1.5"/>
<line x1="1636.88" y1="2105.5" x2="1636.88" y2="2111.1" stroke="#2d2d2d" stroke-width="1.5"/><line x1="1680.98" y1="2105.5" x2="1680.98" y2="2111.1" stroke="#2d2d2d" stroke-width="1.5"/>
<rect x="1652.06" y="2101.4" width="28.93" height="13.8" fill="none" stroke="#2d2d2d" stroke-width="1.6"/>
<g fill="#c78f36"><circle cx="1636.88" cy="2108.3" r="2.5"/><circle cx="1652.29" cy="2108.3" r="2.5"/><circle cx="1665.33" cy="2108.3" r="2.5"/><circle cx="1680.51" cy="2108.3" r="2.5"/><circle cx="1728.64" cy="2108.3" r="2.5"/></g>
<line x1="1665.33" y1="2100.1" x2="1665.33" y2="2116.5" stroke="#ffa500" stroke-width="2.8"/>
<line x1="1636.88" y1="2151.2" x2="1674.34" y2="2151.2" stroke="#2d2d2d" stroke-width="1.5"/><line x1="1708.01" y1="2151.2" x2="1722" y2="2151.2" stroke="#2d2d2d" stroke-width="1.5"/>
<line x1="1636.88" y1="2148.4" x2="1636.88" y2="2154" stroke="#2d2d2d" stroke-width="1.5"/><line x1="1722" y1="2148.4" x2="1722" y2="2154" stroke="#2d2d2d" stroke-width="1.5"/>
<rect x="1674.34" y="2144.3" width="33.67" height="13.8" fill="none" stroke="#2d2d2d" stroke-width="1.6"/>
<g fill="#97a030"><circle cx="1636.88" cy="2151.2" r="2.5"/><circle cx="1646.37" cy="2151.2" r="2.5"/><circle cx="1655.14" cy="2151.2" r="2.5"/><circle cx="1680.98" cy="2151.2" r="2.5"/><circle cx="1694.02" cy="2151.2" r="2.5"/><circle cx="1697.82" cy="2151.2" r="2.5"/><circle cx="1700.66" cy="2151.2" r="2.5"/><circle cx="1706.12" cy="2151.2" r="2.5"/><circle cx="1711.33" cy="2151.2" r="2.5"/><circle cx="1715.36" cy="2151.2" r="2.5"/><circle cx="1722" cy="2151.2" r="2.5"/></g>
<line x1="1698.29" y1="2143" x2="1698.29" y2="2159.4" stroke="#ffa500" stroke-width="2.8"/>
<line x1="1615.31" y1="2194.4" x2="1666.76" y2="2194.4" stroke="#2d2d2d" stroke-width="1.5"/><line x1="1726.98" y1="2194.4" x2="1754.49" y2="2194.4" stroke="#2d2d2d" stroke-width="1.5"/>
<line x1="1615.31" y1="2191.6" x2="1615.31" y2="2197.2" stroke="#2d2d2d" stroke-width="1.5"/><line x1="1754.49" y1="2191.6" x2="1754.49" y2="2197.2" stroke="#2d2d2d" stroke-width="1.5"/>
<rect x="1666.76" y="2187.5" width="60.23" height="13.8" fill="none" stroke="#2d2d2d" stroke-width="1.6"/>
<g fill="#3cb068"><circle cx="1615.31" cy="2194.4" r="2.5"/><circle cx="1636.41" cy="2194.4" r="2.5"/><circle cx="1665.81" cy="2194.4" r="2.5"/><circle cx="1668.65" cy="2194.4" r="2.5"/><circle cx="1708.96" cy="2194.4" r="2.5"/><circle cx="1714.18" cy="2194.4" r="2.5"/><circle cx="1726.51" cy="2194.4" r="2.5"/><circle cx="1752.12" cy="2194.4" r="2.5"/><circle cx="1754.49" cy="2194.4" r="2.5"/></g>
<line x1="1709.91" y1="2186.2" x2="1709.91" y2="2202.6" stroke="#ffa500" stroke-width="2.8"/>
<line x1="1670.55" y1="2237" x2="1689.52" y2="2237" stroke="#2d2d2d" stroke-width="1.5"/><line x1="1726.51" y1="2237" x2="1745" y2="2237" stroke="#2d2d2d" stroke-width="1.5"/>
<line x1="1670.55" y1="2234.2" x2="1670.55" y2="2239.8" stroke="#2d2d2d" stroke-width="1.5"/><line x1="1745" y1="2234.2" x2="1745" y2="2239.8" stroke="#2d2d2d" stroke-width="1.5"/>
<rect x="1689.52" y="2230.1" width="36.99" height="13.8" fill="none" stroke="#2d2d2d" stroke-width="1.6"/>
<g fill="#42afa6"><circle cx="1670.55" cy="2237" r="2.5"/><circle cx="1674.58" cy="2237" r="2.5"/><circle cx="1694.74" cy="2237" r="2.5"/><circle cx="1697.11" cy="2237" r="2.5"/><circle cx="1706.59" cy="2237" r="2.5"/><circle cx="1713.94" cy="2237" r="2.5"/><circle cx="1725.09" cy="2237" r="2.5"/><circle cx="1729.12" cy="2237" r="2.5"/><circle cx="1744.05" cy="2237" r="2.5"/></g>
<line x1="1701.14" y1="2228.8" x2="1701.14" y2="2245.2" stroke="#ffa500" stroke-width="2.8"/>
<line x1="1668.42" y1="2280.2" x2="1698.06" y2="2280.2" stroke="#2d2d2d" stroke-width="1.5"/><line x1="1725.09" y1="2280.2" x2="1735.04" y2="2280.2" stroke="#2d2d2d" stroke-width="1.5"/>
<line x1="1668.42" y1="2277.4" x2="1668.42" y2="2283" stroke="#2d2d2d" stroke-width="1.5"/><line x1="1735.04" y1="2277.4" x2="1735.04" y2="2283" stroke="#2d2d2d" stroke-width="1.5"/>
<rect x="1698.06" y="2273.3" width="27.03" height="13.8" fill="none" stroke="#2d2d2d" stroke-width="1.6"/>
<g fill="#45a3cd"><circle cx="1668.42" cy="2280.2" r="2.5"/><circle cx="1679.8" cy="2280.2" r="2.5"/><circle cx="1689.52" cy="2280.2" r="2.5"/><circle cx="1706.83" cy="2280.2" r="2.5"/><circle cx="1714.18" cy="2280.2" r="2.5"/><circle cx="1722.24" cy="2280.2" r="2.5"/><circle cx="1727.46" cy="2280.2" r="2.5"/><circle cx="1730.78" cy="2280.2" r="2.5"/><circle cx="1735.04" cy="2280.2" r="2.5"/></g>
<line x1="1714.18" y1="2272" x2="1714.18" y2="2288.4" stroke="#ffa500" stroke-width="2.8"/>
<line x1="1717.97" y1="2322.9" x2="1720.11" y2="2322.9" stroke="#2d2d2d" stroke-width="1.5"/><line x1="1741.21" y1="2322.9" x2="1749.27" y2="2322.9" stroke="#2d2d2d" stroke-width="1.5"/>
<line x1="1717.97" y1="2320.1" x2="1717.97" y2="2325.7" stroke="#2d2d2d" stroke-width="1.5"/><line x1="1749.27" y1="2320.1" x2="1749.27" y2="2325.7" stroke="#2d2d2d" stroke-width="1.5"/>
<rect x="1720.11" y="2316" width="21.1" height="13.8" fill="none" stroke="#2d2d2d" stroke-width="1.6"/>
<g fill="#ad92de"><circle cx="1717.97" cy="2322.9" r="2.5"/><circle cx="1720.82" cy="2322.9" r="2.5"/><circle cx="1737.89" cy="2322.9" r="2.5"/><circle cx="1749.27" cy="2322.9" r="2.5"/></g>
<line x1="1729.12" y1="2314.7" x2="1729.12" y2="2331.1" stroke="#ffa500" stroke-width="2.8"/>
<line x1="1695.68" y1="2366" x2="1723.43" y2="2366" stroke="#2d2d2d" stroke-width="1.5"/><line x1="1787.92" y1="2366" x2="1807.36" y2="2366" stroke="#2d2d2d" stroke-width="1.5"/>
<line x1="1695.68" y1="2363.2" x2="1695.68" y2="2368.8" stroke="#2d2d2d" stroke-width="1.5"/><line x1="1807.36" y1="2363.2" x2="1807.36" y2="2368.8" stroke="#2d2d2d" stroke-width="1.5"/>
<rect x="1723.43" y="2359.1" width="64.49" height="13.8" fill="none" stroke="#2d2d2d" stroke-width="1.6"/>
<g fill="#d46cc0"><circle cx="1695.68" cy="2366" r="2.5"/><circle cx="1722.71" cy="2366" r="2.5"/><circle cx="1726.75" cy="2366" r="2.5"/><circle cx="1740.97" cy="2366" r="2.5"/><circle cx="1803.09" cy="2366" r="2.5"/><circle cx="1807.36" cy="2366" r="2.5"/></g>
<line x1="1733.62" y1="2357.8" x2="1733.62" y2="2374.2" stroke="#ffa500" stroke-width="2.8"/>
<line x1="1470.7" y1="2042.6" x2="1470.7" y2="2388.5" stroke="#231f20" stroke-width="3.3"/>
<line x1="1469.2" y1="2387" x2="1854.9" y2="2387" stroke="#231f20" stroke-width="3.3"/>
<line x1="1470.7" y1="2387" x2="1470.7" y2="2406" stroke="#231f20" stroke-width="3.3"/>
<text x="1470.7" y="2435.3" font-size="25" font-family='"Liberation Sans", Arial, Helvetica, sans-serif' text-anchor="middle" fill="#111">−1.5</text>
<line x1="1547.3" y1="2387" x2="1547.3" y2="2406" stroke="#231f20" stroke-width="3.3"/>
<text x="1547.3" y="2435.3" font-size="25" font-family='"Liberation Sans", Arial, Helvetica, sans-serif' text-anchor="middle" fill="#111">−1.0</text>
<line x1="1623.6" y1="2387" x2="1623.6" y2="2406" stroke="#231f20" stroke-width="3.3"/>
<text x="1623.6" y="2435.3" font-size="25" font-family='"Liberation Sans", Arial, Helvetica, sans-serif' text-anchor="middle" fill="#111">−0.5</text>
<line x1="1700.2" y1="2387" x2="1700.2" y2="2406" stroke="#231f20" stroke-width="3.3"/>
<text x="1700.2" y="2435.3" font-size="25" font-family='"Liberation Sans", Arial, Helvetica, sans-serif' text-anchor="middle" fill="#111">0.0</text>
<line x1="1776.8" y1="2387" x2="1776.8" y2="2406" stroke="#231f20" stroke-width="3.3"/>
<text x="1776.8" y="2435.3" font-size="25" font-family='"Liberation Sans", Arial, Helvetica, sans-serif' text-anchor="middle" fill="#111">0.5</text>
<line x1="1853.4" y1="2387" x2="1853.4" y2="2406" stroke="#231f20" stroke-width="3.3"/>
<text x="1853.4" y="2435.3" font-size="25" font-family='"Liberation Sans", Arial, Helvetica, sans-serif' text-anchor="middle" fill="#111">1.0</text>
<text x="1662.05" y="2025.2" font-size="31.4" font-family='"Liberation Sans", Arial, Helvetica, sans-serif' text-anchor="middle" fill="#111">ONECUT1-NR2F2-PPARA</text>
<text x="1662.05" y="2472.6" font-size="25" font-family='"Liberation Sans", Arial, Helvetica, sans-serif' text-anchor="middle" fill="#111">log2(RNA/DNA)</text>
</g>
</svg>
</body></html>
